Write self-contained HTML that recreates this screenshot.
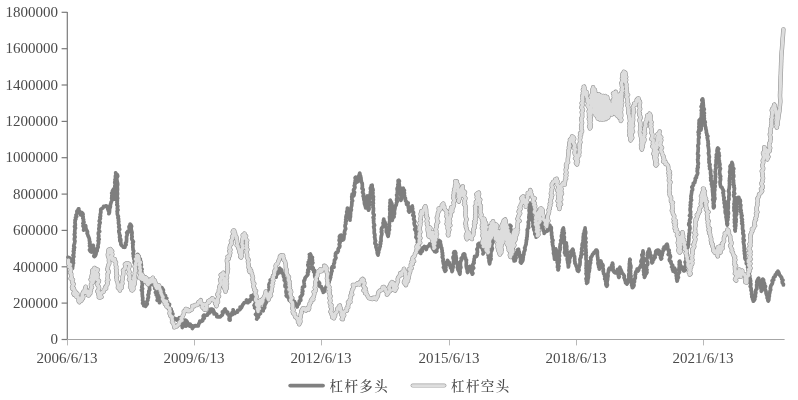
<!DOCTYPE html>
<html><head><meta charset="utf-8">
<style>
html,body{margin:0;padding:0;background:#fff;}
body{width:798px;height:400px;overflow:hidden;}
svg{display:block;will-change:transform;}
text{font-family:"Liberation Serif","Noto Serif CJK SC",serif;fill:#4a4a4a;}
.yl{font-size:15px;text-anchor:end;}
.xl{font-size:15px;text-anchor:middle;}
.lg{font-size:13.5px;letter-spacing:1.4px;font-weight:500;font-family:"Liberation Serif","Noto Serif CJK SC",serif;}
</style></head><body>
<svg width="798" height="400" viewBox="0 0 798 400">
<rect width="798" height="400" fill="#fff"/>
<!-- axes -->
<g stroke="#7a7a7a" stroke-width="1.2" fill="none">
<line x1="67.3" y1="12" x2="67.3" y2="339.5"/>
<g id="yt">
<line x1="61.6" y1="12.3" x2="67.3" y2="12.3"/>
<line x1="61.6" y1="48.7" x2="67.3" y2="48.7"/>
<line x1="61.6" y1="85" x2="67.3" y2="85"/>
<line x1="61.6" y1="121.4" x2="67.3" y2="121.4"/>
<line x1="61.6" y1="157.7" x2="67.3" y2="157.7"/>
<line x1="61.6" y1="194.1" x2="67.3" y2="194.1"/>
<line x1="61.6" y1="230.4" x2="67.3" y2="230.4"/>
<line x1="61.6" y1="266.8" x2="67.3" y2="266.8"/>
<line x1="61.6" y1="303.1" x2="67.3" y2="303.1"/>
<line x1="61.6" y1="339.5" x2="67.3" y2="339.5"/>
</g>
</g>
<g stroke="#a8a8a8" stroke-width="1" fill="none">
<line x1="67.3" y1="339.5" x2="784.6" y2="339.5" stroke="#a6a6a6" stroke-width="1.1"/>
<line x1="67.5" y1="340" x2="67.5" y2="345.4" stroke="#b8b8b8"/>
<line x1="194.5" y1="340" x2="194.5" y2="345.4" stroke="#b8b8b8"/>
<line x1="321.5" y1="340" x2="321.5" y2="345.4" stroke="#b8b8b8"/>
<line x1="449.5" y1="340" x2="449.5" y2="345.4" stroke="#b8b8b8"/>
<line x1="576.5" y1="340" x2="576.5" y2="345.4" stroke="#b8b8b8"/>
<line x1="703.5" y1="340" x2="703.5" y2="345.4" stroke="#b8b8b8"/>
</g>
<g class="yl">
<text x="58" y="17">1800000</text>
<text x="58" y="53.4">1600000</text>
<text x="58" y="89.7">1400000</text>
<text x="58" y="126.1">1200000</text>
<text x="58" y="162.4">1000000</text>
<text x="58" y="198.8">800000</text>
<text x="58" y="235.1">600000</text>
<text x="58" y="271.5">400000</text>
<text x="58" y="307.8">200000</text>
<text x="58" y="344.2">0</text>
</g>
<g class="xl">
<text x="67" y="363.3">2006/6/13</text>
<text x="194" y="363.3">2009/6/13</text>
<text x="321" y="363.3">2012/6/13</text>
<text x="449" y="363.3">2015/6/13</text>
<text x="576" y="363.3">2018/6/13</text>
<text x="703" y="363.3">2021/6/13</text>
</g>
<!-- SERIES -->
<g fill="none" stroke-linejoin="round" stroke-linecap="round">
<path d="M68.0 257.3 L69.4 257.7 L69.7 259.0 L69.7 260.4 L70.2 261.6 L70.5 262.9 L71.0 264.1 L71.4 265.3 L72.0 266.5 L71.8 268.0 L72.5 268.4 L72.6 266.9 L72.9 265.6 L72.6 264.3 L73.5 263.1 L73.1 261.7 L73.4 260.4 L73.0 259.1 L73.2 257.8 L73.9 256.6 L73.0 255.2 L73.7 254.0 L73.9 252.7 L73.3 251.3 L74.2 250.1 L73.6 248.7 L74.6 247.5 L73.7 246.1 L74.0 244.8 L74.5 243.6 L74.7 242.3 L75.0 241.0 L74.4 239.7 L74.4 238.4 L75.1 237.1 L74.7 235.8 L74.3 234.5 L75.0 233.2 L74.7 231.9 L74.8 230.6 L74.9 229.3 L75.5 228.0 L74.5 226.6 L75.3 225.4 L75.3 224.1 L74.9 222.8 L75.2 221.5 L75.0 220.1 L75.9 219.0 L75.5 217.6 L76.7 216.5 L76.0 215.0 L77.0 214.0 L77.0 212.6 L76.9 211.1 L78.0 210.2 L78.4 208.9 L78.8 208.8 L78.9 210.2 L79.3 211.3 L80.0 212.4 L81.0 213.5 L80.7 215.0 L81.1 213.8 L81.6 212.4 L82.5 213.1 L83.1 214.3 L82.6 215.7 L83.2 216.9 L82.8 218.3 L83.6 219.5 L83.3 220.8 L84.0 222.1 L82.9 223.4 L83.9 224.7 L83.0 226.0 L83.8 227.3 L84.0 228.6 L83.6 230.1 L84.4 229.0 L84.4 227.6 L84.8 226.3 L85.7 225.8 L85.7 227.0 L85.9 228.3 L86.3 229.5 L86.9 230.7 L87.5 231.9 L87.1 233.3 L87.7 234.4 L88.0 235.7 L88.6 236.9 L89.1 238.1 L89.4 239.4 L89.4 240.7 L90.0 242.0 L89.5 243.3 L90.3 244.5 L89.5 245.9 L90.3 247.2 L90.4 248.5 L89.5 249.8 L90.2 251.2 L91.3 252.0 L91.7 250.7 L92.1 249.4 L92.5 248.2 L92.8 247.0 L93.2 245.4 L93.5 246.9 L93.8 248.2 L93.6 249.5 L93.9 250.8 L94.5 252.0 L94.3 253.4 L94.5 254.6 L93.8 256.0 L94.5 256.6 L95.3 255.7 L95.9 254.5 L96.1 253.2 L96.1 251.8 L97.2 250.8 L97.1 249.4 L97.5 248.2 L98.2 247.1 L97.9 245.7 L98.2 244.4 L98.6 243.2 L98.7 241.9 L98.1 240.6 L99.2 239.3 L98.3 238.0 L98.8 236.7 L98.8 235.4 L98.3 234.0 L98.4 232.7 L99.7 231.5 L99.1 230.2 L98.8 228.9 L99.2 227.6 L99.4 226.3 L99.1 225.0 L99.8 223.7 L100.2 222.5 L99.2 221.1 L99.7 219.8 L100.4 218.6 L99.8 217.2 L100.6 216.0 L100.2 214.6 L100.6 213.4 L100.9 212.1 L100.7 210.8 L100.8 209.3 L101.9 208.6 L102.9 208.0 L103.6 206.4 L105.1 206.3 L106.4 205.8 L107.0 206.3 L107.5 207.5 L107.7 208.8 L108.2 210.0 L108.6 211.2 L109.3 212.4 L108.9 213.7 L109.4 212.6 L109.5 211.3 L109.6 209.9 L109.6 208.6 L110.2 207.4 L110.4 206.2 L110.3 204.8 L110.8 203.6 L111.1 202.3 L111.6 201.1 L112.1 199.8 L111.6 198.4 L112.0 197.2 L111.8 195.8 L112.6 194.6 L111.7 193.2 L112.6 192.0 L112.5 190.6 L113.6 189.7 L113.5 189.1 L113.7 190.3 L113.7 191.7 L114.0 192.9 L114.2 194.2 L114.0 195.6 L114.7 196.8 L114.2 198.2 L114.5 199.2 L114.5 197.8 L114.9 196.5 L114.2 195.2 L115.0 193.9 L114.8 192.6 L115.5 191.3 L115.4 190.0 L114.9 188.7 L115.0 187.4 L114.8 186.1 L115.7 184.8 L115.0 183.5 L114.7 182.2 L115.3 180.9 L115.0 179.6 L115.9 178.3 L115.4 177.0 L115.5 175.7 L116.1 174.4 L115.7 172.9 L116.5 174.3 L117.4 174.9 L117.7 176.2 L117.0 177.5 L116.7 178.8 L117.0 180.1 L117.1 181.4 L117.5 182.7 L117.7 184.0 L117.6 185.3 L117.2 186.6 L117.4 187.9 L117.5 189.2 L117.4 190.5 L117.2 191.8 L117.5 193.1 L117.5 194.4 L117.1 195.7 L117.3 197.0 L117.7 198.3 L117.0 199.6 L117.4 200.9 L116.9 202.2 L117.4 203.5 L116.8 204.8 L117.8 206.1 L117.5 207.4 L117.3 208.7 L118.0 209.9 L117.1 211.3 L117.4 212.6 L117.3 213.9 L117.7 215.2 L118.4 216.4 L117.9 217.8 L118.6 219.0 L118.4 220.4 L118.8 221.6 L118.4 223.0 L118.8 224.2 L119.3 225.5 L118.7 226.9 L119.2 228.1 L119.7 229.4 L118.8 230.8 L118.9 232.1 L119.4 233.3 L119.5 234.6 L120.2 235.8 L119.5 237.2 L120.2 238.4 L119.8 239.8 L120.0 241.1 L120.3 241.5 L120.8 240.2 L120.8 239.4 L120.8 240.5 L120.6 241.9 L120.9 243.1 L120.9 244.5 L121.8 245.7 L123.0 246.3 L123.3 247.2 L124.6 246.8 L124.9 247.2 L125.1 245.7 L126.1 244.7 L125.5 243.2 L126.4 242.0 L126.5 240.7 L126.6 239.4 L126.6 238.1 L126.5 236.8 L126.9 235.6 L127.3 234.3 L126.7 232.7 L128.1 232.0 L127.9 231.3 L128.7 231.9 L129.0 230.7 L129.6 229.5 L129.2 228.1 L129.0 226.7 L129.9 225.6 L130.1 224.1 L131.0 225.1 L131.6 226.3 L130.9 227.7 L131.1 229.0 L131.4 230.3 L131.8 231.5 L132.1 232.8 L131.9 234.1 L131.7 235.5 L132.2 236.7 L131.7 238.1 L131.9 239.4 L132.6 240.6 L133.4 241.8 L132.5 243.2 L133.1 244.4 L132.8 245.8 L132.8 247.1 L133.0 248.3 L133.0 249.7 L133.7 250.9 L133.4 252.2 L133.0 253.6 L133.9 254.8 L133.3 256.2 L133.8 257.4 L133.8 258.7 L134.5 259.9 L134.3 261.3 L134.2 262.6 L134.6 263.0 L135.0 261.7 L135.3 260.5 L135.5 259.1 L135.6 257.8 L136.9 257.0 L137.1 255.6 L137.7 254.4 L138.1 255.7 L139.2 256.6 L139.0 258.0 L140.3 258.9 L140.1 260.4 L140.8 261.5 L141.1 262.7 L141.1 264.0 L141.4 265.3 L140.6 266.7 L140.7 268.0 L142.0 269.2 L140.8 270.6 L141.8 271.8 L141.2 273.1 L141.9 274.4 L141.4 275.7 L141.4 277.0 L141.2 278.3 L141.5 279.6 L141.8 280.9 L142.3 282.2 L142.2 283.5 L142.4 284.8 L142.0 286.1 L141.8 287.4 L142.6 288.7 L141.4 290.1 L142.3 291.3 L142.3 292.6 L142.2 293.9 L142.4 295.2 L142.4 296.5 L142.8 297.8 L142.7 299.1 L142.6 300.4 L143.3 301.6 L142.6 303.3 L143.6 304.2 L143.7 305.6 L145.2 305.8 L145.5 306.3 L146.4 305.2 L147.3 304.0 L146.9 302.6 L147.0 301.3 L147.9 300.2 L147.7 298.8 L148.4 297.6 L148.4 296.3 L148.0 294.9 L148.9 293.7 L148.8 292.4 L148.8 291.1 L149.7 289.9 L149.5 288.6 L149.5 287.2 L149.6 285.9 L150.0 284.8 L150.2 285.1 L149.7 283.7 L150.5 281.5 L152.0 282.8 L152.8 284.0 L154.2 284.0 L156.4 284.2 L154.2 286.1 L156.0 287.0 L154.8 288.6 L156.2 289.6 L156.7 290.8 L155.5 292.4 L158.0 293.2 L156.3 294.9 L157.9 295.9 L157.3 297.4 L158.4 298.4 L157.2 300.3 L159.2 300.6 L160.0 301.6 L159.5 302.7 L159.6 301.7 L160.4 300.5 L161.7 299.5 L161.2 298.1 L160.1 296.5 L159.4 295.1 L160.5 294.0 L161.9 292.9 L161.4 291.5 L161.4 290.1 L162.7 289.0 L161.8 287.6 L161.4 289.7 L163.4 290.1 L162.6 291.8 L163.7 292.8 L163.9 294.1 L163.2 295.7 L165.5 295.5 L165.2 298.2 L166.8 298.3 L165.8 300.0 L165.6 301.5 L167.6 302.1 L167.1 303.7 L169.5 304.2 L169.2 305.7 L167.5 307.7 L169.3 308.4 L171.1 309.0 L171.2 310.4 L172.0 311.5 L169.9 313.8 L172.9 313.9 L172.2 315.6 L171.7 317.3 L173.0 318.1 L173.2 319.2 L173.3 317.9 L174.4 318.8 L175.3 318.6 L176.6 320.0 L177.3 319.1 L178.6 318.9 L179.3 317.8 L179.9 319.3 L181.0 320.2 L180.9 321.7 L180.6 323.2 L181.9 324.0 L181.8 325.5 L183.2 326.3 L182.3 327.5 L182.8 324.9 L185.8 326.1 L185.8 324.8 L183.3 322.9 L184.2 321.8 L185.5 320.7 L185.3 320.1 L186.5 320.9 L187.3 322.0 L186.1 324.5 L188.7 323.8 L188.3 325.5 L189.6 325.0 L190.3 324.1 L189.6 326.1 L192.6 325.8 L193.4 326.8 L192.3 328.5 L192.2 325.9 L194.2 326.4 L195.3 325.6 L196.8 326.0 L198.2 326.0 L198.7 323.9 L199.5 322.8 L199.8 321.0 L201.7 321.4 L202.8 320.5 L202.9 318.8 L204.2 318.2 L203.2 316.1 L203.9 315.1 L206.2 315.5 L207.4 315.1 L208.0 313.4 L209.4 313.0 L209.4 311.9 L210.0 311.8 L211.0 311.2 L210.3 309.3 L211.6 309.0 L213.2 309.7 L212.4 311.7 L214.1 311.7 L214.1 313.9 L215.6 313.7 L216.7 314.5 L216.8 316.6 L218.2 316.9 L219.0 316.8 L220.3 316.8 L221.2 315.8 L222.3 315.0 L222.7 313.7 L222.4 311.9 L224.5 312.0 L224.2 310.0 L225.1 309.0 L225.7 310.3 L226.3 311.5 L227.7 312.1 L227.4 313.8 L228.8 314.5 L229.0 315.8 L229.7 317.0 L229.1 318.6 L229.2 319.9 L230.1 320.1 L230.0 318.8 L229.6 317.3 L230.5 316.2 L230.8 314.9 L232.8 314.4 L232.0 312.6 L233.6 311.9 L233.1 309.9 L233.4 311.6 L234.5 312.3 L235.1 313.4 L235.9 312.1 L237.5 312.1 L237.7 310.3 L239.2 310.0 L240.3 309.1 L240.1 307.2 L241.5 307.7 L242.2 305.9 L242.8 304.7 L243.6 303.6 L244.3 302.5 L246.1 302.4 L247.3 301.8 L246.5 299.9 L247.7 300.9 L247.9 302.3 L248.1 302.6 L248.0 300.9 L249.9 301.3 L249.8 299.8 L251.7 299.3 L251.3 297.6 L251.1 295.8 L253.7 296.2 L253.1 294.9 L252.5 297.0 L254.5 297.3 L254.3 298.8 L255.1 299.9 L255.3 301.2 L256.7 302.3 L254.9 303.9 L254.1 305.4 L255.8 306.4 L254.7 307.8 L256.3 309.0 L257.6 310.2 L256.9 311.5 L257.3 312.8 L255.5 314.3 L256.8 315.5 L256.9 316.7 L257.5 318.0 L256.7 319.1 L257.3 318.0 L258.4 317.1 L257.2 315.2 L259.2 314.5 L260.4 313.6 L258.1 311.4 L258.6 310.2 L259.7 309.0 L260.6 308.0 L261.2 308.2 L262.7 308.6 L262.5 310.4 L263.2 310.8 L263.0 309.7 L263.9 308.6 L264.7 307.6 L264.5 306.1 L265.0 304.9 L265.5 303.7 L266.2 302.6 L266.8 301.4 L266.3 299.8 L268.1 299.1 L268.2 297.8 L267.3 296.2 L268.1 295.0 L268.4 293.8 L269.3 292.6 L268.5 291.1 L269.0 289.9 L270.2 288.7 L268.9 287.3 L269.3 286.0 L268.9 284.7 L269.5 283.4 L270.3 282.2 L270.6 280.9 L270.2 279.9 L270.6 281.5 L271.8 282.2 L271.6 280.7 L273.2 279.8 L272.6 278.3 L272.4 276.8 L273.1 275.5 L274.3 274.9 L274.6 273.8 L275.0 275.4 L275.9 276.3 L276.2 277.2 L276.2 275.4 L276.9 274.3 L277.9 273.7 L278.7 272.5 L278.5 271.1 L279.5 270.1 L279.3 268.7 L279.8 268.1 L280.3 269.3 L281.6 270.0 L281.9 271.3 L281.8 272.9 L283.1 273.6 L283.4 274.9 L283.5 276.3 L284.0 277.5 L284.8 278.6 L284.2 280.1 L285.3 281.2 L285.4 282.5 L285.6 283.8 L285.0 285.3 L285.1 286.5 L286.4 287.6 L286.7 288.9 L286.2 290.3 L286.0 291.6 L286.2 292.9 L287.3 294.0 L286.2 295.5 L287.2 296.8 L288.7 297.4 L288.8 298.8 L289.2 300.2 L290.3 299.2 L291.0 298.1 L292.6 297.8 L292.5 299.8 L293.2 300.9 L294.5 301.6 L295.0 302.7 L295.7 303.8 L296.7 304.8 L296.9 306.2 L297.2 306.9 L296.8 305.6 L298.1 304.7 L298.9 303.6 L299.3 302.4 L299.3 300.9 L300.8 300.2 L300.5 298.7 L300.2 297.2 L301.3 296.2 L302.0 295.1 L302.6 293.9 L302.1 292.4 L302.9 291.3 L302.3 289.8 L302.5 288.5 L302.6 287.2 L304.5 286.3 L304.3 284.9 L304.2 283.6 L304.0 282.2 L303.9 280.9 L304.8 279.6 L305.0 278.1 L305.5 277.4 L306.4 276.3 L307.4 275.3 L308.0 274.1 L307.5 272.6 L308.6 271.5 L307.8 270.0 L309.1 268.9 L308.9 267.6 L308.3 266.2 L307.8 264.8 L309.0 263.6 L308.3 262.2 L310.0 261.2 L309.2 259.7 L310.2 258.6 L309.5 257.1 L310.6 256.0 L309.4 254.5 L310.3 254.0 L310.9 255.2 L311.1 256.4 L312.4 257.5 L312.0 258.9 L312.5 260.1 L311.8 261.6 L312.9 262.7 L311.9 264.2 L312.0 265.5 L312.2 266.8 L313.2 267.9 L312.6 269.3 L314.3 270.1 L313.7 271.8 L315.1 272.6 L314.8 274.1 L314.7 275.7 L314.9 277.0 L317.0 277.3 L317.2 278.7 L316.6 280.8 L317.7 281.5 L318.9 282.2 L319.6 283.3 L319.0 285.1 L319.7 286.4 L321.3 286.6 L321.5 288.1 L322.3 289.1 L322.5 290.5 L323.3 291.6 L323.3 292.4 L324.4 291.4 L324.8 290.0 L324.9 288.6 L325.9 287.6 L326.2 286.3 L327.7 286.1 L328.0 284.5 L328.0 283.1 L329.2 282.2 L329.1 280.7 L330.0 279.7 L330.1 278.4 L330.7 277.2 L330.2 275.8 L331.1 274.6 L331.3 273.4 L331.4 272.0 L332.1 270.9 L331.7 269.4 L331.6 268.1 L332.3 266.7 L334.0 267.2 L333.8 265.2 L333.7 263.8 L334.5 262.7 L334.4 261.3 L334.5 260.0 L335.5 258.9 L336.0 257.7 L335.3 256.2 L335.6 254.9 L335.5 253.6 L336.4 252.4 L337.5 252.3 L338.3 250.8 L338.1 249.3 L338.6 248.2 L339.6 247.0 L339.9 245.8 L339.2 244.4 L339.8 243.1 L340.2 241.9 L339.1 240.4 L339.5 239.2 L339.7 237.9 L339.4 236.6 L340.4 235.2 L341.4 235.0 L341.1 236.5 L342.1 237.6 L342.0 239.0 L342.8 240.1 L343.7 239.2 L343.9 237.8 L344.0 236.5 L343.9 235.2 L344.8 234.0 L344.4 232.6 L344.6 231.4 L345.0 230.1 L345.7 228.9 L345.4 227.5 L345.0 226.2 L345.2 224.9 L345.9 223.7 L345.5 222.3 L346.3 221.1 L345.7 219.7 L346.2 218.5 L345.9 217.1 L346.2 215.8 L346.6 214.6 L347.3 213.4 L346.7 212.0 L347.2 210.7 L347.4 209.4 L347.4 208.0 L347.8 209.2 L348.2 210.5 L348.6 211.7 L349.0 213.0 L349.1 214.3 L349.4 215.5 L349.4 216.8 L350.0 218.1 L349.9 219.4 L350.0 220.1 L349.7 218.7 L350.3 217.5 L350.5 216.2 L350.4 214.9 L350.6 213.6 L350.4 212.3 L350.9 211.0 L351.4 209.7 L350.9 208.4 L351.2 207.1 L351.7 205.9 L351.8 204.6 L351.9 203.3 L351.8 202.0 L352.6 200.7 L351.8 199.4 L352.0 198.1 L351.7 196.8 L352.1 195.5 L352.1 194.0 L353.2 194.8 L353.7 195.9 L354.1 194.8 L354.1 193.5 L354.6 192.3 L353.6 190.9 L353.6 189.6 L354.6 188.3 L355.0 187.1 L354.2 185.7 L355.0 184.5 L354.7 183.1 L355.2 181.9 L355.2 180.6 L355.8 179.3 L355.1 177.9 L355.7 177.1 L355.9 178.3 L356.4 179.5 L357.2 180.6 L357.1 182.1 L358.1 181.2 L359.1 180.0 L358.4 178.5 L358.8 177.3 L358.8 176.0 L359.3 174.7 L359.9 173.6 L359.7 173.2 L359.4 174.4 L360.4 175.5 L360.7 176.8 L361.0 178.1 L361.0 179.4 L361.3 180.7 L361.3 182.0 L362.2 183.1 L362.3 184.4 L362.3 185.8 L362.4 187.1 L362.0 188.4 L363.2 189.6 L363.0 190.9 L362.5 192.3 L363.4 193.5 L363.5 194.8 L363.1 196.2 L363.9 197.3 L363.7 198.7 L364.0 200.0 L364.5 201.2 L364.4 202.5 L364.5 203.8 L365.0 205.1 L365.3 206.3 L365.7 207.6 L365.7 208.0 L365.5 206.8 L366.1 205.5 L366.2 204.2 L366.4 203.0 L366.4 201.7 L366.7 200.4 L366.9 199.1 L367.5 197.9 L367.6 196.6 L367.1 196.0 L367.1 197.4 L366.9 198.7 L367.7 199.9 L367.5 201.3 L367.5 202.6 L367.9 203.9 L368.3 205.1 L368.0 206.5 L368.8 207.7 L368.2 209.1 L368.5 210.2 L369.1 208.9 L369.0 207.6 L368.8 206.2 L369.4 205.0 L368.7 203.6 L369.7 202.4 L369.1 201.0 L369.1 199.7 L369.9 198.5 L369.4 197.1 L369.6 195.9 L370.0 194.6 L370.8 193.4 L370.4 192.0 L371.2 190.8 L370.6 189.4 L370.4 188.1 L371.2 186.9 L371.3 185.5 L372.1 185.2 L372.2 186.4 L372.0 187.7 L372.8 188.9 L373.1 190.2 L372.4 191.6 L373.0 192.8 L372.8 194.1 L372.7 195.4 L373.5 196.7 L372.9 198.0 L373.4 199.3 L373.2 200.6 L373.0 201.9 L373.4 203.2 L372.8 204.5 L373.2 205.8 L372.9 207.1 L373.5 208.4 L373.4 209.7 L373.4 211.0 L373.1 212.3 L373.2 213.6 L374.2 214.9 L373.9 216.2 L373.1 217.5 L373.9 218.8 L373.5 220.1 L373.7 221.4 L373.6 222.7 L374.0 224.0 L374.6 225.3 L373.6 226.6 L373.9 227.9 L374.3 229.2 L374.3 230.5 L374.2 231.8 L374.2 233.1 L374.8 234.4 L374.9 235.7 L374.5 237.0 L375.0 238.2 L375.0 239.6 L375.6 240.8 L375.0 242.2 L374.9 243.5 L376.3 244.6 L375.9 246.0 L376.0 247.3 L376.7 248.5 L376.7 249.8 L377.4 251.0 L377.2 252.4 L377.4 253.7 L378.1 255.1 L378.1 253.7 L378.7 252.5 L378.4 251.1 L379.0 250.0 L379.5 248.8 L379.6 247.4 L380.3 246.3 L380.0 244.8 L380.7 243.7 L380.4 242.3 L381.1 241.1 L381.0 239.7 L381.0 238.4 L381.1 237.2 L381.3 235.9 L381.8 234.6 L381.9 233.3 L381.3 231.9 L381.9 230.7 L381.3 229.3 L381.7 228.0 L382.7 226.9 L383.2 225.7 L383.4 224.4 L383.0 223.0 L383.9 221.9 L383.8 220.5 L383.8 219.1 L383.5 220.6 L384.7 221.6 L385.1 222.8 L385.5 224.1 L385.4 225.4 L385.8 226.7 L386.2 227.9 L386.5 229.2 L386.3 230.5 L386.3 231.9 L387.1 233.0 L387.4 234.3 L387.7 235.6 L388.2 236.3 L388.3 234.9 L388.7 233.7 L388.7 232.3 L388.5 231.0 L389.5 229.8 L389.1 228.4 L389.3 227.2 L389.6 225.9 L389.1 224.6 L389.4 223.3 L389.5 222.0 L389.8 220.7 L389.7 219.4 L389.6 218.1 L389.5 216.8 L390.3 215.5 L389.9 214.2 L389.9 212.9 L390.4 211.6 L389.8 210.3 L389.7 209.0 L390.2 207.7 L389.7 206.4 L390.4 205.1 L390.1 203.8 L390.0 202.5 L390.5 201.2 L390.2 200.2 L390.8 201.3 L391.2 202.5 L391.9 203.7 L391.7 205.0 L390.9 206.4 L391.8 207.6 L391.0 209.0 L391.8 210.2 L391.3 211.6 L391.2 212.9 L392.0 214.1 L391.8 215.4 L392.1 216.7 L391.7 218.1 L392.4 219.3 L392.2 220.4 L392.5 218.9 L393.1 217.7 L394.1 216.8 L393.7 215.2 L394.5 214.0 L394.5 212.7 L394.3 211.4 L394.6 210.1 L394.9 208.8 L395.1 207.6 L394.8 205.9 L396.1 205.4 L396.4 204.1 L396.5 202.8 L397.2 201.5 L396.6 200.2 L396.7 198.9 L397.2 197.6 L397.0 196.3 L396.6 195.0 L397.7 193.8 L397.3 192.4 L397.6 191.1 L397.2 189.8 L397.1 188.5 L397.7 187.2 L398.3 186.0 L397.8 184.6 L398.5 183.4 L398.2 182.0 L398.1 180.7 L398.8 180.1 L399.4 181.2 L398.9 182.7 L399.2 183.9 L399.3 185.2 L399.4 186.5 L400.2 187.7 L399.5 189.1 L399.6 190.4 L400.4 191.6 L400.3 192.9 L400.3 194.2 L401.1 195.5 L401.0 196.8 L401.0 198.1 L400.4 199.4 L400.8 200.3 L401.5 198.9 L401.2 197.5 L401.6 196.3 L401.6 195.0 L402.1 193.7 L401.6 192.3 L402.5 191.2 L402.9 189.9 L402.8 188.5 L403.2 188.1 L403.5 189.3 L404.4 190.4 L403.7 192.0 L404.5 193.1 L404.0 194.5 L404.6 195.7 L404.5 197.1 L405.4 198.2 L405.4 199.6 L405.6 200.9 L406.7 201.9 L406.5 203.3 L406.6 204.3 L407.4 202.8 L408.2 203.1 L407.8 204.5 L408.1 205.8 L408.3 207.0 L408.5 208.3 L408.9 209.6 L408.5 210.9 L409.2 212.1 L409.7 210.9 L410.0 209.6 L410.4 208.4 L411.1 207.3 L412.4 206.7 L412.2 206.0 L412.2 207.4 L412.7 208.7 L412.4 210.0 L412.5 211.3 L413.5 212.5 L413.4 213.8 L412.8 215.3 L414.2 216.3 L414.0 217.7 L413.6 219.1 L414.3 220.3 L414.9 221.5 L414.1 222.9 L414.3 224.2 L414.7 225.5 L415.8 226.6 L415.7 227.9 L414.7 229.4 L415.6 230.6 L416.2 231.8 L416.0 233.2 L416.3 234.4 L416.3 235.7 L415.9 237.2 L416.9 238.3 L417.2 239.5 L418.0 240.7 L417.3 242.2 L418.2 243.3 L417.9 244.7 L418.7 245.9 L418.4 247.2 L418.1 248.6 L419.7 249.4 L419.1 251.2 L419.6 252.4 L420.7 253.4 L421.1 252.0 L422.4 251.2 L422.2 249.6 L422.4 248.1 L423.6 247.4 L424.4 246.4 L425.3 247.2 L425.7 248.6 L426.3 249.5 L426.7 248.1 L427.2 246.9 L428.4 246.1 L429.2 245.2 L429.8 243.9 L430.1 243.7 L430.3 245.4 L431.7 245.8 L432.0 247.2 L432.7 248.3 L433.2 249.4 L434.0 250.4 L434.8 251.6 L435.7 251.9 L436.9 251.1 L436.2 249.3 L437.3 248.4 L437.8 247.2 L437.8 245.8 L438.3 244.6 L438.6 243.4 L438.5 242.0 L439.1 240.5 L440.4 241.4 L440.3 242.9 L440.7 244.2 L441.0 245.5 L440.8 246.8 L441.8 247.9 L441.8 249.3 L442.2 250.5 L442.0 251.8 L442.6 253.1 L442.3 254.4 L442.9 255.7 L442.2 257.1 L442.9 258.3 L443.3 259.6 L442.9 260.9 L443.2 262.2 L443.4 263.5 L443.9 264.7 L444.3 265.9 L443.4 267.4 L444.3 268.5 L444.4 269.9 L445.0 271.0 L445.1 271.3 L446.0 270.2 L445.2 268.7 L445.9 267.5 L445.4 266.1 L446.5 265.0 L446.5 263.7 L446.5 262.4 L447.3 261.3 L447.6 260.5 L448.4 261.8 L449.3 262.6 L449.3 264.0 L449.5 265.3 L450.5 266.3 L450.5 267.7 L451.6 268.6 L451.8 270.0 L452.0 271.6 L452.6 270.1 L452.2 268.8 L453.0 267.6 L453.2 266.3 L452.3 264.8 L453.6 263.7 L453.4 262.4 L453.5 261.1 L454.0 259.8 L453.1 258.4 L453.0 257.1 L453.9 255.9 L454.6 254.6 L453.6 253.2 L454.1 251.8 L455.1 251.7 L455.8 253.1 L455.6 254.5 L455.8 255.8 L456.1 257.0 L456.4 258.3 L456.1 259.7 L456.1 261.0 L457.1 262.2 L457.0 263.5 L457.4 264.7 L457.7 266.0 L457.3 267.4 L457.8 268.6 L458.0 269.9 L458.6 270.9 L459.3 272.0 L459.5 273.5 L459.9 274.2 L460.0 272.6 L460.2 271.3 L459.9 270.0 L460.3 268.7 L460.9 267.4 L460.5 266.1 L460.4 264.8 L460.4 263.5 L460.4 262.1 L461.0 260.9 L461.5 259.7 L461.2 258.3 L462.4 257.2 L462.9 256.4 L463.0 254.8 L463.9 253.8 L464.5 254.0 L464.9 255.1 L464.4 256.6 L465.5 257.6 L465.3 258.9 L466.5 260.1 L466.2 261.4 L466.4 262.7 L466.2 264.1 L466.2 265.4 L466.3 266.7 L466.6 268.0 L467.0 269.2 L467.3 270.5 L467.3 271.8 L467.7 272.5 L467.4 271.2 L468.5 270.2 L469.1 269.0 L468.8 267.5 L469.6 266.4 L469.9 266.3 L469.8 267.7 L470.4 268.9 L471.2 270.0 L471.3 271.3 L471.6 272.6 L472.6 273.6 L472.4 274.2 L472.9 273.3 L472.0 271.8 L472.2 270.5 L472.6 269.3 L473.7 268.1 L473.0 266.7 L472.7 265.3 L473.0 264.1 L474.1 262.9 L473.7 261.6 L474.2 260.3 L474.1 259.0 L474.7 257.8 L474.6 256.3 L476.5 256.3 L477.3 254.7 L477.1 253.3 L477.5 252.1 L477.4 250.7 L476.9 249.3 L477.7 248.1 L478.1 246.9 L478.0 245.5 L477.9 244.2 L479.1 243.4 L480.2 243.2 L481.4 243.7 L482.0 245.0 L481.5 246.4 L481.7 247.7 L482.6 248.9 L482.7 250.2 L483.5 251.4 L483.4 252.7 L483.0 253.9 L483.7 252.7 L483.9 251.4 L482.8 249.8 L483.5 248.6 L483.7 247.3 L484.0 246.0 L484.7 244.9 L485.1 243.7 L486.1 242.6 L485.8 241.1 L487.0 242.2 L486.5 243.8 L487.8 244.7 L487.2 246.2 L487.8 247.5 L488.6 248.6 L487.9 250.1 L487.7 251.4 L488.8 252.6 L488.6 253.9 L488.1 255.3 L488.9 256.5 L488.4 257.8 L489.2 259.1 L489.0 260.4 L489.1 261.7 L489.5 263.0 L489.6 263.8 L489.9 262.6 L489.7 261.2 L490.6 260.1 L491.1 258.9 L489.9 257.3 L491.0 256.2 L490.9 254.8 L490.9 253.5 L490.8 252.2 L491.5 251.0 L492.0 249.8 L492.4 248.5 L491.7 247.1 L491.7 245.8 L491.9 244.5 L492.4 243.3 L493.1 242.1 L492.5 240.6 L492.1 239.2 L493.7 238.2 L492.5 236.7 L493.3 235.5 L494.0 234.5 L495.2 233.8 L495.4 235.4 L497.1 235.5 L497.0 237.5 L497.8 238.5 L498.9 239.0 L498.5 240.3 L499.5 241.6 L498.5 242.9 L499.2 244.2 L499.4 245.5 L498.8 246.8 L499.8 248.1 L499.3 249.4 L498.9 250.7 L499.1 250.9 L498.9 249.7 L499.7 248.6 L499.8 247.2 L500.0 246.0 L500.7 244.8 L501.1 243.6 L501.6 242.3 L500.7 240.7 L501.0 239.4 L502.0 238.5 L502.1 237.1 L502.4 235.8 L503.1 234.8 L504.2 235.8 L505.1 237.2 L505.7 235.9 L506.8 235.0 L506.2 233.1 L507.8 232.5 L508.5 231.4 L508.3 229.9 L508.5 228.6 L508.3 227.1 L509.4 226.2 L510.1 225.2 L511.0 226.2 L510.2 227.6 L510.7 228.9 L511.1 230.1 L510.2 231.6 L511.3 232.7 L511.9 234.0 L510.9 235.4 L511.9 236.6 L511.5 238.0 L512.5 239.2 L512.5 240.5 L512.0 241.8 L511.5 243.2 L512.3 244.4 L512.2 245.7 L512.2 247.0 L513.0 248.3 L513.3 249.5 L513.2 250.8 L512.7 252.2 L513.2 253.5 L513.5 254.7 L513.2 256.1 L513.7 257.3 L513.4 258.7 L514.1 259.9 L514.1 261.0 L515.3 260.5 L515.5 259.0 L516.1 257.8 L515.8 256.4 L515.9 255.1 L517.4 254.1 L516.4 252.6 L517.8 251.6 L517.4 250.0 L518.5 249.1 L518.6 250.4 L519.0 251.7 L519.4 252.9 L519.5 254.2 L520.4 255.3 L519.8 256.8 L520.6 257.9 L520.5 259.3 L520.7 260.6 L520.3 262.0 L521.2 263.1 L521.9 262.0 L522.6 260.9 L523.0 259.7 L523.0 258.2 L523.3 257.0 L523.0 255.6 L523.9 254.5 L523.9 253.1 L524.0 251.8 L524.7 250.7 L525.1 249.4 L524.6 247.9 L525.3 246.8 L525.5 245.5 L526.1 244.3 L526.1 243.0 L526.4 241.7 L526.3 240.4 L526.9 239.1 L526.7 237.8 L527.2 236.6 L527.1 235.2 L527.3 233.9 L527.3 232.6 L527.5 231.3 L527.2 230.0 L527.7 228.7 L528.7 227.6 L528.2 226.2 L528.5 224.9 L528.6 223.6 L528.2 222.2 L528.8 221.0 L529.4 219.8 L529.0 218.4 L528.8 217.1 L529.1 215.8 L529.1 214.5 L529.8 213.3 L529.4 212.0 L529.1 210.6 L529.2 209.3 L529.7 208.1 L529.4 206.8 L530.2 205.5 L529.8 204.2 L530.2 203.2 L530.8 204.3 L530.4 205.7 L530.9 206.9 L531.0 208.2 L531.6 209.4 L532.2 210.7 L532.3 212.0 L531.4 213.4 L532.1 214.6 L531.5 216.0 L532.4 217.2 L532.3 218.5 L532.5 219.8 L532.9 221.1 L532.9 222.4 L533.0 223.7 L533.3 224.9 L532.8 226.4 L534.1 227.4 L533.7 228.9 L534.0 230.1 L534.8 231.2 L535.0 232.5 L534.8 234.0 L535.6 235.1 L536.1 236.3 L536.2 237.2 L536.8 236.0 L536.8 234.6 L538.0 233.7 L538.2 232.3 L538.4 231.1 L537.7 229.6 L539.0 228.5 L539.2 227.2 L538.8 225.9 L539.4 224.7 L539.1 223.3 L539.4 222.0 L539.7 220.7 L539.4 219.4 L540.4 218.2 L540.2 216.9 L540.5 215.6 L541.1 214.4 L541.2 213.2 L541.5 214.4 L541.5 215.7 L542.0 216.9 L542.3 218.2 L542.7 219.5 L542.5 220.8 L542.5 222.1 L543.1 223.4 L542.5 224.7 L542.9 226.0 L542.6 227.4 L543.0 228.6 L543.2 229.9 L543.6 231.1 L544.3 232.3 L544.2 233.3 L545.1 231.9 L545.8 231.5 L547.5 231.0 L547.6 229.5 L547.8 228.2 L548.8 227.3 L549.1 225.9 L549.8 225.1 L550.1 226.4 L551.3 227.4 L551.3 228.7 L551.2 230.1 L551.2 231.4 L551.7 232.7 L551.6 234.0 L551.6 235.3 L552.1 236.6 L551.9 237.9 L552.2 239.2 L553.0 240.4 L552.1 241.8 L552.7 243.0 L552.5 244.4 L552.8 245.6 L553.2 246.9 L553.3 248.2 L553.3 249.5 L553.7 250.8 L553.7 252.1 L553.5 253.4 L554.0 254.7 L554.2 255.9 L554.4 257.2 L554.5 258.5 L554.6 259.1 L554.9 257.8 L554.7 256.5 L555.0 255.2 L555.0 253.9 L554.9 252.6 L555.4 251.3 L556.2 250.1 L555.8 249.0 L556.1 250.4 L556.7 251.6 L556.3 253.0 L556.7 254.2 L556.6 255.5 L556.5 256.9 L556.5 258.2 L556.5 259.5 L557.8 260.6 L557.1 262.0 L557.5 263.3 L557.9 264.5 L557.6 265.9 L557.5 267.2 L558.6 268.4 L558.0 269.8 L558.2 269.9 L558.4 268.8 L557.8 267.5 L559.0 266.3 L558.0 264.9 L558.5 263.6 L559.1 262.4 L559.0 261.1 L559.4 259.8 L559.1 258.5 L558.8 257.1 L559.6 255.9 L559.3 254.6 L559.0 253.2 L559.5 252.0 L559.6 250.7 L560.2 249.4 L560.0 248.1 L559.9 246.8 L560.2 245.5 L560.2 244.2 L560.8 243.2 L561.4 242.1 L560.7 240.5 L561.7 239.3 L562.0 238.0 L561.4 236.6 L561.5 235.3 L562.7 234.2 L562.0 232.7 L562.6 231.6 L562.4 230.2 L563.6 229.1 L563.3 228.0 L562.8 229.4 L563.8 230.6 L563.5 231.9 L564.3 233.1 L563.7 234.5 L563.7 235.8 L564.4 237.1 L564.2 238.4 L564.3 239.7 L564.2 241.0 L563.9 242.3 L564.4 243.6 L565.2 244.8 L564.7 246.2 L564.6 247.5 L564.8 248.8 L565.1 250.1 L564.8 251.4 L564.5 252.7 L565.3 253.9 L565.3 255.0 L565.3 253.8 L565.3 252.5 L565.1 251.2 L565.9 249.9 L565.3 248.6 L566.1 247.3 L565.8 246.0 L566.4 244.8 L565.6 243.4 L566.3 242.9 L566.3 244.4 L566.6 245.6 L566.8 246.9 L566.2 248.3 L566.9 249.5 L566.4 250.9 L567.5 252.1 L566.9 253.5 L567.8 254.7 L567.1 256.0 L567.5 257.3 L567.2 258.7 L567.3 260.0 L567.7 261.2 L567.7 262.5 L568.1 263.8 L568.2 265.1 L568.3 266.4 L568.3 267.0 L568.6 265.9 L568.6 264.5 L568.8 263.3 L569.5 262.1 L569.5 260.7 L569.2 259.3 L570.0 258.2 L570.3 256.9 L570.4 255.6 L571.0 254.4 L571.4 253.2 L570.7 251.7 L571.8 250.8 L572.4 249.6 L572.7 249.1 L573.2 250.3 L572.6 251.8 L573.7 252.9 L573.9 254.1 L573.6 255.5 L574.6 256.6 L574.6 258.0 L574.8 259.3 L574.6 260.6 L575.0 261.9 L574.9 263.3 L575.8 264.3 L576.0 265.7 L576.6 266.8 L577.1 268.0 L577.1 269.5 L577.5 270.7 L578.3 271.3 L579.1 270.0 L578.4 268.5 L579.1 267.3 L579.3 266.0 L579.9 264.8 L580.0 263.5 L580.1 262.2 L580.1 260.9 L579.9 259.5 L580.3 258.3 L581.1 257.1 L580.8 255.7 L581.8 254.6 L581.3 253.2 L581.5 251.9 L582.2 250.7 L581.6 249.3 L581.9 248.0 L582.6 246.8 L582.1 245.4 L582.2 244.2 L582.7 242.9 L583.3 241.7 L583.0 240.4 L583.3 239.1 L583.2 237.7 L583.3 236.4 L583.7 235.2 L583.5 233.8 L584.4 232.7 L584.3 231.3 L584.6 230.1 L585.1 228.8 L585.1 227.9 L585.1 229.3 L585.1 230.6 L585.7 231.9 L585.7 233.2 L585.3 234.5 L585.1 235.8 L585.3 237.1 L585.9 238.4 L585.2 239.7 L585.0 241.0 L586.1 242.3 L585.5 243.6 L585.4 244.9 L585.9 246.2 L585.4 247.5 L585.8 248.8 L586.0 250.1 L585.9 251.4 L586.2 252.7 L585.3 254.0 L586.3 255.3 L586.0 256.6 L586.0 257.9 L586.0 259.2 L586.4 260.5 L586.5 261.8 L586.2 263.1 L586.3 264.4 L586.1 265.7 L586.4 267.0 L586.0 268.3 L586.6 269.6 L586.2 270.9 L586.8 272.2 L586.0 273.5 L586.5 274.8 L586.8 276.1 L586.8 277.4 L586.0 278.7 L586.4 280.0 L586.4 281.3 L587.3 282.6 L586.7 283.3 L587.7 282.3 L587.8 280.9 L587.9 279.6 L588.2 278.3 L588.5 277.1 L588.4 275.7 L588.6 274.4 L588.5 273.1 L589.1 271.9 L589.4 270.6 L589.3 269.3 L589.8 268.0 L589.6 266.7 L589.9 265.4 L589.8 264.1 L590.6 262.9 L589.6 261.5 L590.8 260.3 L590.9 259.0 L590.5 257.6 L591.5 256.8 L592.1 255.7 L592.6 254.3 L593.7 253.5 L594.1 252.2 L595.4 251.6 L595.9 250.1 L596.7 250.0 L597.3 251.3 L597.4 252.6 L597.3 254.0 L597.4 255.2 L597.5 256.6 L597.8 257.8 L597.8 259.1 L598.0 260.4 L598.4 261.7 L597.9 263.1 L598.2 264.3 L598.7 265.6 L598.7 266.9 L599.5 268.1 L599.3 269.1 L599.7 267.9 L599.8 266.6 L599.7 265.2 L600.7 264.1 L600.0 262.6 L600.5 261.4 L600.8 261.0 L601.3 262.3 L601.4 263.7 L602.7 264.5 L603.1 265.8 L602.2 267.4 L603.1 268.5 L603.4 269.8 L603.1 271.2 L603.6 272.4 L603.6 273.8 L604.9 274.7 L604.6 276.2 L605.2 277.4 L604.7 278.9 L606.0 279.8 L605.6 281.3 L606.2 282.5 L605.8 283.9 L606.1 285.2 L606.8 286.3 L607.4 285.0 L607.1 283.6 L607.0 282.3 L607.2 281.0 L607.6 279.7 L607.6 278.4 L607.8 277.1 L608.1 275.9 L607.9 274.5 L608.0 273.2 L608.4 272.0 L608.5 270.6 L608.7 269.4 L609.4 268.1 L610.4 268.9 L610.8 269.2 L611.2 267.9 L612.0 266.8 L611.6 265.3 L612.5 264.2 L612.4 263.0 L612.9 264.3 L612.7 265.7 L613.1 267.0 L612.8 268.4 L613.3 269.6 L613.3 270.9 L614.2 272.1 L615.4 272.9 L615.8 271.9 L617.1 271.2 L617.7 270.0 L617.4 269.4 L617.4 270.5 L617.7 271.7 L617.8 273.0 L618.1 274.3 L618.5 275.5 L619.3 276.7 L618.8 277.4 L618.4 275.8 L619.1 274.6 L619.0 273.2 L620.0 272.1 L620.1 270.8 L620.3 269.5 L619.7 268.1 L620.0 267.2 L619.9 268.6 L620.8 269.6 L621.3 270.8 L621.8 272.0 L622.1 273.3 L623.1 274.0 L623.9 275.1 L624.4 276.3 L624.0 277.8 L624.8 278.8 L624.9 280.2 L625.5 281.4 L625.6 282.8 L626.6 283.6 L626.9 284.1 L627.6 282.9 L628.3 282.0 L628.3 280.7 L628.6 279.4 L628.9 278.1 L628.9 276.8 L628.9 275.5 L628.8 274.2 L629.5 272.9 L629.2 271.6 L628.9 270.3 L629.3 269.0 L629.2 267.7 L629.4 266.4 L629.5 265.1 L629.3 263.8 L629.8 262.5 L629.7 261.2 L630.2 259.9 L629.8 259.3 L630.0 260.6 L629.6 261.9 L630.2 263.2 L630.2 264.5 L630.8 265.7 L630.9 267.0 L630.7 268.4 L630.1 269.7 L630.7 271.0 L630.3 272.3 L630.7 273.6 L630.2 274.9 L631.1 276.1 L630.8 277.5 L630.7 278.8 L631.8 280.0 L631.5 281.3 L631.6 282.6 L632.0 283.8 L631.6 285.2 L632.2 286.4 L632.3 287.7 L633.4 286.8 L634.0 285.5 L633.9 284.2 L633.5 282.8 L634.5 281.7 L634.4 280.3 L634.6 279.0 L635.3 277.9 L635.3 276.5 L635.1 275.2 L635.7 274.0 L635.6 272.6 L636.2 271.4 L636.8 270.3 L637.1 269.1 L637.3 270.6 L638.0 271.0 L638.7 270.0 L638.7 268.5 L639.6 267.5 L640.4 266.5 L640.7 265.2 L641.7 264.2 L641.4 262.8 L640.9 261.4 L641.5 260.2 L642.1 258.9 L642.5 257.7 L642.2 256.3 L641.8 254.9 L642.7 253.8 L643.2 252.5 L643.0 250.9 L642.8 252.4 L643.6 253.6 L643.0 255.0 L642.4 256.3 L643.3 257.6 L643.6 258.8 L643.3 260.2 L643.5 261.5 L643.3 262.8 L643.4 264.1 L642.9 265.4 L644.1 266.6 L643.4 268.0 L644.9 269.2 L643.5 270.6 L643.7 271.9 L644.5 273.1 L643.7 274.5 L645.2 275.7 L644.4 277.3 L644.5 275.7 L644.7 274.4 L646.3 273.7 L647.0 272.3 L645.8 270.9 L647.0 269.7 L645.6 268.3 L646.6 267.1 L646.3 265.7 L647.7 264.6 L647.7 263.3 L647.5 261.9 L646.7 260.5 L646.8 259.2 L647.0 258.0 L648.3 256.8 L647.3 255.4 L648.3 254.3 L647.7 252.7 L648.1 251.5 L649.1 250.4 L649.0 249.1 L649.4 250.3 L649.7 251.6 L650.1 252.8 L649.8 254.2 L651.0 255.3 L650.0 256.8 L651.7 257.8 L651.3 259.2 L652.4 260.3 L651.6 261.8 L652.0 262.9 L652.7 262.0 L652.8 260.6 L653.7 259.6 L654.1 258.3 L655.2 257.4 L654.7 255.8 L655.3 254.6 L655.8 253.4 L655.7 251.6 L656.6 250.6 L658.1 250.1 L659.3 251.0 L659.2 252.4 L658.5 254.1 L660.0 254.8 L660.5 256.1 L661.2 257.2 L661.7 258.4 L661.1 259.1 L660.5 257.6 L661.2 256.4 L662.1 255.3 L662.2 254.0 L662.6 252.8 L662.7 251.4 L663.5 250.4 L663.3 248.9 L664.4 247.9 L664.1 247.1 L664.7 248.2 L665.7 248.7 L666.9 248.1 L666.7 246.7 L666.2 245.1 L667.1 244.1 L667.4 245.3 L667.7 246.6 L667.7 247.9 L667.8 249.2 L669.2 250.2 L668.7 251.7 L669.4 252.8 L668.2 254.5 L670.1 255.3 L670.5 256.6 L669.9 258.1 L669.3 259.7 L669.7 260.9 L671.1 261.7 L671.0 263.2 L671.8 264.3 L672.7 265.4 L671.6 267.0 L673.3 267.9 L672.5 269.4 L673.1 270.6 L673.1 271.2 L673.4 269.8 L674.6 269.0 L674.5 268.0 L675.0 269.3 L675.7 270.5 L674.9 272.1 L676.0 273.1 L676.5 274.3 L676.2 275.7 L676.7 276.9 L676.5 278.3 L676.9 279.6 L677.0 280.8 L677.1 281.1 L677.5 279.9 L677.6 278.6 L678.4 277.4 L677.3 275.9 L678.2 274.7 L678.4 273.5 L679.5 272.3 L679.3 270.9 L679.0 269.6 L679.0 268.3 L679.3 267.0 L679.4 265.7 L679.2 264.4 L679.5 263.1 L679.2 261.8 L679.7 261.1 L680.2 262.3 L679.9 263.7 L680.4 264.9 L680.3 266.3 L681.0 267.5 L680.2 269.0 L681.1 268.8 L681.7 267.9 L682.5 267.2 L683.3 268.2 L683.1 269.7 L683.7 270.8 L684.1 271.0 L685.3 270.1 L684.1 268.4 L684.9 267.3 L685.6 266.1 L685.8 264.8 L685.7 263.5 L685.1 262.1 L686.0 260.9 L686.2 259.6 L686.0 258.3 L686.5 257.1 L686.2 255.7 L686.4 254.4 L686.9 253.2 L686.5 251.8 L686.7 250.5 L686.5 249.2 L687.4 248.0 L688.1 246.8 L687.5 245.4 L688.7 244.3 L687.9 242.8 L688.7 241.6 L688.8 240.4 L688.9 239.1 L688.9 237.7 L688.7 236.4 L689.3 235.1 L689.0 233.8 L689.7 232.6 L689.5 231.2 L689.4 229.9 L690.0 228.7 L689.9 227.4 L689.7 226.0 L688.7 224.7 L688.9 223.4 L690.1 222.2 L689.5 220.8 L689.8 219.5 L690.5 218.3 L690.9 217.0 L689.5 215.6 L690.6 214.4 L690.4 213.1 L690.7 211.8 L690.1 210.4 L690.1 209.1 L690.3 207.9 L690.8 206.6 L690.2 205.2 L690.9 204.0 L690.4 202.6 L690.8 201.4 L691.6 200.1 L690.8 198.8 L691.2 197.5 L690.9 196.2 L691.3 194.9 L691.5 193.6 L691.7 192.3 L691.7 191.0 L692.6 189.8 L692.5 188.5 L691.8 187.1 L692.7 186.0 L693.5 185.0 L693.3 183.2 L694.8 182.6 L694.9 181.2 L695.4 180.0 L695.2 178.5 L696.4 177.6 L696.3 176.3 L697.0 175.1 L697.5 173.9 L697.7 172.6 L697.1 171.1 L697.6 169.9 L697.2 168.6 L698.2 167.3 L697.7 166.0 L698.1 164.7 L698.4 163.4 L697.8 162.1 L697.9 160.8 L697.6 159.5 L698.2 158.2 L697.9 156.9 L698.6 155.6 L697.6 154.3 L697.7 153.0 L698.1 151.7 L698.1 150.4 L698.2 149.1 L698.3 147.8 L697.9 146.5 L697.9 145.2 L698.7 143.9 L698.6 142.6 L698.5 141.3 L698.5 140.0 L698.5 138.7 L699.2 137.4 L698.8 136.1 L698.4 134.8 L699.3 133.5 L698.1 132.2 L698.7 130.9 L698.9 129.6 L699.2 128.3 L698.8 127.0 L699.3 125.7 L699.0 124.4 L699.0 123.1 L699.2 121.8 L699.1 120.4 L700.0 119.3 L700.6 120.6 L700.3 122.0 L699.8 123.4 L700.1 124.6 L700.9 125.9 L700.9 127.2 L701.0 128.4 L700.9 130.1 L701.2 128.7 L701.0 127.4 L701.5 126.1 L700.9 124.8 L701.6 123.5 L701.4 122.2 L700.9 120.9 L700.7 119.6 L700.9 118.3 L701.4 117.0 L701.4 115.7 L701.5 114.4 L701.4 113.1 L702.1 111.8 L701.2 110.5 L702.0 109.2 L702.0 107.9 L701.1 106.6 L702.0 105.3 L701.9 104.0 L702.7 102.8 L702.5 101.5 L701.8 100.1 L702.6 98.9 L703.0 100.2 L703.0 101.6 L703.2 102.8 L703.2 104.1 L703.4 105.4 L703.3 106.7 L703.6 108.0 L704.3 109.3 L703.3 110.7 L703.7 111.9 L704.4 113.2 L703.6 114.6 L704.3 115.8 L703.9 117.1 L704.4 118.4 L704.0 119.7 L704.6 121.0 L705.3 122.2 L704.6 123.6 L705.1 124.8 L705.2 126.1 L705.7 127.4 L705.8 128.7 L706.1 129.9 L706.4 131.1 L706.3 132.6 L706.9 133.7 L706.8 135.0 L707.9 136.2 L707.2 137.6 L707.6 138.8 L707.7 140.1 L708.2 141.4 L708.0 142.7 L708.4 144.0 L707.9 145.3 L708.3 146.6 L708.5 147.9 L708.7 149.2 L708.8 150.5 L708.9 151.8 L708.4 153.1 L708.8 154.4 L709.0 155.7 L709.4 156.9 L709.0 158.3 L708.9 159.6 L709.3 160.8 L708.9 162.2 L709.4 163.5 L710.1 164.7 L709.3 166.1 L710.0 167.3 L709.6 168.7 L710.6 169.8 L710.8 171.1 L710.5 172.5 L710.6 173.8 L710.8 175.1 L711.4 176.3 L710.6 177.7 L711.1 179.0 L710.7 180.3 L712.0 181.5 L711.7 182.8 L711.4 184.2 L712.2 185.4 L712.0 186.7 L712.8 187.9 L712.4 189.3 L712.5 190.6 L712.6 191.9 L712.8 193.2 L712.9 194.5 L712.9 195.8 L713.2 197.0 L713.2 198.3 L712.7 199.7 L713.3 200.9 L713.5 202.2 L713.2 203.6 L713.7 204.8 L713.3 206.1 L713.4 207.4 L713.6 207.9 L714.2 206.8 L714.2 205.4 L713.8 204.1 L713.7 202.8 L714.2 201.5 L714.1 200.2 L714.9 199.0 L714.8 197.7 L713.8 196.3 L714.6 195.0 L714.5 193.7 L714.3 192.4 L714.5 191.1 L714.9 189.8 L714.2 188.5 L715.0 187.2 L715.2 186.0 L714.3 184.6 L715.1 183.3 L715.6 182.1 L715.2 180.8 L715.3 179.5 L715.2 178.1 L715.7 176.9 L715.3 175.5 L715.7 174.3 L715.3 172.9 L715.1 171.6 L715.4 170.3 L715.6 169.1 L716.1 167.8 L715.7 166.5 L715.6 165.1 L716.2 163.9 L716.1 162.6 L716.1 161.3 L716.1 160.0 L716.7 158.7 L716.2 157.4 L716.7 156.1 L716.3 154.8 L717.4 153.6 L717.2 152.3 L717.0 150.9 L717.2 149.6 L717.5 148.3 L717.8 148.0 L718.7 149.1 L717.7 150.7 L718.1 151.9 L719.0 153.1 L718.8 154.4 L719.4 155.7 L718.6 157.0 L719.0 158.3 L718.8 159.6 L719.4 160.9 L719.2 162.2 L719.8 163.5 L720.0 164.7 L719.5 166.1 L719.8 167.4 L720.5 168.6 L719.9 170.0 L719.7 171.3 L719.6 172.6 L719.9 173.9 L720.0 175.2 L720.7 176.4 L720.0 177.8 L720.6 179.0 L720.4 180.4 L720.0 181.7 L720.1 183.0 L720.2 184.3 L720.5 185.6 L720.8 186.9 L722.0 187.5 L722.4 188.8 L723.1 190.0 L723.7 191.2 L722.9 192.7 L723.5 193.9 L723.4 195.3 L723.6 196.5 L724.2 197.8 L723.8 199.1 L724.0 200.4 L724.7 201.6 L724.1 203.0 L724.8 204.2 L724.9 205.5 L724.5 206.9 L725.2 208.1 L725.5 209.4 L725.2 210.7 L725.2 212.1 L725.4 213.3 L726.4 214.5 L726.1 215.9 L726.0 217.2 L726.4 218.5 L726.5 219.7 L726.7 221.0 L727.0 222.3 L726.8 223.7 L727.3 225.0 L727.6 223.7 L727.3 222.4 L727.1 221.1 L727.9 219.8 L727.4 218.5 L728.2 217.2 L727.5 215.9 L728.2 214.6 L728.5 213.3 L728.3 212.0 L727.7 210.7 L728.0 209.4 L728.3 208.1 L728.3 206.8 L728.3 205.5 L728.1 204.2 L728.4 202.9 L727.8 201.6 L728.6 200.3 L729.1 199.1 L728.8 197.7 L728.8 196.4 L729.1 195.2 L729.1 193.9 L729.1 192.6 L728.5 191.2 L728.8 189.9 L729.2 188.7 L729.3 187.4 L729.4 186.1 L729.6 184.8 L729.4 183.5 L729.7 182.2 L729.3 180.8 L729.6 179.6 L729.5 178.3 L729.9 177.0 L729.8 175.7 L730.5 174.4 L729.8 173.1 L729.6 171.7 L730.2 170.5 L730.1 169.2 L730.4 167.9 L730.0 166.4 L730.7 165.3 L731.7 164.3 L731.9 163.0 L731.9 162.4 L732.4 163.7 L732.7 165.0 L732.7 166.3 L732.8 167.6 L733.8 168.8 L732.7 170.2 L733.4 171.5 L733.3 172.8 L733.0 174.1 L733.7 175.3 L733.7 176.7 L733.1 178.0 L733.0 179.3 L733.6 180.6 L733.4 181.9 L733.7 183.2 L733.3 184.5 L734.2 185.7 L733.8 187.1 L734.5 188.3 L734.3 189.6 L734.1 190.9 L733.8 192.3 L734.7 193.5 L733.6 194.9 L733.8 196.2 L734.5 197.4 L734.6 198.7 L734.6 200.0 L734.3 201.3 L734.5 202.6 L733.9 204.0 L734.5 205.2 L734.0 206.6 L733.9 207.9 L734.2 209.2 L733.9 210.5 L734.6 211.7 L734.8 213.0 L734.5 214.3 L734.4 215.7 L734.7 216.9 L735.2 218.2 L734.3 219.6 L735.0 220.8 L734.4 222.2 L734.7 223.4 L735.2 224.7 L734.5 226.1 L735.4 227.3 L735.3 228.6 L734.9 229.9 L735.2 231.0 L734.8 229.7 L735.5 228.4 L735.1 227.1 L735.8 225.8 L735.7 224.5 L735.2 223.2 L736.1 221.9 L735.9 220.6 L736.2 219.3 L735.5 218.0 L735.8 216.7 L736.0 215.4 L736.7 214.2 L736.0 212.8 L736.7 211.6 L736.9 210.3 L736.5 208.9 L736.7 207.7 L736.9 206.4 L736.3 205.0 L737.3 203.8 L736.9 202.4 L737.3 201.2 L737.7 199.9 L737.3 198.6 L737.5 197.6 L738.9 197.4 L739.1 199.0 L740.2 200.1 L740.4 201.4 L739.9 202.8 L740.2 204.1 L740.9 205.3 L740.5 206.7 L740.6 208.0 L740.4 209.3 L741.2 210.5 L740.5 211.9 L741.5 213.1 L741.2 214.5 L742.1 215.6 L741.4 217.0 L741.6 218.3 L742.4 219.5 L741.7 220.9 L742.5 222.2 L741.7 223.6 L742.7 224.7 L742.6 226.1 L742.6 227.4 L742.5 228.7 L742.8 230.0 L743.4 231.2 L742.8 232.6 L743.0 233.9 L743.8 235.1 L743.8 236.4 L743.3 237.8 L743.2 239.1 L744.3 240.3 L743.3 241.7 L743.6 242.9 L743.8 244.2 L744.2 245.5 L744.1 246.8 L744.1 248.1 L744.5 249.4 L744.1 250.7 L745.0 252.0 L744.4 253.3 L744.7 254.6 L745.1 255.9 L744.8 257.2 L745.0 258.5 L745.6 259.6 L746.7 260.5 L746.5 262.1 L746.3 263.5 L747.5 264.5 L748.0 265.7 L747.6 267.2 L748.6 268.2 L748.1 269.7 L749.0 270.8 L749.0 272.1 L749.3 273.4 L749.2 274.7 L749.9 275.9 L749.4 277.3 L750.2 278.5 L750.3 279.8 L750.7 281.1 L749.8 282.5 L750.9 283.7 L750.8 285.0 L750.2 286.4 L750.9 287.6 L751.2 288.9 L751.0 290.2 L751.6 291.5 L751.8 292.7 L751.5 294.1 L752.1 295.3 L751.8 296.8 L752.6 297.9 L752.6 299.2 L753.2 300.4 L753.3 301.2 L754.2 300.2 L754.9 299.1 L754.6 297.7 L755.5 296.5 L755.2 295.2 L755.5 293.9 L755.9 292.6 L755.6 291.3 L755.8 290.0 L756.9 288.8 L756.7 287.5 L756.7 286.2 L756.6 284.9 L757.3 283.6 L756.7 282.3 L757.0 281.0 L757.6 279.8 L758.0 279.0 L758.7 278.1 L758.5 279.5 L759.2 280.7 L759.5 281.9 L759.2 283.3 L759.6 284.6 L760.6 285.7 L760.5 287.0 L760.9 288.3 L761.4 289.5 L761.8 290.7 L761.3 291.2 L761.3 289.9 L762.0 288.6 L761.7 287.3 L762.4 286.1 L762.0 284.7 L762.3 283.4 L762.3 282.1 L762.9 280.9 L762.4 279.5 L762.7 279.1 L763.6 280.1 L763.4 281.5 L764.1 282.7 L764.6 283.9 L764.3 285.3 L765.5 286.4 L764.9 287.8 L765.0 289.2 L765.6 290.3 L766.1 291.6 L766.0 292.9 L766.4 294.2 L766.8 295.4 L767.3 296.6 L767.1 298.0 L767.9 299.1 L767.9 300.5 L768.3 301.0 L768.8 300.0 L768.9 298.7 L768.9 297.3 L769.4 296.1 L769.1 294.7 L769.6 293.5 L769.9 292.2 L770.0 290.9 L770.7 289.8 L770.3 288.3 L770.6 287.0 L770.9 285.8 L771.6 284.6 L772.3 283.6 L772.6 282.3 L772.1 280.7 L773.7 279.9 L773.3 278.3 L773.9 277.1 L775.1 276.5 L775.3 274.8 L776.4 274.1 L776.7 272.7 L777.9 272.0 L777.9 271.1 L778.6 272.3 L779.1 273.4 L779.3 274.7 L780.3 275.7 L780.9 276.7 L781.7 277.7 L781.7 279.1 L783.0 280.2 L782.2 281.6 L782.4 282.9 L783.4 284.1 L783.4 285.0" stroke="#7e7e7e" stroke-width="3.7"/>
<path d="M68.5 260.2 L68.3 262.3 L68.5 263.8 L70.4 264.8 L68.9 266.7 L70.6 267.9 L70.9 269.3 L70.9 270.9 L70.0 272.6 L71.3 273.9 L71.1 275.5 L71.5 276.9 L70.6 278.6 L72.9 279.7 L72.1 281.4 L72.5 282.8 L73.7 284.1 L72.6 285.8 L72.0 287.5 L72.4 288.9 L73.3 289.4 L73.8 288.3 L74.3 290.2 L74.2 291.8 L73.4 293.4 L74.2 294.8 L74.4 294.6 L74.7 293.6 L75.7 292.3 L75.3 291.5 L75.7 292.8 L75.0 294.4 L75.9 295.8 L76.3 296.8 L76.2 295.3 L76.9 294.0 L77.3 293.5 L77.5 295.3 L78.0 296.7 L78.5 298.2 L78.5 299.7 L78.6 301.1 L79.4 302.2 L80.1 301.0 L80.3 299.3 L81.4 300.6 L81.1 300.8 L81.9 299.8 L81.4 298.1 L82.1 296.5 L82.9 298.4 L83.3 296.7 L82.1 295.0 L82.6 293.6 L83.1 292.2 L83.8 291.3 L84.8 292.4 L86.0 291.3 L84.9 289.5 L85.5 288.1 L85.7 286.6 L85.1 288.6 L85.4 290.0 L86.2 291.4 L86.6 292.9 L87.9 291.6 L87.6 290.9 L87.9 292.1 L88.8 293.5 L88.0 295.2 L88.6 295.5 L89.4 294.4 L90.0 293.0 L89.6 292.5 L90.3 293.5 L90.3 291.7 L91.0 290.2 L90.8 288.7 L92.0 287.3 L91.0 285.7 L91.0 284.2 L92.0 282.8 L92.3 281.4 L90.6 279.6 L92.5 278.4 L91.5 276.7 L91.8 275.2 L92.5 273.8 L92.1 272.2 L92.6 271.4 L93.4 272.7 L92.8 274.2 L93.1 275.7 L94.1 277.2 L92.1 278.8 L93.3 280.2 L92.3 281.8 L93.1 282.4 L93.3 281.0 L93.8 279.5 L93.6 278.0 L92.8 276.5 L94.2 275.1 L93.0 273.5 L93.8 272.0 L92.3 270.5 L93.6 269.8 L94.3 267.9 L94.8 268.4 L96.0 268.9 L97.8 269.8 L96.6 271.8 L96.6 273.3 L97.9 274.6 L97.2 276.2 L97.3 277.7 L96.6 279.3 L99.0 280.6 L98.6 282.1 L97.0 283.8 L97.6 285.2 L98.8 286.6 L99.1 288.1 L98.5 289.6 L97.3 291.3 L99.2 292.6 L98.2 294.2 L99.0 295.6 L98.8 297.4 L99.8 297.6 L101.5 296.9 L99.8 294.4 L101.2 293.5 L102.2 292.3 L103.6 291.7 L103.8 290.1 L105.1 289.0 L105.1 287.3 L106.1 288.6 L106.0 287.2 L106.3 285.7 L107.4 284.4 L107.7 283.0 L106.9 281.4 L108.4 280.0 L107.5 278.4 L107.8 276.9 L107.8 275.4 L107.6 273.9 L108.6 272.5 L108.5 271.0 L107.2 269.4 L107.7 267.9 L108.1 266.4 L108.4 264.9 L109.3 263.5 L109.1 262.0 L108.9 260.5 L109.1 259.0 L108.6 257.5 L108.0 255.9 L107.8 254.4 L108.7 252.9 L108.4 251.3 L108.6 249.8 L110.4 249.0 L111.2 250.0 L112.2 251.4 L111.2 253.0 L112.4 254.4 L111.4 256.0 L111.9 257.5 L112.5 258.9 L112.6 260.0 L113.9 259.1 L113.6 258.7 L114.9 259.3 L114.5 260.9 L116.0 262.2 L115.8 263.7 L115.7 265.3 L116.4 266.7 L115.9 268.3 L116.6 269.7 L116.1 271.3 L116.8 272.7 L116.4 274.3 L117.2 275.7 L116.2 277.2 L116.9 278.7 L116.7 280.2 L117.5 281.7 L117.8 283.2 L118.0 284.6 L118.2 286.0 L117.9 287.7 L119.1 288.7 L120.0 289.9 L119.9 290.5 L120.2 288.7 L121.7 287.9 L121.6 286.4 L120.8 284.8 L122.5 283.5 L121.9 281.9 L122.3 280.4 L122.7 279.0 L122.6 277.4 L122.5 276.5 L122.8 276.4 L123.2 275.0 L123.2 273.5 L123.4 272.1 L123.0 270.4 L124.1 269.3 L125.1 268.1 L125.5 266.6 L124.9 264.4 L126.4 263.4 L127.7 263.1 L129.2 264.1 L129.7 266.0 L129.1 267.6 L128.3 269.2 L129.0 270.7 L129.6 272.1 L128.6 273.7 L129.5 275.1 L129.9 276.6 L129.8 278.1 L129.0 279.7 L130.7 281.0 L130.6 282.5 L130.3 284.1 L130.8 285.5 L130.1 287.2 L131.4 288.4 L131.5 290.1 L132.4 290.4 L133.4 289.2 L133.3 287.6 L133.1 286.0 L134.3 284.7 L133.1 283.0 L133.6 281.5 L134.6 280.2 L133.4 278.5 L134.3 277.1 L134.6 276.1 L134.2 277.8 L135.3 279.3 L134.7 280.8 L134.0 282.3 L134.2 283.8 L134.6 284.2 L134.7 283.1 L134.5 281.5 L134.7 280.0 L133.9 278.5 L133.9 277.0 L134.5 275.5 L135.2 274.1 L134.7 272.5 L135.5 271.1 L135.4 269.6 L135.6 268.1 L134.6 266.5 L136.1 265.1 L135.6 263.5 L136.2 262.1 L136.6 260.7 L135.5 259.0 L137.1 257.9 L136.4 255.8 L137.7 255.4 L138.7 256.4 L138.7 258.0 L139.1 259.4 L138.7 261.0 L140.6 262.3 L139.4 263.9 L139.6 265.4 L140.1 266.8 L139.6 268.4 L140.4 269.8 L140.2 271.3 L139.7 272.9 L140.7 274.3 L140.0 275.9 L139.4 277.7 L141.0 278.6 L142.3 277.5 L141.5 275.8 L141.9 274.2 L143.0 275.6 L141.7 277.5 L141.7 279.1 L143.0 279.5 L143.3 277.9 L143.8 276.9 L144.7 278.2 L145.1 279.6 L144.8 281.7 L144.8 279.8 L145.0 278.3 L145.6 277.4 L146.6 278.2 L145.6 280.0 L146.2 281.4 L146.5 282.2 L146.9 281.1 L147.3 280.9 L148.0 282.0 L147.2 283.8 L148.1 284.6 L148.7 283.0 L148.6 281.4 L149.0 280.3 L150.1 281.2 L150.0 282.6 L150.1 281.0 L151.5 279.9 L151.0 278.9 L152.3 279.9 L152.6 281.4 L151.9 281.6 L152.1 280.4 L153.0 279.1 L152.8 277.7 L153.1 279.6 L153.3 281.1 L153.8 281.7 L153.7 280.2 L154.5 280.1 L155.1 281.5 L155.1 283.0 L154.9 284.5 L155.3 285.7 L156.2 284.4 L156.0 283.4 L155.9 284.7 L155.9 286.2 L156.3 287.7 L156.8 288.4 L157.3 287.4 L156.6 285.6 L157.5 285.4 L157.6 286.6 L157.8 288.1 L158.4 288.0 L159.5 287.0 L159.2 285.6 L158.4 287.5 L159.7 288.6 L160.3 290.0 L161.0 291.4 L160.9 293.0 L161.6 294.3 L162.1 295.8 L163.1 297.0 L162.5 298.8 L163.3 300.0 L163.8 301.5 L165.1 300.9 L166.6 301.6 L165.0 304.1 L167.5 304.5 L166.6 306.5 L168.0 307.4 L169.7 308.4 L169.6 310.0 L170.2 311.4 L169.5 313.3 L170.1 314.7 L170.5 316.1 L172.3 317.0 L171.9 318.8 L172.4 320.2 L172.0 321.9 L173.1 323.1 L173.7 324.5 L174.1 325.9 L174.3 327.4 L175.5 326.7 L176.8 326.3 L177.9 325.0 L179.1 324.0 L179.3 322.5 L180.3 321.3 L182.0 320.4 L181.1 318.2 L182.3 317.3 L182.7 315.8 L183.6 314.5 L184.0 313.1 L183.8 311.4 L185.4 310.9 L185.7 308.9 L187.3 309.1 L187.9 311.1 L189.5 311.0 L190.3 310.1 L191.9 309.4 L192.1 308.0 L192.3 305.9 L194.2 306.2 L195.1 304.9 L196.5 305.1 L197.0 304.9 L198.1 304.1 L198.4 302.2 L199.7 301.4 L200.8 300.2 L201.0 302.3 L201.5 303.7 L203.5 304.4 L201.9 306.7 L202.9 308.0 L204.9 308.6 L204.5 309.7 L206.2 309.8 L206.4 307.7 L206.4 306.2 L206.1 304.5 L207.3 303.3 L208.9 302.6 L208.3 301.0 L209.5 301.7 L209.8 300.2 L211.2 299.4 L212.2 298.3 L212.7 298.4 L212.6 299.9 L214.6 300.6 L215.5 301.7 L215.1 303.7 L216.5 304.6 L216.4 306.2 L216.8 304.8 L216.5 303.5 L218.0 302.2 L217.9 300.6 L217.5 299.1 L218.1 297.6 L219.0 296.2 L217.3 294.6 L218.1 293.1 L219.2 291.7 L218.8 290.2 L219.2 288.7 L219.3 287.2 L219.7 285.8 L220.9 284.4 L221.1 283.0 L220.6 281.4 L220.1 279.7 L221.0 278.4 L222.0 277.0 L220.7 275.1 L222.0 274.1 L223.1 273.3 L223.3 272.7 L223.6 274.6 L222.5 276.3 L223.4 277.7 L224.4 279.0 L223.8 280.6 L224.4 282.1 L224.2 283.6 L224.3 285.1 L223.6 286.7 L224.3 288.1 L224.9 289.6 L225.7 290.9 L225.5 291.6 L225.2 289.7 L226.7 288.5 L226.6 286.9 L225.9 285.3 L227.0 283.9 L226.7 282.4 L226.5 280.9 L225.6 279.3 L227.0 277.9 L226.9 276.4 L226.8 274.9 L227.2 273.4 L227.6 271.9 L227.2 270.4 L228.0 268.9 L227.1 267.4 L227.6 265.9 L227.5 264.4 L227.3 262.9 L226.9 261.4 L226.9 259.9 L228.7 258.8 L227.6 256.7 L229.8 255.7 L229.8 254.2 L230.3 252.8 L229.3 251.1 L230.5 249.8 L229.6 248.1 L229.9 246.7 L230.2 245.2 L231.3 244.1 L232.0 242.8 L230.9 240.9 L232.1 239.5 L232.9 238.2 L232.1 236.5 L233.1 235.2 L233.7 233.7 L232.7 232.0 L233.4 230.5 L234.1 230.4 L234.5 231.9 L235.1 233.3 L235.1 234.9 L236.0 236.2 L236.6 237.6 L236.6 239.1 L237.0 240.6 L237.0 242.1 L237.5 243.5 L236.7 245.3 L238.1 246.4 L238.2 248.0 L239.0 249.3 L239.2 250.8 L239.5 252.3 L240.1 253.6 L241.0 254.9 L240.3 256.8 L241.1 257.5 L241.7 256.1 L241.1 254.5 L241.7 253.1 L241.9 251.6 L241.5 250.1 L242.4 248.6 L242.7 247.1 L242.8 245.6 L241.8 244.1 L242.3 242.6 L242.1 241.1 L242.3 239.6 L242.8 238.1 L243.1 236.7 L242.7 235.1 L244.0 234.3 L244.5 233.5 L244.8 235.1 L246.1 236.0 L245.7 237.6 L245.8 239.1 L247.2 240.5 L246.3 242.1 L247.0 243.5 L246.2 245.1 L247.0 246.5 L245.9 248.1 L247.5 249.5 L246.7 251.1 L246.6 252.6 L247.1 254.1 L247.1 255.6 L247.0 257.1 L247.6 258.5 L248.8 259.9 L247.9 261.5 L248.2 263.0 L248.6 264.4 L248.8 265.9 L248.5 267.5 L250.1 268.7 L249.0 270.5 L249.7 271.9 L251.1 270.6 L250.8 272.2 L252.0 273.4 L252.0 275.0 L252.7 276.3 L253.0 277.9 L252.4 279.5 L253.1 280.9 L252.9 282.4 L254.3 283.7 L253.5 285.4 L253.5 287.0 L254.5 288.2 L254.2 289.9 L256.0 290.9 L255.0 292.7 L255.3 294.2 L256.3 295.5 L256.6 297.0 L255.7 298.7 L255.6 300.3 L257.5 301.4 L256.9 303.1 L256.5 304.6 L257.6 306.0 L258.6 307.3 L257.4 309.0 L258.1 310.4 L258.1 311.5 L257.8 310.0 L259.4 308.8 L258.5 307.0 L259.2 305.7 L258.5 303.9 L259.2 302.6 L260.4 301.3 L260.2 300.3 L261.7 301.3 L260.9 303.6 L261.8 303.4 L262.3 302.2 L262.9 300.8 L262.5 298.9 L263.7 297.9 L264.2 296.5 L265.0 295.1 L265.5 293.7 L265.6 292.2 L265.8 291.4 L265.9 293.1 L267.4 294.0 L267.5 295.6 L267.7 297.2 L268.0 298.6 L268.6 299.7 L269.0 298.1 L269.7 296.7 L271.0 295.6 L270.6 293.9 L270.4 292.2 L271.8 291.1 L271.7 289.6 L271.8 288.1 L272.3 286.6 L271.6 285.0 L273.0 283.7 L272.3 282.1 L273.4 280.7 L272.4 279.1 L273.4 277.7 L273.1 276.1 L274.3 274.9 L274.3 273.3 L274.2 271.7 L274.8 270.3 L276.0 269.1 L275.9 267.5 L275.6 265.9 L276.2 264.5 L277.5 263.7 L278.2 262.3 L278.5 260.7 L279.4 259.4 L279.7 257.9 L280.0 256.2 L281.2 255.2 L281.8 255.4 L283.2 255.4 L283.0 257.0 L283.7 258.4 L283.7 259.9 L285.0 261.2 L285.2 262.5 L285.7 263.9 L285.8 265.5 L285.8 267.1 L286.0 268.6 L286.7 269.9 L286.3 271.5 L286.5 273.0 L287.2 274.4 L287.8 275.8 L289.0 277.1 L288.7 278.7 L288.4 280.3 L289.6 281.6 L289.1 283.2 L289.8 284.6 L289.6 286.2 L290.0 287.6 L288.9 289.3 L290.8 290.5 L291.2 292.0 L289.9 293.7 L290.8 295.1 L290.9 296.6 L292.0 297.9 L290.5 299.7 L290.8 301.2 L292.4 302.4 L292.7 303.9 L292.7 305.4 L292.8 306.9 L292.2 308.5 L293.6 309.8 L292.7 311.8 L293.2 313.3 L295.0 313.8 L294.8 315.6 L295.3 317.0 L296.8 317.8 L297.5 319.2 L298.2 320.5 L298.0 322.2 L299.8 323.1 L299.2 324.3 L299.4 323.1 L300.4 321.8 L300.3 320.2 L299.4 318.5 L300.8 317.2 L300.6 315.7 L300.7 314.2 L301.6 313.0 L301.3 311.1 L302.0 309.8 L303.0 308.1 L304.3 308.4 L304.9 310.0 L305.9 310.5 L306.8 309.4 L307.3 308.2 L308.7 309.5 L309.2 308.2 L308.7 306.4 L309.7 305.2 L309.6 303.5 L311.1 302.5 L310.8 300.8 L311.6 299.5 L311.9 298.7 L313.3 299.5 L312.7 297.9 L313.8 296.6 L314.0 295.1 L314.4 293.6 L313.6 291.9 L315.6 290.8 L315.7 289.3 L314.7 287.6 L315.4 286.2 L315.7 284.7 L315.4 283.2 L315.4 281.6 L316.5 280.3 L315.9 278.6 L316.3 277.2 L317.4 275.9 L317.2 274.3 L318.1 273.0 L318.0 271.4 L319.3 270.9 L320.3 269.3 L320.5 271.4 L321.9 271.1 L321.9 269.7 L323.7 269.0 L324.3 267.6 L324.2 265.8 L324.7 265.8 L325.7 266.6 L326.5 267.9 L326.2 269.6 L326.5 271.1 L326.8 272.6 L327.8 273.9 L327.2 275.6 L327.2 277.1 L326.9 278.6 L327.8 280.0 L327.4 281.6 L328.1 283.0 L327.3 284.7 L328.8 285.9 L329.5 287.3 L328.4 289.0 L329.9 290.3 L328.7 292.0 L329.7 293.4 L329.7 294.9 L330.6 296.3 L329.3 298.0 L330.2 299.4 L330.5 300.8 L329.7 302.5 L330.1 303.9 L331.5 305.2 L330.6 306.9 L331.9 308.2 L331.6 309.8 L330.4 311.6 L331.6 312.8 L331.5 314.4 L332.8 315.6 L332.4 317.4 L334.1 317.8 L333.9 318.2 L334.3 317.1 L335.1 315.8 L334.5 314.0 L335.8 312.9 L336.8 311.8 L337.1 310.2 L337.3 308.6 L338.8 307.7 L339.0 306.0 L339.9 305.6 L340.0 307.1 L340.7 308.4 L340.5 310.0 L341.4 311.4 L342.1 312.7 L341.2 314.5 L341.9 315.8 L343.2 317.1 L341.8 319.0 L342.8 319.2 L342.2 317.8 L343.3 316.6 L344.2 315.3 L343.6 313.4 L344.2 312.1 L345.3 310.9 L347.0 310.5 L346.7 308.2 L348.2 307.3 L347.8 305.6 L348.6 304.3 L348.0 302.1 L350.5 302.0 L349.6 300.0 L350.5 298.7 L350.9 297.2 L350.5 295.6 L352.2 294.4 L351.2 292.7 L352.0 291.4 L352.1 289.8 L353.2 288.6 L353.5 287.3 L352.9 284.9 L355.3 284.9 L356.2 284.8 L357.4 283.3 L359.3 284.5 L359.7 282.2 L361.9 281.7 L361.5 279.8 L362.6 278.9 L363.6 279.9 L362.6 281.5 L364.4 282.8 L364.1 284.4 L363.3 286.0 L364.5 287.3 L365.6 288.7 L363.5 290.5 L366.1 291.7 L365.2 293.3 L366.8 294.0 L367.3 295.3 L368.0 296.8 L369.0 298.2 L370.7 298.7 L372.5 299.1 L372.6 298.0 L374.3 297.7 L374.5 298.7 L376.1 299.2 L376.7 297.3 L377.8 296.1 L378.0 294.6 L378.2 293.0 L378.8 291.7 L379.9 290.6 L381.4 290.1 L382.6 289.2 L382.7 287.1 L383.9 286.9 L384.7 288.3 L385.8 289.4 L385.7 291.0 L386.6 292.2 L387.9 293.3 L387.0 294.6 L388.1 293.5 L388.4 292.0 L390.2 291.0 L389.9 289.3 L388.8 287.4 L389.7 286.1 L390.2 284.7 L390.9 283.4 L392.0 282.0 L393.4 283.0 L393.9 284.7 L393.2 286.4 L394.0 287.8 L393.3 289.8 L395.1 290.6 L395.6 289.3 L396.5 288.0 L395.8 286.3 L396.4 284.9 L396.8 283.4 L397.6 282.1 L398.0 280.7 L397.7 279.0 L398.2 277.6 L399.1 276.3 L399.9 275.9 L400.2 273.3 L401.7 274.8 L401.9 272.9 L402.4 271.5 L404.4 270.9 L403.9 268.8 L404.0 270.5 L405.3 271.5 L405.8 272.9 L405.3 274.5 L405.5 276.0 L405.9 277.5 L405.3 279.0 L404.6 280.4 L403.9 282.3 L404.7 283.6 L405.9 284.8 L405.9 285.2 L406.3 283.5 L406.3 282.1 L408.0 281.1 L407.9 279.5 L408.7 278.2 L408.6 276.6 L409.1 275.2 L409.3 273.6 L410.0 272.3 L410.3 270.8 L409.0 269.0 L411.6 268.2 L410.8 266.3 L410.8 264.6 L412.8 264.0 L411.6 261.8 L414.1 261.2 L412.4 258.9 L412.8 257.5 L414.3 256.4 L414.9 255.0 L415.0 253.5 L416.3 252.3 L416.1 250.7 L417.3 249.5 L416.7 247.8 L416.6 246.4 L418.4 246.8 L418.2 248.4 L419.1 247.1 L417.3 245.3 L418.5 243.9 L420.2 242.7 L419.1 241.0 L419.3 239.5 L420.4 238.1 L418.8 236.5 L419.6 235.0 L419.3 233.5 L420.4 232.1 L419.9 230.5 L419.7 229.0 L419.4 227.5 L420.1 226.0 L420.4 224.6 L419.5 223.0 L421.1 221.7 L420.7 220.1 L420.4 218.5 L421.0 217.1 L421.0 215.6 L420.6 214.0 L421.3 212.6 L421.3 211.3 L422.5 212.4 L422.7 213.9 L422.4 211.9 L423.0 210.5 L424.5 209.4 L424.3 207.8 L425.3 206.2 L425.8 207.9 L426.1 209.4 L426.2 210.9 L426.2 212.4 L426.4 213.9 L426.9 215.3 L426.3 216.9 L427.7 218.3 L427.1 219.8 L426.6 221.3 L427.6 222.8 L426.9 224.3 L427.7 225.8 L428.0 227.2 L427.6 228.8 L427.7 230.3 L428.0 231.8 L428.5 233.2 L428.3 234.8 L429.3 236.1 L429.0 236.8 L428.3 235.4 L430.2 234.1 L429.3 232.5 L429.8 231.1 L429.8 229.5 L430.4 228.1 L430.0 227.6 L429.8 229.1 L429.8 230.6 L430.1 232.1 L431.1 233.4 L432.1 234.7 L432.1 236.3 L431.7 237.9 L431.9 239.1 L431.2 237.4 L432.6 236.1 L431.6 234.4 L432.8 233.1 L432.8 232.4 L432.4 234.0 L432.3 235.5 L433.6 236.9 L433.4 238.5 L433.7 240.0 L432.5 241.6 L434.2 242.9 L433.4 244.5 L433.8 246.0 L434.7 247.4 L433.8 248.3 L434.2 246.5 L433.5 245.0 L434.9 243.6 L433.8 242.0 L434.1 240.5 L435.3 239.1 L434.6 237.5 L434.8 236.0 L434.2 237.7 L434.6 239.1 L435.6 240.3 L435.1 238.4 L436.4 237.1 L435.8 235.5 L437.0 234.1 L435.7 232.5 L436.4 231.0 L435.5 229.4 L436.2 228.0 L436.8 226.6 L436.1 224.9 L436.8 223.5 L438.1 222.2 L437.2 220.6 L437.1 219.0 L436.8 217.5 L437.6 216.1 L437.8 214.6 L437.9 213.1 L438.6 211.7 L439.0 210.2 L438.7 208.4 L440.0 209.2 L440.3 209.5 L440.8 208.1 L441.9 207.0 L441.8 205.3 L442.6 204.2 L443.3 203.5 L443.0 205.2 L444.2 206.4 L444.4 207.9 L444.7 209.4 L445.9 210.5 L447.1 211.8 L446.6 213.4 L447.2 214.8 L446.4 216.4 L447.9 217.8 L447.2 219.4 L446.9 220.9 L447.6 222.3 L446.5 223.9 L447.5 225.4 L447.8 226.8 L447.6 228.4 L448.2 229.8 L448.1 231.3 L448.2 232.8 L448.1 234.3 L448.3 235.4 L447.8 234.0 L448.7 232.6 L448.5 231.1 L449.4 229.7 L448.3 228.0 L448.5 226.5 L450.3 225.3 L448.6 223.5 L449.7 222.2 L450.1 220.7 L449.0 219.1 L449.9 217.6 L450.6 216.2 L450.8 214.8 L450.9 213.3 L450.5 211.7 L450.7 210.2 L451.0 208.7 L451.3 207.2 L450.8 209.3 L451.3 210.7 L452.3 211.4 L452.0 210.0 L452.6 208.5 L453.2 207.1 L453.7 205.6 L454.0 204.2 L453.4 202.6 L454.3 201.2 L454.4 199.7 L453.2 198.0 L453.9 196.6 L453.4 195.1 L454.2 193.6 L453.8 192.1 L455.1 190.7 L454.1 189.1 L455.3 187.8 L455.0 186.2 L455.3 184.8 L455.8 183.3 L455.3 181.1 L456.9 181.5 L456.7 183.0 L457.8 184.4 L458.3 185.8 L457.6 187.4 L458.1 188.9 L458.6 190.3 L457.9 191.9 L458.3 193.4 L459.2 194.8 L458.3 196.4 L459.0 197.8 L459.3 199.3 L458.3 200.9 L458.9 201.6 L458.7 199.9 L459.8 198.6 L459.6 197.0 L460.7 195.7 L460.0 194.1 L461.7 192.9 L460.8 191.2 L461.7 189.8 L461.5 188.2 L462.4 186.9 L462.8 186.3 L462.7 188.1 L462.5 189.7 L463.6 190.9 L465.0 192.2 L464.5 193.8 L463.4 195.4 L464.5 196.8 L465.5 198.2 L465.0 199.8 L464.3 201.3 L465.1 202.8 L464.0 204.4 L465.5 205.7 L465.6 207.2 L465.5 208.8 L465.9 210.2 L465.4 211.8 L465.6 213.3 L465.2 214.8 L465.6 216.3 L465.9 217.7 L466.7 219.2 L466.0 220.7 L465.8 222.3 L465.3 223.8 L466.1 225.2 L465.8 226.8 L466.6 228.2 L466.8 229.7 L467.3 231.2 L467.1 232.7 L466.3 234.3 L465.9 235.8 L466.1 237.3 L466.7 238.7 L466.9 239.2 L467.4 238.1 L466.6 236.3 L468.7 235.3 L467.8 233.5 L468.5 232.3 L469.3 233.3 L469.6 234.8 L469.7 236.3 L470.1 237.9 L471.6 238.3 L471.9 239.1 L471.5 237.2 L472.4 236.0 L473.3 234.7 L473.3 233.1 L473.7 231.8 L473.2 230.2 L473.5 228.7 L474.8 227.4 L474.5 225.8 L474.0 224.3 L475.5 222.9 L474.3 221.3 L475.9 219.9 L475.0 218.3 L475.6 216.9 L475.1 215.3 L476.0 213.9 L475.3 212.3 L475.9 210.9 L475.2 209.3 L476.0 207.9 L475.0 206.3 L476.4 204.9 L476.0 203.4 L475.9 201.9 L477.4 200.5 L477.3 199.0 L476.7 197.4 L477.6 196.0 L476.3 194.3 L477.7 193.0 L478.8 192.6 L479.1 194.0 L478.5 195.5 L478.3 197.1 L479.1 198.5 L480.3 199.8 L479.2 201.5 L479.8 202.9 L479.2 204.5 L480.9 205.8 L480.5 207.4 L480.9 208.8 L480.4 210.4 L480.4 211.9 L480.6 213.4 L481.6 214.8 L480.3 216.7 L481.3 217.9 L482.7 218.9 L482.0 220.6 L482.8 222.1 L483.0 223.6 L481.9 225.2 L482.8 226.6 L481.9 228.2 L483.1 229.6 L482.8 231.1 L482.7 232.6 L483.2 234.1 L482.4 235.6 L483.1 237.1 L483.7 238.6 L482.9 240.1 L482.4 241.6 L482.2 243.2 L484.1 244.6 L483.4 246.1 L483.3 246.5 L484.1 245.1 L483.3 243.6 L483.8 242.1 L483.1 240.6 L484.3 239.1 L483.5 237.6 L484.0 236.1 L483.3 234.6 L483.2 233.1 L483.5 231.6 L483.6 230.1 L483.9 228.6 L483.9 227.1 L483.4 225.6 L484.0 224.1 L484.2 222.6 L483.7 221.1 L484.5 219.6 L484.1 218.8 L484.8 220.0 L484.7 221.5 L484.0 223.0 L484.8 224.5 L485.0 226.0 L484.4 227.5 L484.4 229.0 L484.7 230.5 L485.1 232.0 L483.7 233.6 L484.5 235.0 L485.4 236.5 L484.4 238.0 L485.7 239.5 L484.6 241.0 L484.9 242.6 L485.8 241.1 L484.9 239.6 L486.0 238.1 L485.4 236.6 L485.9 235.1 L485.5 233.6 L485.0 232.1 L485.6 230.6 L484.5 229.1 L485.8 227.6 L485.7 226.1 L485.5 224.6 L485.0 223.1 L485.7 222.6 L486.2 224.0 L484.8 225.6 L486.7 227.0 L485.5 228.5 L485.9 230.0 L485.1 231.6 L486.4 233.0 L485.1 234.6 L486.9 236.0 L486.2 237.5 L485.3 239.1 L486.8 240.5 L485.3 242.1 L485.9 243.5 L486.5 245.0 L485.7 246.6 L486.4 248.0 L485.9 249.5 L486.5 250.7 L487.5 249.2 L486.9 247.6 L486.8 246.1 L487.2 244.6 L487.3 243.1 L487.7 241.7 L485.9 240.1 L487.0 238.6 L486.9 237.1 L487.5 235.6 L486.5 234.1 L487.1 232.6 L487.9 234.0 L487.7 235.5 L487.3 237.1 L488.2 238.5 L487.7 240.0 L486.9 241.6 L487.1 243.1 L487.8 244.5 L487.4 246.1 L487.1 247.6 L487.9 249.0 L487.6 250.6 L488.4 252.0 L487.9 252.7 L487.9 251.1 L488.1 249.6 L487.6 248.1 L489.0 246.7 L488.4 245.1 L487.5 243.6 L489.1 242.2 L487.4 240.6 L488.6 239.1 L487.8 237.6 L488.6 236.1 L488.5 234.5 L488.1 236.1 L488.9 237.5 L488.3 239.1 L489.0 240.5 L488.4 242.1 L489.3 243.5 L489.6 245.0 L489.3 246.7 L489.1 245.1 L489.9 243.6 L489.2 242.1 L489.7 240.6 L489.4 239.1 L489.3 237.6 L490.2 236.1 L489.6 234.6 L489.5 233.1 L490.1 231.6 L489.9 230.1 L490.2 228.6 L490.2 227.1 L490.1 226.3 L490.4 228.0 L490.2 229.6 L489.7 231.1 L491.0 232.5 L490.6 234.0 L489.9 235.6 L490.6 237.0 L490.9 238.3 L491.5 237.1 L490.7 235.6 L490.7 234.1 L491.6 232.6 L491.2 231.1 L491.3 229.6 L490.6 228.0 L491.5 226.6 L492.5 225.2 L492.0 223.6 L491.7 222.8 L491.7 224.0 L491.3 225.6 L492.5 227.0 L492.0 228.5 L491.9 230.0 L493.0 231.5 L493.0 233.0 L492.5 234.6 L492.6 233.1 L492.5 231.6 L492.7 230.1 L493.1 228.6 L492.8 227.1 L493.1 225.6 L492.5 224.1 L493.1 222.6 L493.1 221.2 L493.2 223.0 L493.8 224.5 L492.6 226.1 L493.5 227.5 L494.4 228.9 L493.9 230.5 L494.8 231.9 L493.9 232.6 L493.9 231.1 L494.0 229.6 L494.6 228.1 L494.5 226.5 L494.8 228.0 L493.7 229.6 L494.5 231.1 L495.7 232.5 L494.0 234.1 L494.8 235.6 L495.6 237.0 L495.3 238.7 L495.9 237.1 L494.8 235.5 L494.9 234.0 L495.4 232.6 L495.7 231.1 L495.6 229.6 L496.4 228.1 L496.9 226.7 L495.5 225.1 L496.1 224.5 L497.1 226.0 L495.5 227.6 L495.4 229.1 L496.5 230.5 L496.6 232.0 L495.8 233.6 L497.0 235.0 L496.9 236.5 L497.1 238.0 L497.1 239.5 L496.9 240.6 L497.7 239.2 L497.2 237.6 L496.6 236.0 L498.0 234.7 L496.7 233.0 L497.7 231.6 L497.7 230.8 L497.8 232.1 L497.6 233.6 L498.3 235.0 L497.3 236.6 L498.7 238.0 L498.0 239.6 L499.1 241.0 L498.6 242.5 L497.4 244.1 L497.9 245.6 L497.5 247.1 L498.5 248.5 L498.1 250.1 L498.5 250.9 L498.0 249.1 L499.6 247.7 L498.6 246.1 L498.6 244.6 L499.2 243.1 L499.3 241.6 L499.2 240.1 L499.3 238.6 L498.2 237.1 L498.7 235.6 L499.1 234.8 L499.5 236.1 L498.7 237.6 L499.6 239.0 L498.6 240.6 L499.4 242.1 L499.0 243.6 L498.8 245.1 L499.4 246.6 L499.3 248.1 L500.2 249.5 L498.8 251.1 L499.4 252.6 L499.8 254.1 L499.9 254.6 L499.2 253.1 L499.2 251.6 L500.8 250.1 L500.3 248.6 L499.5 247.1 L499.6 245.6 L499.7 244.1 L500.2 242.6 L499.9 241.1 L500.1 239.6 L500.3 238.1 L500.8 236.6 L500.0 235.1 L500.7 233.6 L501.0 232.1 L500.5 231.5 L500.7 233.1 L501.6 234.5 L500.6 236.1 L500.8 237.6 L501.6 239.0 L500.9 240.6 L501.9 242.0 L500.7 243.6 L500.8 245.1 L501.1 246.5 L501.2 248.0 L501.0 249.6 L501.2 251.1 L501.3 252.7 L501.2 251.1 L501.8 249.6 L500.9 248.1 L500.7 246.6 L501.9 245.1 L501.4 243.6 L502.4 242.1 L501.1 240.6 L502.4 239.1 L502.0 237.6 L501.1 236.1 L501.8 234.6 L502.3 233.1 L502.1 231.6 L501.9 230.1 L502.3 228.6 L501.7 227.1 L501.7 225.6 L502.1 224.6 L502.9 226.0 L503.2 227.5 L501.8 229.1 L502.2 230.6 L503.4 232.0 L502.9 233.5 L503.2 235.0 L502.5 236.5 L503.0 238.0 L502.4 239.5 L502.9 241.0 L502.9 242.7 L503.2 241.1 L502.9 239.6 L503.0 238.1 L502.4 236.6 L503.7 235.1 L503.9 233.6 L503.1 232.1 L504.3 230.6 L503.4 229.1 L503.1 227.6 L503.6 226.1 L503.7 224.6 L502.8 223.1 L504.1 221.6 L503.7 220.6 L503.4 222.1 L504.1 223.5 L503.8 225.0 L504.2 226.5 L504.8 228.0 L504.8 229.5 L504.6 231.0 L503.6 232.6 L504.6 234.0 L504.5 234.6 L504.7 233.1 L505.0 231.6 L504.5 230.1 L505.5 228.6 L505.6 227.1 L504.1 225.5 L505.7 224.1 L505.5 222.6 L505.9 221.1 L505.1 219.4 L504.7 221.1 L505.5 222.5 L505.4 224.0 L505.7 225.5 L505.2 227.0 L505.6 228.5 L505.8 230.0 L505.7 231.5 L506.5 233.0 L506.7 234.5 L505.8 236.0 L506.0 237.5 L505.9 238.9 L506.8 237.1 L506.3 235.6 L506.4 234.1 L506.7 232.6 L506.3 231.1 L506.2 229.6 L506.8 228.1 L506.7 226.6 L506.3 225.1 L506.5 224.6 L506.6 226.0 L507.6 227.5 L506.2 229.1 L507.0 230.5 L505.9 232.1 L507.4 233.5 L506.5 235.1 L507.3 236.5 L507.2 238.0 L507.0 239.5 L507.4 241.0 L507.8 242.5 L507.3 244.0 L507.3 244.9 L506.5 243.0 L507.3 241.6 L506.6 240.0 L508.0 238.6 L507.2 237.1 L507.2 235.6 L508.0 234.1 L508.2 232.6 L508.0 231.1 L508.1 230.4 L507.6 232.1 L508.5 233.5 L507.8 235.1 L507.4 236.6 L507.6 238.1 L508.5 239.6 L509.2 241.0 L507.6 242.6 L509.3 244.0 L509.3 245.5 L508.7 247.1 L509.0 248.5 L508.7 250.1 L508.9 250.4 L509.2 249.1 L508.2 247.6 L509.6 246.1 L509.4 244.6 L509.4 243.1 L509.0 241.6 L509.5 240.1 L508.9 238.6 L510.3 237.2 L510.4 235.7 L509.7 234.4 L510.6 236.0 L509.5 237.6 L510.3 239.0 L510.2 240.6 L509.1 242.1 L510.3 243.6 L509.4 245.1 L509.4 246.6 L510.9 248.0 L510.0 249.6 L509.5 251.1 L511.0 252.5 L510.4 254.1 L510.6 255.6 L510.5 257.0 L509.8 255.1 L511.2 253.7 L510.5 252.1 L511.1 250.6 L511.0 249.1 L510.2 247.6 L511.4 246.2 L511.3 244.6 L511.0 243.1 L510.9 241.6 L511.4 240.1 L511.1 238.4 L511.6 240.1 L511.0 241.6 L512.3 243.0 L511.3 244.6 L512.2 246.0 L512.2 247.5 L512.1 249.0 L511.7 250.6 L511.5 252.1 L510.9 253.6 L511.9 254.3 L511.8 253.1 L512.9 251.7 L512.8 250.1 L512.2 248.6 L512.8 247.2 L512.2 245.6 L512.5 244.1 L512.6 242.6 L512.8 241.1 L512.2 239.6 L512.6 238.1 L512.3 236.6 L512.5 235.9 L512.4 237.1 L512.9 238.5 L512.3 240.1 L512.0 241.6 L512.9 243.1 L512.3 244.6 L514.0 246.0 L513.3 246.7 L514.4 245.2 L513.7 243.6 L512.9 242.1 L513.6 240.6 L513.8 239.1 L513.8 237.6 L513.8 236.1 L514.0 234.6 L513.4 233.1 L513.9 231.6 L514.1 230.8 L514.2 232.1 L513.5 233.6 L513.7 235.1 L514.7 236.5 L513.8 238.1 L515.0 239.5 L514.9 240.8 L515.7 239.1 L515.6 237.6 L515.2 236.1 L514.9 234.6 L515.9 233.1 L515.5 231.6 L515.1 230.1 L515.7 229.8 L515.7 231.1 L516.9 232.4 L516.5 234.0 L516.5 235.2 L516.8 234.1 L517.3 232.7 L516.9 231.1 L518.0 229.7 L517.7 228.2 L517.6 226.6 L517.6 225.1 L517.7 223.6 L517.8 222.1 L519.6 220.9 L517.3 219.0 L518.1 217.6 L518.3 216.1 L519.3 214.8 L520.2 213.4 L518.6 211.6 L519.4 210.2 L520.6 208.9 L519.6 207.2 L520.8 205.9 L520.8 204.4 L522.0 203.1 L522.0 201.5 L522.1 200.0 L521.2 198.4 L522.2 197.2 L523.2 196.3 L523.1 198.1 L523.7 199.4 L523.9 200.9 L524.6 202.3 L525.4 203.6 L526.2 204.9 L525.8 206.8 L526.2 205.1 L525.3 203.3 L527.3 202.2 L526.5 200.5 L527.0 199.1 L527.6 197.7 L527.1 196.0 L528.5 194.9 L527.8 193.1 L529.5 192.4 L530.9 191.7 L530.2 190.1 L531.0 191.7 L530.7 193.5 L531.8 194.7 L532.1 196.4 L532.5 197.3 L534.8 198.4 L533.1 200.2 L532.9 201.8 L534.6 203.0 L533.7 204.7 L535.2 206.0 L534.6 207.6 L535.4 209.0 L534.8 210.5 L534.3 212.1 L535.7 213.5 L536.9 214.9 L535.9 216.5 L535.6 218.0 L536.6 219.4 L535.4 221.0 L536.5 222.4 L535.4 224.1 L536.3 225.5 L536.9 226.9 L536.5 228.5 L537.2 229.9 L536.4 231.5 L538.3 232.8 L537.8 234.4 L537.3 235.8 L538.5 234.7 L537.7 233.0 L537.3 231.4 L539.0 230.2 L536.9 228.4 L538.5 227.1 L537.8 225.5 L537.6 224.0 L539.2 222.6 L540.1 221.2 L539.6 219.6 L540.0 218.2 L538.7 216.6 L540.0 215.2 L540.2 213.8 L538.6 211.9 L540.1 210.7 L539.9 209.1 L540.3 208.7 L541.0 208.2 L542.3 209.5 L542.8 211.0 L542.6 212.7 L542.8 214.2 L543.4 215.6 L543.2 217.2 L542.9 218.9 L544.2 220.1 L545.3 221.3 L545.7 222.7 L545.2 224.5 L546.5 225.6 L546.6 226.6 L546.9 225.0 L547.1 223.5 L547.2 222.0 L548.5 220.8 L547.2 219.0 L547.6 217.6 L547.7 216.1 L548.2 214.6 L548.7 213.2 L549.1 211.7 L548.5 210.1 L549.7 208.8 L549.5 207.0 L549.8 208.7 L549.5 206.9 L550.4 205.6 L549.7 203.9 L551.1 202.6 L550.6 201.0 L550.3 199.5 L551.6 198.2 L551.0 196.6 L552.2 195.2 L550.8 193.5 L551.4 192.1 L552.0 190.6 L551.6 189.1 L552.9 187.7 L551.8 186.1 L551.8 184.3 L552.7 183.0 L553.2 181.8 L555.1 181.1 L555.2 179.4 L556.9 179.4 L556.6 178.7 L555.7 180.2 L557.6 181.3 L557.2 182.9 L556.7 184.4 L558.3 185.8 L558.9 187.2 L558.0 188.8 L557.2 190.4 L559.4 191.7 L557.9 193.3 L558.0 194.8 L559.2 196.2 L558.1 197.8 L559.2 199.2 L557.6 200.9 L559.4 202.2 L558.9 203.8 L558.1 205.4 L559.4 206.8 L559.4 209.0 L559.7 207.0 L558.5 205.4 L561.0 204.2 L559.7 202.5 L558.9 200.9 L561.2 199.7 L560.7 198.1 L560.7 196.6 L560.8 195.1 L562.0 193.7 L561.4 192.1 L560.9 190.5 L561.6 189.1 L560.9 187.5 L561.1 185.8 L562.3 184.7 L563.0 183.3 L563.3 182.9 L564.6 183.2 L564.7 184.6 L564.6 182.9 L565.1 181.5 L565.0 180.0 L566.1 178.6 L565.6 177.0 L566.4 175.6 L565.4 174.0 L566.5 172.6 L565.9 171.0 L565.7 169.4 L566.6 168.1 L566.9 166.0 L566.1 166.5 L566.0 164.9 L566.5 163.5 L568.1 162.5 L567.8 160.7 L567.8 159.2 L568.0 157.7 L568.2 156.2 L568.3 154.8 L568.4 153.3 L568.6 151.8 L568.5 150.2 L569.3 148.8 L568.8 147.3 L570.0 146.0 L569.2 144.3 L569.3 142.8 L570.3 141.4 L569.9 139.8 L571.0 138.9 L571.7 137.5 L572.1 136.3 L573.4 137.2 L574.2 138.8 L573.4 140.4 L573.0 141.9 L573.5 143.4 L574.5 144.8 L574.5 146.3 L573.8 147.9 L575.4 149.2 L575.0 150.8 L574.5 152.4 L574.8 153.9 L575.8 155.2 L576.7 156.5 L575.1 158.4 L576.5 159.6 L576.8 161.1 L575.9 162.8 L576.7 164.2 L577.1 164.5 L577.2 163.0 L577.9 161.6 L577.1 159.9 L577.5 158.4 L577.7 157.0 L579.2 155.7 L578.8 154.1 L579.4 152.7 L579.3 151.2 L579.0 149.6 L579.5 148.2 L579.4 146.7 L579.8 145.2 L579.5 143.6 L580.5 142.2 L579.9 140.7 L579.9 139.2 L580.4 137.7 L579.9 136.2 L581.1 134.8 L580.1 133.1 L582.0 131.9 L582.0 130.4 L581.1 128.7 L581.6 127.3 L581.1 125.8 L581.6 124.3 L582.1 122.8 L581.7 121.3 L581.3 119.8 L581.2 118.3 L582.3 116.8 L582.1 115.3 L582.2 113.8 L581.7 112.3 L582.7 110.8 L583.0 109.3 L581.3 107.7 L581.8 106.3 L582.8 104.8 L581.6 103.2 L582.5 101.8 L583.0 100.3 L582.4 98.8 L582.8 97.3 L582.2 95.8 L583.6 94.3 L582.8 92.8 L583.9 91.5 L582.9 89.7 L584.0 88.4 L583.7 86.8 L584.1 86.6 L584.5 87.9 L584.3 89.5 L584.6 91.0 L586.5 91.9 L586.3 93.6 L586.4 95.2 L586.5 96.7 L587.3 98.0 L587.5 99.5 L587.1 101.2 L588.7 102.4 L588.1 103.9 L587.5 105.5 L588.4 106.9 L589.1 108.4 L589.8 109.8 L588.6 111.4 L589.1 112.9 L589.0 114.4 L589.0 115.9 L590.0 117.3 L588.8 118.9 L589.7 120.4 L589.9 121.9 L589.9 123.4 L589.8 124.9 L589.1 126.4 L590.0 127.9 L589.9 128.5 L590.7 127.1 L590.5 125.6 L590.9 124.1 L589.6 122.5 L590.5 121.1 L590.9 119.6 L590.7 118.1 L590.6 116.6 L589.6 115.0 L591.2 113.6 L590.7 112.1 L589.9 110.5 L591.0 109.1 L590.9 107.6 L591.2 106.1 L591.7 104.6 L590.9 103.1 L592.3 101.7 L590.6 100.0 L592.5 98.7 L590.7 97.0 L591.2 95.6 L592.0 94.1 L592.3 92.7 L592.7 91.3 L592.4 89.6 L593.1 88.3 L593.1 87.1 L593.0 89.0 L593.7 90.4 L593.3 92.0 L593.3 93.5 L593.0 95.0 L594.1 96.4 L593.6 98.0 L592.6 99.5 L593.6 101.0 L593.9 102.4 L593.4 104.0 L594.7 105.4 L594.7 106.9 L594.8 108.4 L593.6 110.0 L593.9 111.7 L593.0 110.0 L594.9 108.6 L594.3 107.0 L593.3 105.5 L594.6 104.0 L594.8 102.6 L595.2 101.1 L594.6 99.5 L594.1 98.0 L594.3 96.5 L595.3 95.1 L595.5 93.6 L595.1 92.1 L594.0 90.5 L594.7 89.5 L595.1 91.0 L594.3 92.5 L595.6 93.9 L595.4 95.4 L595.4 96.9 L595.5 98.4 L594.7 100.0 L594.7 101.5 L595.2 103.0 L595.7 104.4 L595.1 106.0 L594.9 107.5 L596.1 108.9 L595.2 110.5 L596.4 111.9 L594.7 113.5 L596.1 114.9 L595.7 115.4 L596.1 114.1 L595.7 112.5 L596.0 111.0 L595.6 109.5 L596.0 108.0 L596.7 106.6 L596.1 105.0 L596.3 103.5 L595.4 102.0 L597.4 100.6 L595.7 99.0 L597.3 97.6 L597.5 96.1 L596.7 94.4 L596.3 96.0 L596.4 97.5 L596.5 99.0 L597.1 100.5 L597.3 102.0 L596.2 103.5 L597.1 105.0 L597.0 106.5 L596.4 108.0 L597.3 109.5 L598.1 110.9 L597.3 112.5 L597.7 114.0 L598.6 115.4 L598.0 116.9 L597.7 118.6 L597.6 117.0 L597.1 115.5 L597.1 114.0 L598.9 112.6 L598.3 111.1 L597.9 109.5 L597.7 108.0 L597.9 106.5 L599.2 105.1 L598.2 103.5 L598.5 102.1 L597.5 100.5 L598.5 99.1 L598.5 97.6 L598.7 96.1 L598.7 94.1 L597.9 96.0 L599.8 97.4 L599.1 99.0 L599.1 100.5 L599.0 102.0 L598.7 103.5 L599.8 104.9 L599.4 106.5 L598.5 108.0 L599.8 109.4 L600.3 110.9 L599.4 112.5 L600.2 113.9 L599.0 115.5 L599.2 117.0 L600.7 118.4 L599.7 119.4 L600.1 118.1 L599.7 116.5 L600.5 115.1 L599.9 113.5 L599.7 112.0 L599.5 110.5 L600.8 109.1 L600.2 107.5 L599.7 106.0 L600.6 104.6 L601.3 103.1 L601.5 101.6 L600.9 100.1 L600.7 98.6 L600.8 97.1 L601.0 95.7 L601.9 96.9 L601.1 98.5 L601.5 100.0 L600.3 101.5 L601.1 103.0 L601.8 104.5 L600.4 106.0 L601.3 107.5 L602.0 108.9 L601.9 110.5 L600.9 112.0 L601.6 113.5 L602.3 114.9 L601.5 116.5 L602.3 117.9 L602.0 119.6 L601.8 118.0 L601.9 116.5 L602.4 115.1 L601.7 113.5 L602.7 112.1 L603.1 110.6 L602.6 109.1 L602.4 107.5 L603.3 106.1 L603.7 104.6 L602.8 103.1 L603.1 101.6 L602.9 100.1 L603.1 98.6 L602.9 97.1 L603.2 95.9 L603.6 97.4 L603.4 98.9 L602.9 100.4 L603.6 101.9 L603.9 103.4 L604.5 104.8 L604.2 106.3 L604.0 107.9 L603.6 109.4 L603.8 110.9 L604.0 112.4 L603.8 113.9 L604.3 115.4 L603.9 116.9 L603.9 118.4 L604.2 119.3 L604.5 118.1 L603.3 116.5 L604.3 115.0 L604.7 113.6 L603.6 112.0 L604.9 110.6 L604.7 109.1 L603.8 107.5 L605.4 106.1 L604.5 104.5 L604.8 103.1 L604.3 101.5 L604.8 100.1 L604.5 98.5 L605.6 97.1 L605.2 96.0 L605.7 97.4 L604.3 98.9 L605.8 100.4 L605.3 101.9 L605.5 103.4 L604.8 104.9 L605.9 106.4 L605.6 107.9 L605.0 109.4 L605.0 110.9 L605.8 112.4 L605.7 113.9 L606.6 115.3 L605.5 116.9 L606.2 118.9 L606.5 117.1 L607.0 115.6 L606.0 114.0 L606.3 112.5 L607.0 111.1 L606.1 109.5 L606.6 108.0 L606.7 106.6 L607.4 105.1 L606.1 103.5 L607.4 102.1 L608.0 100.6 L607.1 99.1 L607.2 97.6 L607.2 97.0 L607.5 98.6 L606.8 100.1 L607.1 101.6 L608.2 103.0 L608.0 104.5 L606.7 106.1 L607.9 107.6 L607.4 109.1 L608.0 110.6 L607.4 112.1 L608.6 113.5 L607.6 115.1 L607.7 116.6 L608.2 117.5 L608.7 116.1 L608.8 114.6 L608.2 113.0 L607.8 111.5 L608.5 110.0 L608.4 108.5 L609.0 107.1 L609.7 105.6 L609.1 104.1 L608.7 102.5 L609.0 101.2 L609.3 103.0 L609.4 104.5 L610.2 105.9 L608.4 107.6 L608.5 109.1 L609.7 110.5 L608.7 112.1 L610.0 113.5 L609.8 114.1 L610.0 112.5 L610.2 110.9 L610.8 109.6 L610.8 108.5 L611.1 110.0 L611.1 111.5 L612.0 112.9 L611.8 114.6 L611.6 113.0 L612.4 111.6 L611.8 110.0 L612.2 108.5 L612.9 107.1 L612.7 105.6 L612.0 104.0 L613.7 102.7 L612.8 101.1 L613.2 99.6 L614.5 98.3 L613.7 96.6 L614.7 95.3 L613.1 93.5 L614.2 92.7 L614.5 94.0 L613.8 95.5 L614.0 97.0 L614.7 98.5 L614.6 100.0 L614.8 101.5 L615.5 102.9 L615.0 104.5 L614.5 106.0 L615.1 107.4 L614.3 109.0 L614.8 110.5 L615.5 111.9 L615.0 113.8 L615.4 112.0 L614.3 110.5 L614.8 109.0 L614.8 107.5 L615.8 106.1 L615.7 104.6 L615.4 103.0 L615.2 101.5 L616.1 100.1 L615.8 98.6 L615.9 97.1 L615.4 95.5 L615.6 94.0 L615.9 92.6 L615.8 91.8 L616.1 93.0 L615.9 94.5 L615.2 96.0 L616.7 97.4 L616.3 99.0 L615.9 100.5 L616.1 102.0 L615.7 103.5 L616.3 105.0 L616.5 106.5 L615.6 108.0 L616.8 109.4 L615.8 111.0 L615.9 112.5 L617.5 113.9 L616.8 115.5 L616.8 114.0 L616.9 112.5 L616.6 111.0 L616.8 109.5 L617.5 108.1 L616.5 106.5 L616.8 105.0 L617.5 103.6 L617.6 102.1 L617.4 100.5 L617.9 99.1 L616.7 97.5 L618.2 96.1 L617.8 95.1 L617.7 96.6 L618.5 98.1 L618.0 99.6 L617.9 101.1 L617.9 102.6 L617.8 104.1 L618.6 105.6 L618.1 107.1 L618.2 108.6 L618.5 110.1 L618.7 111.6 L618.2 113.1 L618.8 114.6 L618.5 116.1 L618.8 117.4 L618.4 116.0 L619.9 114.6 L618.9 113.0 L619.1 111.5 L620.1 110.1 L619.2 108.5 L619.6 107.1 L619.2 105.5 L619.2 104.0 L619.6 102.6 L618.6 101.0 L619.2 99.5 L619.6 98.1 L619.8 96.6 L619.7 95.1 L619.8 94.4 L619.9 96.0 L620.4 97.5 L620.5 99.0 L619.8 100.5 L620.0 102.0 L621.0 103.4 L619.8 105.0 L619.7 106.5 L619.9 108.0 L620.3 109.5 L620.4 111.0 L620.5 112.5 L620.0 114.0 L620.1 115.5 L620.9 117.0 L620.6 118.5 L621.4 119.9 L620.8 120.9 L620.8 119.0 L620.4 117.5 L621.3 116.1 L621.2 114.6 L621.0 113.1 L620.7 111.5 L621.3 110.1 L620.9 108.5 L621.2 107.1 L621.6 105.6 L620.9 104.0 L622.2 102.6 L621.5 101.1 L621.9 99.6 L621.6 98.1 L621.1 96.5 L621.9 95.1 L622.1 93.6 L621.4 92.1 L622.6 90.6 L621.8 89.1 L622.7 87.6 L621.8 86.0 L621.8 84.5 L621.3 83.0 L622.1 81.6 L623.4 80.2 L622.0 78.5 L623.1 77.2 L622.2 75.4 L622.5 74.0 L623.6 72.7 L623.8 71.8 L625.3 72.6 L625.6 74.1 L625.3 75.6 L626.2 77.0 L625.4 78.6 L626.2 80.0 L625.2 81.7 L625.9 83.1 L626.5 84.5 L626.0 86.1 L626.6 87.5 L626.6 89.0 L626.1 90.6 L627.0 92.0 L626.5 93.6 L628.0 94.9 L626.2 96.6 L627.2 98.0 L627.5 99.5 L627.6 101.0 L627.5 102.5 L628.3 103.9 L627.4 105.6 L628.3 107.0 L628.1 108.5 L628.5 110.0 L628.4 111.5 L628.3 113.0 L629.0 114.4 L629.3 115.9 L629.4 117.4 L629.7 118.9 L629.9 120.4 L630.2 121.9 L629.3 123.4 L630.0 124.9 L629.5 126.4 L629.8 127.9 L629.6 129.4 L629.4 130.9 L629.5 132.4 L629.9 133.9 L629.2 135.4 L630.8 136.7 L630.5 138.3 L630.4 139.9 L630.6 140.4 L631.4 139.1 L632.3 137.7 L631.5 136.1 L631.8 134.6 L631.4 133.1 L633.0 131.8 L632.3 130.2 L632.2 128.7 L631.8 127.1 L633.1 125.7 L632.6 124.2 L632.2 122.7 L632.9 121.2 L633.2 119.7 L632.9 118.2 L633.1 116.7 L633.0 115.2 L633.2 113.7 L633.8 112.2 L633.2 110.7 L633.7 109.2 L632.9 107.6 L633.3 106.1 L634.8 105.0 L634.2 103.5 L635.8 103.7 L635.8 104.4 L635.8 102.9 L636.7 101.6 L636.6 100.0 L637.7 98.7 L638.6 98.5 L638.4 100.0 L639.8 101.4 L640.1 102.8 L639.6 104.4 L639.4 105.9 L639.7 107.4 L640.2 108.9 L639.1 110.5 L638.9 112.0 L639.9 113.4 L639.3 115.0 L640.3 116.4 L640.7 117.9 L639.6 119.5 L639.5 121.0 L640.3 122.4 L640.5 123.9 L640.3 125.4 L640.1 126.9 L640.6 128.4 L640.5 129.9 L639.9 131.5 L640.0 133.0 L640.6 134.4 L640.6 135.9 L641.1 137.4 L641.3 138.8 L641.2 140.4 L641.5 141.8 L642.1 143.3 L641.0 144.9 L641.4 146.4 L641.1 147.9 L641.9 149.6 L642.2 148.0 L642.9 146.6 L642.6 145.0 L643.2 143.6 L643.1 142.1 L644.3 140.7 L644.5 139.2 L643.3 137.6 L644.2 136.2 L644.0 134.6 L645.1 133.3 L643.8 131.5 L644.9 130.2 L644.5 128.6 L644.8 127.1 L646.1 125.9 L645.3 124.2 L645.3 122.6 L646.7 121.4 L646.7 119.9 L646.8 118.3 L647.8 117.1 L647.4 115.3 L649.1 115.1 L649.7 113.9 L650.3 114.9 L650.7 116.4 L649.7 118.1 L650.5 119.6 L650.5 118.0 L650.2 116.5 L649.3 115.2 L649.6 113.6 L649.5 115.0 L650.0 116.4 L650.1 117.9 L649.9 119.5 L650.6 120.9 L651.6 122.3 L650.2 124.0 L651.4 125.3 L650.5 126.9 L651.4 128.4 L651.7 129.8 L651.8 131.3 L651.3 132.9 L652.4 134.3 L652.2 135.8 L652.2 137.3 L651.3 139.0 L653.3 140.2 L653.2 141.7 L652.8 143.3 L653.6 144.7 L652.3 146.4 L653.8 147.7 L654.1 149.1 L654.1 150.7 L654.1 152.2 L653.3 153.9 L655.3 155.0 L654.2 156.7 L654.5 158.2 L654.9 159.7 L655.3 161.1 L655.8 162.5 L655.1 164.2 L656.0 165.5 L657.1 164.2 L655.3 162.5 L656.5 161.1 L656.7 159.6 L655.7 158.0 L656.2 156.6 L656.7 155.1 L655.8 153.5 L657.7 152.2 L656.0 150.5 L656.0 149.0 L657.1 147.6 L656.3 146.0 L657.3 144.6 L656.4 143.0 L657.3 141.6 L657.2 140.1 L657.8 138.6 L657.7 137.1 L658.8 135.7 L657.5 134.1 L659.2 133.4 L659.7 131.5 L659.0 133.1 L659.0 134.6 L660.0 136.0 L661.2 137.4 L659.3 139.1 L661.3 140.4 L660.6 141.9 L660.3 143.5 L659.8 145.1 L661.0 146.4 L662.0 147.8 L660.7 149.5 L661.0 151.0 L661.9 152.4 L662.2 153.8 L662.6 155.3 L663.6 156.5 L663.3 158.2 L664.3 159.4 L663.2 161.5 L665.5 161.8 L665.4 164.0 L667.1 164.4 L668.0 165.8 L668.3 167.3 L668.2 168.9 L668.6 170.3 L669.9 171.7 L668.4 173.2 L670.0 174.7 L668.8 176.2 L669.7 177.7 L669.0 179.2 L668.9 180.7 L670.5 182.2 L669.8 183.7 L669.4 185.2 L669.6 186.7 L669.7 188.2 L669.5 189.7 L669.1 191.2 L669.9 192.7 L669.5 194.2 L669.9 195.7 L671.0 197.1 L671.1 198.3 L670.9 200.0 L671.0 201.5 L672.9 202.7 L671.9 204.4 L672.4 205.8 L672.3 207.3 L672.6 208.8 L671.8 210.5 L672.8 211.9 L672.8 213.4 L673.6 214.8 L674.3 216.1 L674.0 217.7 L673.6 219.2 L675.6 220.5 L673.8 222.2 L675.9 223.5 L674.5 225.2 L675.7 226.5 L674.7 228.2 L676.5 229.1 L675.5 231.1 L677.6 232.0 L677.1 233.8 L677.0 235.4 L677.9 236.7 L678.4 238.1 L678.2 239.7 L678.4 241.2 L677.7 242.8 L678.6 244.2 L678.3 245.7 L679.5 247.1 L678.8 248.7 L678.4 250.3 L678.8 251.7 L679.7 252.5 L680.9 251.1 L679.5 249.4 L680.4 248.0 L680.2 246.5 L680.5 245.0 L680.3 243.5 L679.7 241.9 L680.0 240.4 L680.0 238.9 L680.3 237.3 L682.0 236.2 L682.3 234.7 L682.1 233.1 L682.5 232.2 L682.6 233.9 L683.1 235.4 L683.1 236.9 L682.4 238.6 L684.0 239.8 L682.9 241.5 L684.9 242.6 L683.9 244.4 L684.6 245.8 L685.2 247.2 L684.5 248.9 L685.9 250.1 L686.9 251.3 L685.6 253.3 L686.6 254.5 L686.3 256.2 L687.4 257.4 L687.1 259.0 L687.5 260.5 L688.8 261.7 L687.9 263.4 L687.9 265.0 L688.3 266.4 L689.2 267.8 L690.0 269.1 L690.0 270.7 L688.9 272.4 L690.7 273.6 L689.7 274.6 L690.3 273.1 L689.6 271.4 L690.3 270.1 L690.0 268.4 L691.1 267.1 L690.8 265.6 L692.1 264.2 L692.4 262.8 L691.1 261.1 L692.5 259.8 L691.6 258.1 L692.2 256.7 L691.6 255.1 L692.7 253.8 L692.2 252.1 L692.7 250.7 L692.2 249.1 L693.7 247.9 L694.3 246.4 L693.3 244.7 L694.3 243.4 L694.4 241.9 L695.2 240.5 L695.4 239.0 L694.3 237.3 L694.8 235.9 L696.1 234.5 L694.3 232.9 L695.3 231.4 L695.1 229.9 L695.0 228.4 L695.2 226.9 L695.8 225.5 L695.6 223.9 L695.5 222.4 L695.5 220.9 L695.7 219.2 L696.5 219.8 L696.7 218.0 L697.5 216.7 L696.8 214.9 L698.5 214.0 L698.4 212.3 L700.0 211.4 L699.5 209.5 L699.7 208.0 L701.2 206.8 L701.5 205.4 L700.7 203.7 L701.5 202.3 L701.0 200.7 L701.4 199.2 L702.6 197.9 L701.0 196.1 L701.9 194.7 L702.1 193.3 L702.7 191.8 L703.6 190.7 L703.0 188.7 L703.8 188.6 L703.2 190.1 L704.8 191.3 L703.5 193.1 L704.7 194.4 L704.9 195.9 L705.3 197.4 L706.0 198.8 L704.3 200.6 L706.9 201.7 L705.5 203.4 L706.1 204.8 L705.8 206.4 L706.6 207.8 L705.9 209.5 L707.0 210.8 L708.5 212.0 L706.9 213.8 L707.2 215.3 L707.6 216.7 L707.1 218.4 L707.5 219.8 L708.8 221.1 L707.7 222.7 L708.2 224.2 L708.0 225.7 L708.5 227.2 L709.9 228.6 L708.6 230.2 L709.9 231.6 L709.1 233.1 L710.2 234.2 L710.2 235.9 L710.7 237.4 L711.3 238.8 L710.8 240.4 L711.6 241.8 L711.2 243.4 L712.8 244.4 L712.3 246.2 L713.1 247.5 L713.3 249.1 L713.3 250.7 L715.5 251.4 L714.6 252.5 L715.4 251.2 L716.2 250.6 L717.3 251.7 L717.6 253.2 L717.0 254.9 L717.8 256.3 L718.0 255.0 L717.7 253.4 L718.3 252.0 L718.1 250.4 L717.7 248.9 L717.8 247.3 L719.2 246.6 L719.1 248.0 L720.2 249.3 L720.3 250.8 L720.6 252.5 L720.5 250.7 L721.4 249.5 L722.6 248.4 L721.2 246.5 L722.8 245.3 L722.0 243.6 L723.3 242.4 L724.1 241.0 L723.9 239.4 L723.9 237.9 L724.4 236.4 L725.2 235.1 L724.8 233.4 L726.4 232.3 L727.0 231.7 L728.1 230.8 L727.5 229.4 L728.6 230.5 L729.0 232.1 L728.7 233.8 L729.4 235.1 L730.3 236.4 L730.2 238.0 L730.5 239.5 L730.2 241.0 L731.6 242.5 L731.4 244.0 L730.1 245.5 L730.7 247.0 L731.4 248.3 L732.1 249.6 L731.7 251.4 L732.9 252.6 L733.1 254.1 L733.6 255.5 L735.1 256.8 L734.3 258.4 L735.4 259.8 L734.4 261.4 L735.0 262.9 L734.3 264.5 L736.0 265.8 L734.9 267.4 L735.0 268.9 L735.1 270.4 L735.6 271.9 L734.9 273.5 L736.6 274.7 L736.7 276.2 L735.7 277.9 L735.0 279.5 L736.2 280.6 L735.3 278.8 L736.6 277.5 L737.9 276.3 L737.5 274.7 L737.9 273.2 L738.0 271.7 L739.5 270.8 L739.3 269.5 L738.7 271.2 L739.9 272.4 L739.4 274.1 L741.1 275.2 L740.7 276.8 L740.4 274.9 L740.7 273.4 L741.9 272.2 L742.3 270.6 L742.3 272.5 L742.8 273.3 L744.4 274.4 L744.9 275.8 L746.2 277.0 L745.0 278.9 L746.1 280.1 L745.2 282.1 L746.7 282.6 L746.9 281.1 L746.9 279.5 L746.7 278.0 L747.2 276.5 L748.7 275.3 L747.9 273.3 L748.3 272.5 L749.8 271.1 L748.5 269.5 L750.6 268.1 L749.6 266.6 L748.7 265.1 L750.5 263.6 L748.3 262.0 L748.3 260.5 L750.8 259.1 L749.5 257.6 L749.9 256.1 L750.5 254.6 L748.5 253.0 L750.6 251.6 L749.9 250.1 L748.6 248.5 L749.9 247.1 L750.6 245.6 L749.4 244.1 L750.7 242.6 L750.6 241.1 L750.8 239.7 L750.2 238.1 L750.7 236.7 L750.2 235.0 L751.3 233.7 L751.3 232.2 L752.4 231.1 L751.9 229.0 L753.6 228.3 L754.0 226.8 L755.1 225.6 L754.2 223.7 L754.6 222.3 L754.8 220.8 L756.0 219.6 L755.5 217.9 L756.5 216.6 L756.8 215.1 L756.0 213.5 L757.5 212.2 L756.6 210.5 L756.5 209.0 L756.6 207.5 L757.1 206.1 L757.5 204.6 L757.1 203.1 L757.8 201.6 L757.7 200.1 L757.4 198.5 L758.5 197.2 L758.9 195.9 L759.1 194.1 L760.4 193.3 L761.4 192.2 L762.2 190.9 L761.0 189.0 L762.7 187.6 L762.7 186.1 L761.7 184.6 L761.4 183.1 L762.6 181.6 L762.2 180.1 L763.1 178.6 L762.9 177.1 L762.2 175.6 L762.8 174.1 L762.3 172.6 L761.7 171.1 L763.0 169.6 L763.2 168.1 L762.6 166.6 L762.2 165.1 L762.9 163.6 L763.3 162.1 L762.7 160.6 L763.6 159.1 L764.0 157.7 L764.0 156.2 L763.5 154.6 L763.0 153.0 L764.0 151.7 L764.8 150.3 L764.2 148.7 L764.3 147.2 L765.0 149.0 L766.5 149.9 L766.3 151.4 L766.7 152.9 L767.0 154.4 L765.9 156.1 L766.9 157.4 L767.5 158.8 L767.3 159.4 L767.2 158.0 L768.5 156.8 L767.3 155.0 L767.9 153.5 L768.1 152.0 L769.8 151.0 L769.6 149.3 L770.2 148.0 L769.0 146.3 L769.4 144.8 L769.2 143.3 L770.3 141.9 L770.2 140.4 L770.8 138.9 L770.7 137.4 L770.1 135.9 L769.8 134.3 L770.7 132.9 L770.6 131.4 L770.6 129.9 L770.6 128.4 L771.4 126.9 L771.1 125.4 L771.9 124.0 L771.4 122.4 L771.9 120.9 L771.3 119.4 L772.3 118.0 L771.9 116.4 L772.2 114.9 L772.3 113.4 L772.7 112.0 L771.7 110.4 L772.2 108.9 L773.6 107.9 L773.8 106.2 L774.4 104.9 L774.3 104.6 L775.0 105.8 L774.7 107.5 L775.6 108.8 L775.5 110.3 L776.4 111.7 L775.9 113.3 L776.5 114.7 L777.2 116.2 L776.1 117.8 L776.8 119.2 L776.9 120.7 L776.1 122.3 L776.4 123.8 L777.3 125.2 L776.4 126.8 L776.9 127.7 L776.8 125.9 L777.7 124.6 L777.7 123.1 L777.3 121.5 L778.0 120.1 L778.3 118.6 L778.4 117.1 L778.6 115.6 L778.9 114.1 L779.1 112.7 L779.4 111.2 L779.5 109.7 L779.7 108.2 L779.8 106.7 L780.0 105.2 L780.1 103.7 L780.3 102.2 L780.3 100.7 L780.2 99.2 L780.1 97.7 L780.0 96.2 L780.0 94.7 L780.1 93.2 L780.1 91.7 L780.2 90.2 L780.2 88.7 L780.3 87.2 L780.3 85.7 L780.4 84.2 L780.4 82.7 L780.5 81.2 L780.5 79.8 L780.6 78.3 L780.6 76.8 L780.7 75.3 L780.8 73.8 L780.8 72.3 L780.9 70.8 L780.9 69.3 L781.0 67.8 L781.0 66.3 L781.1 64.8 L781.1 63.3 L781.2 61.8 L781.2 60.3 L781.3 58.8 L781.3 57.3 L781.4 55.8 L781.5 54.3 L781.6 52.8 L781.7 51.3 L781.9 49.8 L782.0 48.3 L782.1 46.8 L782.2 45.3 L782.3 43.8 L782.4 42.3 L782.5 40.8 L782.6 39.3 L782.7 37.8 L782.9 36.3 L783.0 34.8 L783.1 33.3 L783.2 31.8 L783.3 30.3 L783.4 29.4" stroke="#8e8e8e" stroke-width="4.4"/>
<path d="M68.5 260.2 L68.3 262.3 L68.5 263.8 L70.4 264.8 L68.9 266.7 L70.6 267.9 L70.9 269.3 L70.9 270.9 L70.0 272.6 L71.3 273.9 L71.1 275.5 L71.5 276.9 L70.6 278.6 L72.9 279.7 L72.1 281.4 L72.5 282.8 L73.7 284.1 L72.6 285.8 L72.0 287.5 L72.4 288.9 L73.3 289.4 L73.8 288.3 L74.3 290.2 L74.2 291.8 L73.4 293.4 L74.2 294.8 L74.4 294.6 L74.7 293.6 L75.7 292.3 L75.3 291.5 L75.7 292.8 L75.0 294.4 L75.9 295.8 L76.3 296.8 L76.2 295.3 L76.9 294.0 L77.3 293.5 L77.5 295.3 L78.0 296.7 L78.5 298.2 L78.5 299.7 L78.6 301.1 L79.4 302.2 L80.1 301.0 L80.3 299.3 L81.4 300.6 L81.1 300.8 L81.9 299.8 L81.4 298.1 L82.1 296.5 L82.9 298.4 L83.3 296.7 L82.1 295.0 L82.6 293.6 L83.1 292.2 L83.8 291.3 L84.8 292.4 L86.0 291.3 L84.9 289.5 L85.5 288.1 L85.7 286.6 L85.1 288.6 L85.4 290.0 L86.2 291.4 L86.6 292.9 L87.9 291.6 L87.6 290.9 L87.9 292.1 L88.8 293.5 L88.0 295.2 L88.6 295.5 L89.4 294.4 L90.0 293.0 L89.6 292.5 L90.3 293.5 L90.3 291.7 L91.0 290.2 L90.8 288.7 L92.0 287.3 L91.0 285.7 L91.0 284.2 L92.0 282.8 L92.3 281.4 L90.6 279.6 L92.5 278.4 L91.5 276.7 L91.8 275.2 L92.5 273.8 L92.1 272.2 L92.6 271.4 L93.4 272.7 L92.8 274.2 L93.1 275.7 L94.1 277.2 L92.1 278.8 L93.3 280.2 L92.3 281.8 L93.1 282.4 L93.3 281.0 L93.8 279.5 L93.6 278.0 L92.8 276.5 L94.2 275.1 L93.0 273.5 L93.8 272.0 L92.3 270.5 L93.6 269.8 L94.3 267.9 L94.8 268.4 L96.0 268.9 L97.8 269.8 L96.6 271.8 L96.6 273.3 L97.9 274.6 L97.2 276.2 L97.3 277.7 L96.6 279.3 L99.0 280.6 L98.6 282.1 L97.0 283.8 L97.6 285.2 L98.8 286.6 L99.1 288.1 L98.5 289.6 L97.3 291.3 L99.2 292.6 L98.2 294.2 L99.0 295.6 L98.8 297.4 L99.8 297.6 L101.5 296.9 L99.8 294.4 L101.2 293.5 L102.2 292.3 L103.6 291.7 L103.8 290.1 L105.1 289.0 L105.1 287.3 L106.1 288.6 L106.0 287.2 L106.3 285.7 L107.4 284.4 L107.7 283.0 L106.9 281.4 L108.4 280.0 L107.5 278.4 L107.8 276.9 L107.8 275.4 L107.6 273.9 L108.6 272.5 L108.5 271.0 L107.2 269.4 L107.7 267.9 L108.1 266.4 L108.4 264.9 L109.3 263.5 L109.1 262.0 L108.9 260.5 L109.1 259.0 L108.6 257.5 L108.0 255.9 L107.8 254.4 L108.7 252.9 L108.4 251.3 L108.6 249.8 L110.4 249.0 L111.2 250.0 L112.2 251.4 L111.2 253.0 L112.4 254.4 L111.4 256.0 L111.9 257.5 L112.5 258.9 L112.6 260.0 L113.9 259.1 L113.6 258.7 L114.9 259.3 L114.5 260.9 L116.0 262.2 L115.8 263.7 L115.7 265.3 L116.4 266.7 L115.9 268.3 L116.6 269.7 L116.1 271.3 L116.8 272.7 L116.4 274.3 L117.2 275.7 L116.2 277.2 L116.9 278.7 L116.7 280.2 L117.5 281.7 L117.8 283.2 L118.0 284.6 L118.2 286.0 L117.9 287.7 L119.1 288.7 L120.0 289.9 L119.9 290.5 L120.2 288.7 L121.7 287.9 L121.6 286.4 L120.8 284.8 L122.5 283.5 L121.9 281.9 L122.3 280.4 L122.7 279.0 L122.6 277.4 L122.5 276.5 L122.8 276.4 L123.2 275.0 L123.2 273.5 L123.4 272.1 L123.0 270.4 L124.1 269.3 L125.1 268.1 L125.5 266.6 L124.9 264.4 L126.4 263.4 L127.7 263.1 L129.2 264.1 L129.7 266.0 L129.1 267.6 L128.3 269.2 L129.0 270.7 L129.6 272.1 L128.6 273.7 L129.5 275.1 L129.9 276.6 L129.8 278.1 L129.0 279.7 L130.7 281.0 L130.6 282.5 L130.3 284.1 L130.8 285.5 L130.1 287.2 L131.4 288.4 L131.5 290.1 L132.4 290.4 L133.4 289.2 L133.3 287.6 L133.1 286.0 L134.3 284.7 L133.1 283.0 L133.6 281.5 L134.6 280.2 L133.4 278.5 L134.3 277.1 L134.6 276.1 L134.2 277.8 L135.3 279.3 L134.7 280.8 L134.0 282.3 L134.2 283.8 L134.6 284.2 L134.7 283.1 L134.5 281.5 L134.7 280.0 L133.9 278.5 L133.9 277.0 L134.5 275.5 L135.2 274.1 L134.7 272.5 L135.5 271.1 L135.4 269.6 L135.6 268.1 L134.6 266.5 L136.1 265.1 L135.6 263.5 L136.2 262.1 L136.6 260.7 L135.5 259.0 L137.1 257.9 L136.4 255.8 L137.7 255.4 L138.7 256.4 L138.7 258.0 L139.1 259.4 L138.7 261.0 L140.6 262.3 L139.4 263.9 L139.6 265.4 L140.1 266.8 L139.6 268.4 L140.4 269.8 L140.2 271.3 L139.7 272.9 L140.7 274.3 L140.0 275.9 L139.4 277.7 L141.0 278.6 L142.3 277.5 L141.5 275.8 L141.9 274.2 L143.0 275.6 L141.7 277.5 L141.7 279.1 L143.0 279.5 L143.3 277.9 L143.8 276.9 L144.7 278.2 L145.1 279.6 L144.8 281.7 L144.8 279.8 L145.0 278.3 L145.6 277.4 L146.6 278.2 L145.6 280.0 L146.2 281.4 L146.5 282.2 L146.9 281.1 L147.3 280.9 L148.0 282.0 L147.2 283.8 L148.1 284.6 L148.7 283.0 L148.6 281.4 L149.0 280.3 L150.1 281.2 L150.0 282.6 L150.1 281.0 L151.5 279.9 L151.0 278.9 L152.3 279.9 L152.6 281.4 L151.9 281.6 L152.1 280.4 L153.0 279.1 L152.8 277.7 L153.1 279.6 L153.3 281.1 L153.8 281.7 L153.7 280.2 L154.5 280.1 L155.1 281.5 L155.1 283.0 L154.9 284.5 L155.3 285.7 L156.2 284.4 L156.0 283.4 L155.9 284.7 L155.9 286.2 L156.3 287.7 L156.8 288.4 L157.3 287.4 L156.6 285.6 L157.5 285.4 L157.6 286.6 L157.8 288.1 L158.4 288.0 L159.5 287.0 L159.2 285.6 L158.4 287.5 L159.7 288.6 L160.3 290.0 L161.0 291.4 L160.9 293.0 L161.6 294.3 L162.1 295.8 L163.1 297.0 L162.5 298.8 L163.3 300.0 L163.8 301.5 L165.1 300.9 L166.6 301.6 L165.0 304.1 L167.5 304.5 L166.6 306.5 L168.0 307.4 L169.7 308.4 L169.6 310.0 L170.2 311.4 L169.5 313.3 L170.1 314.7 L170.5 316.1 L172.3 317.0 L171.9 318.8 L172.4 320.2 L172.0 321.9 L173.1 323.1 L173.7 324.5 L174.1 325.9 L174.3 327.4 L175.5 326.7 L176.8 326.3 L177.9 325.0 L179.1 324.0 L179.3 322.5 L180.3 321.3 L182.0 320.4 L181.1 318.2 L182.3 317.3 L182.7 315.8 L183.6 314.5 L184.0 313.1 L183.8 311.4 L185.4 310.9 L185.7 308.9 L187.3 309.1 L187.9 311.1 L189.5 311.0 L190.3 310.1 L191.9 309.4 L192.1 308.0 L192.3 305.9 L194.2 306.2 L195.1 304.9 L196.5 305.1 L197.0 304.9 L198.1 304.1 L198.4 302.2 L199.7 301.4 L200.8 300.2 L201.0 302.3 L201.5 303.7 L203.5 304.4 L201.9 306.7 L202.9 308.0 L204.9 308.6 L204.5 309.7 L206.2 309.8 L206.4 307.7 L206.4 306.2 L206.1 304.5 L207.3 303.3 L208.9 302.6 L208.3 301.0 L209.5 301.7 L209.8 300.2 L211.2 299.4 L212.2 298.3 L212.7 298.4 L212.6 299.9 L214.6 300.6 L215.5 301.7 L215.1 303.7 L216.5 304.6 L216.4 306.2 L216.8 304.8 L216.5 303.5 L218.0 302.2 L217.9 300.6 L217.5 299.1 L218.1 297.6 L219.0 296.2 L217.3 294.6 L218.1 293.1 L219.2 291.7 L218.8 290.2 L219.2 288.7 L219.3 287.2 L219.7 285.8 L220.9 284.4 L221.1 283.0 L220.6 281.4 L220.1 279.7 L221.0 278.4 L222.0 277.0 L220.7 275.1 L222.0 274.1 L223.1 273.3 L223.3 272.7 L223.6 274.6 L222.5 276.3 L223.4 277.7 L224.4 279.0 L223.8 280.6 L224.4 282.1 L224.2 283.6 L224.3 285.1 L223.6 286.7 L224.3 288.1 L224.9 289.6 L225.7 290.9 L225.5 291.6 L225.2 289.7 L226.7 288.5 L226.6 286.9 L225.9 285.3 L227.0 283.9 L226.7 282.4 L226.5 280.9 L225.6 279.3 L227.0 277.9 L226.9 276.4 L226.8 274.9 L227.2 273.4 L227.6 271.9 L227.2 270.4 L228.0 268.9 L227.1 267.4 L227.6 265.9 L227.5 264.4 L227.3 262.9 L226.9 261.4 L226.9 259.9 L228.7 258.8 L227.6 256.7 L229.8 255.7 L229.8 254.2 L230.3 252.8 L229.3 251.1 L230.5 249.8 L229.6 248.1 L229.9 246.7 L230.2 245.2 L231.3 244.1 L232.0 242.8 L230.9 240.9 L232.1 239.5 L232.9 238.2 L232.1 236.5 L233.1 235.2 L233.7 233.7 L232.7 232.0 L233.4 230.5 L234.1 230.4 L234.5 231.9 L235.1 233.3 L235.1 234.9 L236.0 236.2 L236.6 237.6 L236.6 239.1 L237.0 240.6 L237.0 242.1 L237.5 243.5 L236.7 245.3 L238.1 246.4 L238.2 248.0 L239.0 249.3 L239.2 250.8 L239.5 252.3 L240.1 253.6 L241.0 254.9 L240.3 256.8 L241.1 257.5 L241.7 256.1 L241.1 254.5 L241.7 253.1 L241.9 251.6 L241.5 250.1 L242.4 248.6 L242.7 247.1 L242.8 245.6 L241.8 244.1 L242.3 242.6 L242.1 241.1 L242.3 239.6 L242.8 238.1 L243.1 236.7 L242.7 235.1 L244.0 234.3 L244.5 233.5 L244.8 235.1 L246.1 236.0 L245.7 237.6 L245.8 239.1 L247.2 240.5 L246.3 242.1 L247.0 243.5 L246.2 245.1 L247.0 246.5 L245.9 248.1 L247.5 249.5 L246.7 251.1 L246.6 252.6 L247.1 254.1 L247.1 255.6 L247.0 257.1 L247.6 258.5 L248.8 259.9 L247.9 261.5 L248.2 263.0 L248.6 264.4 L248.8 265.9 L248.5 267.5 L250.1 268.7 L249.0 270.5 L249.7 271.9 L251.1 270.6 L250.8 272.2 L252.0 273.4 L252.0 275.0 L252.7 276.3 L253.0 277.9 L252.4 279.5 L253.1 280.9 L252.9 282.4 L254.3 283.7 L253.5 285.4 L253.5 287.0 L254.5 288.2 L254.2 289.9 L256.0 290.9 L255.0 292.7 L255.3 294.2 L256.3 295.5 L256.6 297.0 L255.7 298.7 L255.6 300.3 L257.5 301.4 L256.9 303.1 L256.5 304.6 L257.6 306.0 L258.6 307.3 L257.4 309.0 L258.1 310.4 L258.1 311.5 L257.8 310.0 L259.4 308.8 L258.5 307.0 L259.2 305.7 L258.5 303.9 L259.2 302.6 L260.4 301.3 L260.2 300.3 L261.7 301.3 L260.9 303.6 L261.8 303.4 L262.3 302.2 L262.9 300.8 L262.5 298.9 L263.7 297.9 L264.2 296.5 L265.0 295.1 L265.5 293.7 L265.6 292.2 L265.8 291.4 L265.9 293.1 L267.4 294.0 L267.5 295.6 L267.7 297.2 L268.0 298.6 L268.6 299.7 L269.0 298.1 L269.7 296.7 L271.0 295.6 L270.6 293.9 L270.4 292.2 L271.8 291.1 L271.7 289.6 L271.8 288.1 L272.3 286.6 L271.6 285.0 L273.0 283.7 L272.3 282.1 L273.4 280.7 L272.4 279.1 L273.4 277.7 L273.1 276.1 L274.3 274.9 L274.3 273.3 L274.2 271.7 L274.8 270.3 L276.0 269.1 L275.9 267.5 L275.6 265.9 L276.2 264.5 L277.5 263.7 L278.2 262.3 L278.5 260.7 L279.4 259.4 L279.7 257.9 L280.0 256.2 L281.2 255.2 L281.8 255.4 L283.2 255.4 L283.0 257.0 L283.7 258.4 L283.7 259.9 L285.0 261.2 L285.2 262.5 L285.7 263.9 L285.8 265.5 L285.8 267.1 L286.0 268.6 L286.7 269.9 L286.3 271.5 L286.5 273.0 L287.2 274.4 L287.8 275.8 L289.0 277.1 L288.7 278.7 L288.4 280.3 L289.6 281.6 L289.1 283.2 L289.8 284.6 L289.6 286.2 L290.0 287.6 L288.9 289.3 L290.8 290.5 L291.2 292.0 L289.9 293.7 L290.8 295.1 L290.9 296.6 L292.0 297.9 L290.5 299.7 L290.8 301.2 L292.4 302.4 L292.7 303.9 L292.7 305.4 L292.8 306.9 L292.2 308.5 L293.6 309.8 L292.7 311.8 L293.2 313.3 L295.0 313.8 L294.8 315.6 L295.3 317.0 L296.8 317.8 L297.5 319.2 L298.2 320.5 L298.0 322.2 L299.8 323.1 L299.2 324.3 L299.4 323.1 L300.4 321.8 L300.3 320.2 L299.4 318.5 L300.8 317.2 L300.6 315.7 L300.7 314.2 L301.6 313.0 L301.3 311.1 L302.0 309.8 L303.0 308.1 L304.3 308.4 L304.9 310.0 L305.9 310.5 L306.8 309.4 L307.3 308.2 L308.7 309.5 L309.2 308.2 L308.7 306.4 L309.7 305.2 L309.6 303.5 L311.1 302.5 L310.8 300.8 L311.6 299.5 L311.9 298.7 L313.3 299.5 L312.7 297.9 L313.8 296.6 L314.0 295.1 L314.4 293.6 L313.6 291.9 L315.6 290.8 L315.7 289.3 L314.7 287.6 L315.4 286.2 L315.7 284.7 L315.4 283.2 L315.4 281.6 L316.5 280.3 L315.9 278.6 L316.3 277.2 L317.4 275.9 L317.2 274.3 L318.1 273.0 L318.0 271.4 L319.3 270.9 L320.3 269.3 L320.5 271.4 L321.9 271.1 L321.9 269.7 L323.7 269.0 L324.3 267.6 L324.2 265.8 L324.7 265.8 L325.7 266.6 L326.5 267.9 L326.2 269.6 L326.5 271.1 L326.8 272.6 L327.8 273.9 L327.2 275.6 L327.2 277.1 L326.9 278.6 L327.8 280.0 L327.4 281.6 L328.1 283.0 L327.3 284.7 L328.8 285.9 L329.5 287.3 L328.4 289.0 L329.9 290.3 L328.7 292.0 L329.7 293.4 L329.7 294.9 L330.6 296.3 L329.3 298.0 L330.2 299.4 L330.5 300.8 L329.7 302.5 L330.1 303.9 L331.5 305.2 L330.6 306.9 L331.9 308.2 L331.6 309.8 L330.4 311.6 L331.6 312.8 L331.5 314.4 L332.8 315.6 L332.4 317.4 L334.1 317.8 L333.9 318.2 L334.3 317.1 L335.1 315.8 L334.5 314.0 L335.8 312.9 L336.8 311.8 L337.1 310.2 L337.3 308.6 L338.8 307.7 L339.0 306.0 L339.9 305.6 L340.0 307.1 L340.7 308.4 L340.5 310.0 L341.4 311.4 L342.1 312.7 L341.2 314.5 L341.9 315.8 L343.2 317.1 L341.8 319.0 L342.8 319.2 L342.2 317.8 L343.3 316.6 L344.2 315.3 L343.6 313.4 L344.2 312.1 L345.3 310.9 L347.0 310.5 L346.7 308.2 L348.2 307.3 L347.8 305.6 L348.6 304.3 L348.0 302.1 L350.5 302.0 L349.6 300.0 L350.5 298.7 L350.9 297.2 L350.5 295.6 L352.2 294.4 L351.2 292.7 L352.0 291.4 L352.1 289.8 L353.2 288.6 L353.5 287.3 L352.9 284.9 L355.3 284.9 L356.2 284.8 L357.4 283.3 L359.3 284.5 L359.7 282.2 L361.9 281.7 L361.5 279.8 L362.6 278.9 L363.6 279.9 L362.6 281.5 L364.4 282.8 L364.1 284.4 L363.3 286.0 L364.5 287.3 L365.6 288.7 L363.5 290.5 L366.1 291.7 L365.2 293.3 L366.8 294.0 L367.3 295.3 L368.0 296.8 L369.0 298.2 L370.7 298.7 L372.5 299.1 L372.6 298.0 L374.3 297.7 L374.5 298.7 L376.1 299.2 L376.7 297.3 L377.8 296.1 L378.0 294.6 L378.2 293.0 L378.8 291.7 L379.9 290.6 L381.4 290.1 L382.6 289.2 L382.7 287.1 L383.9 286.9 L384.7 288.3 L385.8 289.4 L385.7 291.0 L386.6 292.2 L387.9 293.3 L387.0 294.6 L388.1 293.5 L388.4 292.0 L390.2 291.0 L389.9 289.3 L388.8 287.4 L389.7 286.1 L390.2 284.7 L390.9 283.4 L392.0 282.0 L393.4 283.0 L393.9 284.7 L393.2 286.4 L394.0 287.8 L393.3 289.8 L395.1 290.6 L395.6 289.3 L396.5 288.0 L395.8 286.3 L396.4 284.9 L396.8 283.4 L397.6 282.1 L398.0 280.7 L397.7 279.0 L398.2 277.6 L399.1 276.3 L399.9 275.9 L400.2 273.3 L401.7 274.8 L401.9 272.9 L402.4 271.5 L404.4 270.9 L403.9 268.8 L404.0 270.5 L405.3 271.5 L405.8 272.9 L405.3 274.5 L405.5 276.0 L405.9 277.5 L405.3 279.0 L404.6 280.4 L403.9 282.3 L404.7 283.6 L405.9 284.8 L405.9 285.2 L406.3 283.5 L406.3 282.1 L408.0 281.1 L407.9 279.5 L408.7 278.2 L408.6 276.6 L409.1 275.2 L409.3 273.6 L410.0 272.3 L410.3 270.8 L409.0 269.0 L411.6 268.2 L410.8 266.3 L410.8 264.6 L412.8 264.0 L411.6 261.8 L414.1 261.2 L412.4 258.9 L412.8 257.5 L414.3 256.4 L414.9 255.0 L415.0 253.5 L416.3 252.3 L416.1 250.7 L417.3 249.5 L416.7 247.8 L416.6 246.4 L418.4 246.8 L418.2 248.4 L419.1 247.1 L417.3 245.3 L418.5 243.9 L420.2 242.7 L419.1 241.0 L419.3 239.5 L420.4 238.1 L418.8 236.5 L419.6 235.0 L419.3 233.5 L420.4 232.1 L419.9 230.5 L419.7 229.0 L419.4 227.5 L420.1 226.0 L420.4 224.6 L419.5 223.0 L421.1 221.7 L420.7 220.1 L420.4 218.5 L421.0 217.1 L421.0 215.6 L420.6 214.0 L421.3 212.6 L421.3 211.3 L422.5 212.4 L422.7 213.9 L422.4 211.9 L423.0 210.5 L424.5 209.4 L424.3 207.8 L425.3 206.2 L425.8 207.9 L426.1 209.4 L426.2 210.9 L426.2 212.4 L426.4 213.9 L426.9 215.3 L426.3 216.9 L427.7 218.3 L427.1 219.8 L426.6 221.3 L427.6 222.8 L426.9 224.3 L427.7 225.8 L428.0 227.2 L427.6 228.8 L427.7 230.3 L428.0 231.8 L428.5 233.2 L428.3 234.8 L429.3 236.1 L429.0 236.8 L428.3 235.4 L430.2 234.1 L429.3 232.5 L429.8 231.1 L429.8 229.5 L430.4 228.1 L430.0 227.6 L429.8 229.1 L429.8 230.6 L430.1 232.1 L431.1 233.4 L432.1 234.7 L432.1 236.3 L431.7 237.9 L431.9 239.1 L431.2 237.4 L432.6 236.1 L431.6 234.4 L432.8 233.1 L432.8 232.4 L432.4 234.0 L432.3 235.5 L433.6 236.9 L433.4 238.5 L433.7 240.0 L432.5 241.6 L434.2 242.9 L433.4 244.5 L433.8 246.0 L434.7 247.4 L433.8 248.3 L434.2 246.5 L433.5 245.0 L434.9 243.6 L433.8 242.0 L434.1 240.5 L435.3 239.1 L434.6 237.5 L434.8 236.0 L434.2 237.7 L434.6 239.1 L435.6 240.3 L435.1 238.4 L436.4 237.1 L435.8 235.5 L437.0 234.1 L435.7 232.5 L436.4 231.0 L435.5 229.4 L436.2 228.0 L436.8 226.6 L436.1 224.9 L436.8 223.5 L438.1 222.2 L437.2 220.6 L437.1 219.0 L436.8 217.5 L437.6 216.1 L437.8 214.6 L437.9 213.1 L438.6 211.7 L439.0 210.2 L438.7 208.4 L440.0 209.2 L440.3 209.5 L440.8 208.1 L441.9 207.0 L441.8 205.3 L442.6 204.2 L443.3 203.5 L443.0 205.2 L444.2 206.4 L444.4 207.9 L444.7 209.4 L445.9 210.5 L447.1 211.8 L446.6 213.4 L447.2 214.8 L446.4 216.4 L447.9 217.8 L447.2 219.4 L446.9 220.9 L447.6 222.3 L446.5 223.9 L447.5 225.4 L447.8 226.8 L447.6 228.4 L448.2 229.8 L448.1 231.3 L448.2 232.8 L448.1 234.3 L448.3 235.4 L447.8 234.0 L448.7 232.6 L448.5 231.1 L449.4 229.7 L448.3 228.0 L448.5 226.5 L450.3 225.3 L448.6 223.5 L449.7 222.2 L450.1 220.7 L449.0 219.1 L449.9 217.6 L450.6 216.2 L450.8 214.8 L450.9 213.3 L450.5 211.7 L450.7 210.2 L451.0 208.7 L451.3 207.2 L450.8 209.3 L451.3 210.7 L452.3 211.4 L452.0 210.0 L452.6 208.5 L453.2 207.1 L453.7 205.6 L454.0 204.2 L453.4 202.6 L454.3 201.2 L454.4 199.7 L453.2 198.0 L453.9 196.6 L453.4 195.1 L454.2 193.6 L453.8 192.1 L455.1 190.7 L454.1 189.1 L455.3 187.8 L455.0 186.2 L455.3 184.8 L455.8 183.3 L455.3 181.1 L456.9 181.5 L456.7 183.0 L457.8 184.4 L458.3 185.8 L457.6 187.4 L458.1 188.9 L458.6 190.3 L457.9 191.9 L458.3 193.4 L459.2 194.8 L458.3 196.4 L459.0 197.8 L459.3 199.3 L458.3 200.9 L458.9 201.6 L458.7 199.9 L459.8 198.6 L459.6 197.0 L460.7 195.7 L460.0 194.1 L461.7 192.9 L460.8 191.2 L461.7 189.8 L461.5 188.2 L462.4 186.9 L462.8 186.3 L462.7 188.1 L462.5 189.7 L463.6 190.9 L465.0 192.2 L464.5 193.8 L463.4 195.4 L464.5 196.8 L465.5 198.2 L465.0 199.8 L464.3 201.3 L465.1 202.8 L464.0 204.4 L465.5 205.7 L465.6 207.2 L465.5 208.8 L465.9 210.2 L465.4 211.8 L465.6 213.3 L465.2 214.8 L465.6 216.3 L465.9 217.7 L466.7 219.2 L466.0 220.7 L465.8 222.3 L465.3 223.8 L466.1 225.2 L465.8 226.8 L466.6 228.2 L466.8 229.7 L467.3 231.2 L467.1 232.7 L466.3 234.3 L465.9 235.8 L466.1 237.3 L466.7 238.7 L466.9 239.2 L467.4 238.1 L466.6 236.3 L468.7 235.3 L467.8 233.5 L468.5 232.3 L469.3 233.3 L469.6 234.8 L469.7 236.3 L470.1 237.9 L471.6 238.3 L471.9 239.1 L471.5 237.2 L472.4 236.0 L473.3 234.7 L473.3 233.1 L473.7 231.8 L473.2 230.2 L473.5 228.7 L474.8 227.4 L474.5 225.8 L474.0 224.3 L475.5 222.9 L474.3 221.3 L475.9 219.9 L475.0 218.3 L475.6 216.9 L475.1 215.3 L476.0 213.9 L475.3 212.3 L475.9 210.9 L475.2 209.3 L476.0 207.9 L475.0 206.3 L476.4 204.9 L476.0 203.4 L475.9 201.9 L477.4 200.5 L477.3 199.0 L476.7 197.4 L477.6 196.0 L476.3 194.3 L477.7 193.0 L478.8 192.6 L479.1 194.0 L478.5 195.5 L478.3 197.1 L479.1 198.5 L480.3 199.8 L479.2 201.5 L479.8 202.9 L479.2 204.5 L480.9 205.8 L480.5 207.4 L480.9 208.8 L480.4 210.4 L480.4 211.9 L480.6 213.4 L481.6 214.8 L480.3 216.7 L481.3 217.9 L482.7 218.9 L482.0 220.6 L482.8 222.1 L483.0 223.6 L481.9 225.2 L482.8 226.6 L481.9 228.2 L483.1 229.6 L482.8 231.1 L482.7 232.6 L483.2 234.1 L482.4 235.6 L483.1 237.1 L483.7 238.6 L482.9 240.1 L482.4 241.6 L482.2 243.2 L484.1 244.6 L483.4 246.1 L483.3 246.5 L484.1 245.1 L483.3 243.6 L483.8 242.1 L483.1 240.6 L484.3 239.1 L483.5 237.6 L484.0 236.1 L483.3 234.6 L483.2 233.1 L483.5 231.6 L483.6 230.1 L483.9 228.6 L483.9 227.1 L483.4 225.6 L484.0 224.1 L484.2 222.6 L483.7 221.1 L484.5 219.6 L484.1 218.8 L484.8 220.0 L484.7 221.5 L484.0 223.0 L484.8 224.5 L485.0 226.0 L484.4 227.5 L484.4 229.0 L484.7 230.5 L485.1 232.0 L483.7 233.6 L484.5 235.0 L485.4 236.5 L484.4 238.0 L485.7 239.5 L484.6 241.0 L484.9 242.6 L485.8 241.1 L484.9 239.6 L486.0 238.1 L485.4 236.6 L485.9 235.1 L485.5 233.6 L485.0 232.1 L485.6 230.6 L484.5 229.1 L485.8 227.6 L485.7 226.1 L485.5 224.6 L485.0 223.1 L485.7 222.6 L486.2 224.0 L484.8 225.6 L486.7 227.0 L485.5 228.5 L485.9 230.0 L485.1 231.6 L486.4 233.0 L485.1 234.6 L486.9 236.0 L486.2 237.5 L485.3 239.1 L486.8 240.5 L485.3 242.1 L485.9 243.5 L486.5 245.0 L485.7 246.6 L486.4 248.0 L485.9 249.5 L486.5 250.7 L487.5 249.2 L486.9 247.6 L486.8 246.1 L487.2 244.6 L487.3 243.1 L487.7 241.7 L485.9 240.1 L487.0 238.6 L486.9 237.1 L487.5 235.6 L486.5 234.1 L487.1 232.6 L487.9 234.0 L487.7 235.5 L487.3 237.1 L488.2 238.5 L487.7 240.0 L486.9 241.6 L487.1 243.1 L487.8 244.5 L487.4 246.1 L487.1 247.6 L487.9 249.0 L487.6 250.6 L488.4 252.0 L487.9 252.7 L487.9 251.1 L488.1 249.6 L487.6 248.1 L489.0 246.7 L488.4 245.1 L487.5 243.6 L489.1 242.2 L487.4 240.6 L488.6 239.1 L487.8 237.6 L488.6 236.1 L488.5 234.5 L488.1 236.1 L488.9 237.5 L488.3 239.1 L489.0 240.5 L488.4 242.1 L489.3 243.5 L489.6 245.0 L489.3 246.7 L489.1 245.1 L489.9 243.6 L489.2 242.1 L489.7 240.6 L489.4 239.1 L489.3 237.6 L490.2 236.1 L489.6 234.6 L489.5 233.1 L490.1 231.6 L489.9 230.1 L490.2 228.6 L490.2 227.1 L490.1 226.3 L490.4 228.0 L490.2 229.6 L489.7 231.1 L491.0 232.5 L490.6 234.0 L489.9 235.6 L490.6 237.0 L490.9 238.3 L491.5 237.1 L490.7 235.6 L490.7 234.1 L491.6 232.6 L491.2 231.1 L491.3 229.6 L490.6 228.0 L491.5 226.6 L492.5 225.2 L492.0 223.6 L491.7 222.8 L491.7 224.0 L491.3 225.6 L492.5 227.0 L492.0 228.5 L491.9 230.0 L493.0 231.5 L493.0 233.0 L492.5 234.6 L492.6 233.1 L492.5 231.6 L492.7 230.1 L493.1 228.6 L492.8 227.1 L493.1 225.6 L492.5 224.1 L493.1 222.6 L493.1 221.2 L493.2 223.0 L493.8 224.5 L492.6 226.1 L493.5 227.5 L494.4 228.9 L493.9 230.5 L494.8 231.9 L493.9 232.6 L493.9 231.1 L494.0 229.6 L494.6 228.1 L494.5 226.5 L494.8 228.0 L493.7 229.6 L494.5 231.1 L495.7 232.5 L494.0 234.1 L494.8 235.6 L495.6 237.0 L495.3 238.7 L495.9 237.1 L494.8 235.5 L494.9 234.0 L495.4 232.6 L495.7 231.1 L495.6 229.6 L496.4 228.1 L496.9 226.7 L495.5 225.1 L496.1 224.5 L497.1 226.0 L495.5 227.6 L495.4 229.1 L496.5 230.5 L496.6 232.0 L495.8 233.6 L497.0 235.0 L496.9 236.5 L497.1 238.0 L497.1 239.5 L496.9 240.6 L497.7 239.2 L497.2 237.6 L496.6 236.0 L498.0 234.7 L496.7 233.0 L497.7 231.6 L497.7 230.8 L497.8 232.1 L497.6 233.6 L498.3 235.0 L497.3 236.6 L498.7 238.0 L498.0 239.6 L499.1 241.0 L498.6 242.5 L497.4 244.1 L497.9 245.6 L497.5 247.1 L498.5 248.5 L498.1 250.1 L498.5 250.9 L498.0 249.1 L499.6 247.7 L498.6 246.1 L498.6 244.6 L499.2 243.1 L499.3 241.6 L499.2 240.1 L499.3 238.6 L498.2 237.1 L498.7 235.6 L499.1 234.8 L499.5 236.1 L498.7 237.6 L499.6 239.0 L498.6 240.6 L499.4 242.1 L499.0 243.6 L498.8 245.1 L499.4 246.6 L499.3 248.1 L500.2 249.5 L498.8 251.1 L499.4 252.6 L499.8 254.1 L499.9 254.6 L499.2 253.1 L499.2 251.6 L500.8 250.1 L500.3 248.6 L499.5 247.1 L499.6 245.6 L499.7 244.1 L500.2 242.6 L499.9 241.1 L500.1 239.6 L500.3 238.1 L500.8 236.6 L500.0 235.1 L500.7 233.6 L501.0 232.1 L500.5 231.5 L500.7 233.1 L501.6 234.5 L500.6 236.1 L500.8 237.6 L501.6 239.0 L500.9 240.6 L501.9 242.0 L500.7 243.6 L500.8 245.1 L501.1 246.5 L501.2 248.0 L501.0 249.6 L501.2 251.1 L501.3 252.7 L501.2 251.1 L501.8 249.6 L500.9 248.1 L500.7 246.6 L501.9 245.1 L501.4 243.6 L502.4 242.1 L501.1 240.6 L502.4 239.1 L502.0 237.6 L501.1 236.1 L501.8 234.6 L502.3 233.1 L502.1 231.6 L501.9 230.1 L502.3 228.6 L501.7 227.1 L501.7 225.6 L502.1 224.6 L502.9 226.0 L503.2 227.5 L501.8 229.1 L502.2 230.6 L503.4 232.0 L502.9 233.5 L503.2 235.0 L502.5 236.5 L503.0 238.0 L502.4 239.5 L502.9 241.0 L502.9 242.7 L503.2 241.1 L502.9 239.6 L503.0 238.1 L502.4 236.6 L503.7 235.1 L503.9 233.6 L503.1 232.1 L504.3 230.6 L503.4 229.1 L503.1 227.6 L503.6 226.1 L503.7 224.6 L502.8 223.1 L504.1 221.6 L503.7 220.6 L503.4 222.1 L504.1 223.5 L503.8 225.0 L504.2 226.5 L504.8 228.0 L504.8 229.5 L504.6 231.0 L503.6 232.6 L504.6 234.0 L504.5 234.6 L504.7 233.1 L505.0 231.6 L504.5 230.1 L505.5 228.6 L505.6 227.1 L504.1 225.5 L505.7 224.1 L505.5 222.6 L505.9 221.1 L505.1 219.4 L504.7 221.1 L505.5 222.5 L505.4 224.0 L505.7 225.5 L505.2 227.0 L505.6 228.5 L505.8 230.0 L505.7 231.5 L506.5 233.0 L506.7 234.5 L505.8 236.0 L506.0 237.5 L505.9 238.9 L506.8 237.1 L506.3 235.6 L506.4 234.1 L506.7 232.6 L506.3 231.1 L506.2 229.6 L506.8 228.1 L506.7 226.6 L506.3 225.1 L506.5 224.6 L506.6 226.0 L507.6 227.5 L506.2 229.1 L507.0 230.5 L505.9 232.1 L507.4 233.5 L506.5 235.1 L507.3 236.5 L507.2 238.0 L507.0 239.5 L507.4 241.0 L507.8 242.5 L507.3 244.0 L507.3 244.9 L506.5 243.0 L507.3 241.6 L506.6 240.0 L508.0 238.6 L507.2 237.1 L507.2 235.6 L508.0 234.1 L508.2 232.6 L508.0 231.1 L508.1 230.4 L507.6 232.1 L508.5 233.5 L507.8 235.1 L507.4 236.6 L507.6 238.1 L508.5 239.6 L509.2 241.0 L507.6 242.6 L509.3 244.0 L509.3 245.5 L508.7 247.1 L509.0 248.5 L508.7 250.1 L508.9 250.4 L509.2 249.1 L508.2 247.6 L509.6 246.1 L509.4 244.6 L509.4 243.1 L509.0 241.6 L509.5 240.1 L508.9 238.6 L510.3 237.2 L510.4 235.7 L509.7 234.4 L510.6 236.0 L509.5 237.6 L510.3 239.0 L510.2 240.6 L509.1 242.1 L510.3 243.6 L509.4 245.1 L509.4 246.6 L510.9 248.0 L510.0 249.6 L509.5 251.1 L511.0 252.5 L510.4 254.1 L510.6 255.6 L510.5 257.0 L509.8 255.1 L511.2 253.7 L510.5 252.1 L511.1 250.6 L511.0 249.1 L510.2 247.6 L511.4 246.2 L511.3 244.6 L511.0 243.1 L510.9 241.6 L511.4 240.1 L511.1 238.4 L511.6 240.1 L511.0 241.6 L512.3 243.0 L511.3 244.6 L512.2 246.0 L512.2 247.5 L512.1 249.0 L511.7 250.6 L511.5 252.1 L510.9 253.6 L511.9 254.3 L511.8 253.1 L512.9 251.7 L512.8 250.1 L512.2 248.6 L512.8 247.2 L512.2 245.6 L512.5 244.1 L512.6 242.6 L512.8 241.1 L512.2 239.6 L512.6 238.1 L512.3 236.6 L512.5 235.9 L512.4 237.1 L512.9 238.5 L512.3 240.1 L512.0 241.6 L512.9 243.1 L512.3 244.6 L514.0 246.0 L513.3 246.7 L514.4 245.2 L513.7 243.6 L512.9 242.1 L513.6 240.6 L513.8 239.1 L513.8 237.6 L513.8 236.1 L514.0 234.6 L513.4 233.1 L513.9 231.6 L514.1 230.8 L514.2 232.1 L513.5 233.6 L513.7 235.1 L514.7 236.5 L513.8 238.1 L515.0 239.5 L514.9 240.8 L515.7 239.1 L515.6 237.6 L515.2 236.1 L514.9 234.6 L515.9 233.1 L515.5 231.6 L515.1 230.1 L515.7 229.8 L515.7 231.1 L516.9 232.4 L516.5 234.0 L516.5 235.2 L516.8 234.1 L517.3 232.7 L516.9 231.1 L518.0 229.7 L517.7 228.2 L517.6 226.6 L517.6 225.1 L517.7 223.6 L517.8 222.1 L519.6 220.9 L517.3 219.0 L518.1 217.6 L518.3 216.1 L519.3 214.8 L520.2 213.4 L518.6 211.6 L519.4 210.2 L520.6 208.9 L519.6 207.2 L520.8 205.9 L520.8 204.4 L522.0 203.1 L522.0 201.5 L522.1 200.0 L521.2 198.4 L522.2 197.2 L523.2 196.3 L523.1 198.1 L523.7 199.4 L523.9 200.9 L524.6 202.3 L525.4 203.6 L526.2 204.9 L525.8 206.8 L526.2 205.1 L525.3 203.3 L527.3 202.2 L526.5 200.5 L527.0 199.1 L527.6 197.7 L527.1 196.0 L528.5 194.9 L527.8 193.1 L529.5 192.4 L530.9 191.7 L530.2 190.1 L531.0 191.7 L530.7 193.5 L531.8 194.7 L532.1 196.4 L532.5 197.3 L534.8 198.4 L533.1 200.2 L532.9 201.8 L534.6 203.0 L533.7 204.7 L535.2 206.0 L534.6 207.6 L535.4 209.0 L534.8 210.5 L534.3 212.1 L535.7 213.5 L536.9 214.9 L535.9 216.5 L535.6 218.0 L536.6 219.4 L535.4 221.0 L536.5 222.4 L535.4 224.1 L536.3 225.5 L536.9 226.9 L536.5 228.5 L537.2 229.9 L536.4 231.5 L538.3 232.8 L537.8 234.4 L537.3 235.8 L538.5 234.7 L537.7 233.0 L537.3 231.4 L539.0 230.2 L536.9 228.4 L538.5 227.1 L537.8 225.5 L537.6 224.0 L539.2 222.6 L540.1 221.2 L539.6 219.6 L540.0 218.2 L538.7 216.6 L540.0 215.2 L540.2 213.8 L538.6 211.9 L540.1 210.7 L539.9 209.1 L540.3 208.7 L541.0 208.2 L542.3 209.5 L542.8 211.0 L542.6 212.7 L542.8 214.2 L543.4 215.6 L543.2 217.2 L542.9 218.9 L544.2 220.1 L545.3 221.3 L545.7 222.7 L545.2 224.5 L546.5 225.6 L546.6 226.6 L546.9 225.0 L547.1 223.5 L547.2 222.0 L548.5 220.8 L547.2 219.0 L547.6 217.6 L547.7 216.1 L548.2 214.6 L548.7 213.2 L549.1 211.7 L548.5 210.1 L549.7 208.8 L549.5 207.0 L549.8 208.7 L549.5 206.9 L550.4 205.6 L549.7 203.9 L551.1 202.6 L550.6 201.0 L550.3 199.5 L551.6 198.2 L551.0 196.6 L552.2 195.2 L550.8 193.5 L551.4 192.1 L552.0 190.6 L551.6 189.1 L552.9 187.7 L551.8 186.1 L551.8 184.3 L552.7 183.0 L553.2 181.8 L555.1 181.1 L555.2 179.4 L556.9 179.4 L556.6 178.7 L555.7 180.2 L557.6 181.3 L557.2 182.9 L556.7 184.4 L558.3 185.8 L558.9 187.2 L558.0 188.8 L557.2 190.4 L559.4 191.7 L557.9 193.3 L558.0 194.8 L559.2 196.2 L558.1 197.8 L559.2 199.2 L557.6 200.9 L559.4 202.2 L558.9 203.8 L558.1 205.4 L559.4 206.8 L559.4 209.0 L559.7 207.0 L558.5 205.4 L561.0 204.2 L559.7 202.5 L558.9 200.9 L561.2 199.7 L560.7 198.1 L560.7 196.6 L560.8 195.1 L562.0 193.7 L561.4 192.1 L560.9 190.5 L561.6 189.1 L560.9 187.5 L561.1 185.8 L562.3 184.7 L563.0 183.3 L563.3 182.9 L564.6 183.2 L564.7 184.6 L564.6 182.9 L565.1 181.5 L565.0 180.0 L566.1 178.6 L565.6 177.0 L566.4 175.6 L565.4 174.0 L566.5 172.6 L565.9 171.0 L565.7 169.4 L566.6 168.1 L566.9 166.0 L566.1 166.5 L566.0 164.9 L566.5 163.5 L568.1 162.5 L567.8 160.7 L567.8 159.2 L568.0 157.7 L568.2 156.2 L568.3 154.8 L568.4 153.3 L568.6 151.8 L568.5 150.2 L569.3 148.8 L568.8 147.3 L570.0 146.0 L569.2 144.3 L569.3 142.8 L570.3 141.4 L569.9 139.8 L571.0 138.9 L571.7 137.5 L572.1 136.3 L573.4 137.2 L574.2 138.8 L573.4 140.4 L573.0 141.9 L573.5 143.4 L574.5 144.8 L574.5 146.3 L573.8 147.9 L575.4 149.2 L575.0 150.8 L574.5 152.4 L574.8 153.9 L575.8 155.2 L576.7 156.5 L575.1 158.4 L576.5 159.6 L576.8 161.1 L575.9 162.8 L576.7 164.2 L577.1 164.5 L577.2 163.0 L577.9 161.6 L577.1 159.9 L577.5 158.4 L577.7 157.0 L579.2 155.7 L578.8 154.1 L579.4 152.7 L579.3 151.2 L579.0 149.6 L579.5 148.2 L579.4 146.7 L579.8 145.2 L579.5 143.6 L580.5 142.2 L579.9 140.7 L579.9 139.2 L580.4 137.7 L579.9 136.2 L581.1 134.8 L580.1 133.1 L582.0 131.9 L582.0 130.4 L581.1 128.7 L581.6 127.3 L581.1 125.8 L581.6 124.3 L582.1 122.8 L581.7 121.3 L581.3 119.8 L581.2 118.3 L582.3 116.8 L582.1 115.3 L582.2 113.8 L581.7 112.3 L582.7 110.8 L583.0 109.3 L581.3 107.7 L581.8 106.3 L582.8 104.8 L581.6 103.2 L582.5 101.8 L583.0 100.3 L582.4 98.8 L582.8 97.3 L582.2 95.8 L583.6 94.3 L582.8 92.8 L583.9 91.5 L582.9 89.7 L584.0 88.4 L583.7 86.8 L584.1 86.6 L584.5 87.9 L584.3 89.5 L584.6 91.0 L586.5 91.9 L586.3 93.6 L586.4 95.2 L586.5 96.7 L587.3 98.0 L587.5 99.5 L587.1 101.2 L588.7 102.4 L588.1 103.9 L587.5 105.5 L588.4 106.9 L589.1 108.4 L589.8 109.8 L588.6 111.4 L589.1 112.9 L589.0 114.4 L589.0 115.9 L590.0 117.3 L588.8 118.9 L589.7 120.4 L589.9 121.9 L589.9 123.4 L589.8 124.9 L589.1 126.4 L590.0 127.9 L589.9 128.5 L590.7 127.1 L590.5 125.6 L590.9 124.1 L589.6 122.5 L590.5 121.1 L590.9 119.6 L590.7 118.1 L590.6 116.6 L589.6 115.0 L591.2 113.6 L590.7 112.1 L589.9 110.5 L591.0 109.1 L590.9 107.6 L591.2 106.1 L591.7 104.6 L590.9 103.1 L592.3 101.7 L590.6 100.0 L592.5 98.7 L590.7 97.0 L591.2 95.6 L592.0 94.1 L592.3 92.7 L592.7 91.3 L592.4 89.6 L593.1 88.3 L593.1 87.1 L593.0 89.0 L593.7 90.4 L593.3 92.0 L593.3 93.5 L593.0 95.0 L594.1 96.4 L593.6 98.0 L592.6 99.5 L593.6 101.0 L593.9 102.4 L593.4 104.0 L594.7 105.4 L594.7 106.9 L594.8 108.4 L593.6 110.0 L593.9 111.7 L593.0 110.0 L594.9 108.6 L594.3 107.0 L593.3 105.5 L594.6 104.0 L594.8 102.6 L595.2 101.1 L594.6 99.5 L594.1 98.0 L594.3 96.5 L595.3 95.1 L595.5 93.6 L595.1 92.1 L594.0 90.5 L594.7 89.5 L595.1 91.0 L594.3 92.5 L595.6 93.9 L595.4 95.4 L595.4 96.9 L595.5 98.4 L594.7 100.0 L594.7 101.5 L595.2 103.0 L595.7 104.4 L595.1 106.0 L594.9 107.5 L596.1 108.9 L595.2 110.5 L596.4 111.9 L594.7 113.5 L596.1 114.9 L595.7 115.4 L596.1 114.1 L595.7 112.5 L596.0 111.0 L595.6 109.5 L596.0 108.0 L596.7 106.6 L596.1 105.0 L596.3 103.5 L595.4 102.0 L597.4 100.6 L595.7 99.0 L597.3 97.6 L597.5 96.1 L596.7 94.4 L596.3 96.0 L596.4 97.5 L596.5 99.0 L597.1 100.5 L597.3 102.0 L596.2 103.5 L597.1 105.0 L597.0 106.5 L596.4 108.0 L597.3 109.5 L598.1 110.9 L597.3 112.5 L597.7 114.0 L598.6 115.4 L598.0 116.9 L597.7 118.6 L597.6 117.0 L597.1 115.5 L597.1 114.0 L598.9 112.6 L598.3 111.1 L597.9 109.5 L597.7 108.0 L597.9 106.5 L599.2 105.1 L598.2 103.5 L598.5 102.1 L597.5 100.5 L598.5 99.1 L598.5 97.6 L598.7 96.1 L598.7 94.1 L597.9 96.0 L599.8 97.4 L599.1 99.0 L599.1 100.5 L599.0 102.0 L598.7 103.5 L599.8 104.9 L599.4 106.5 L598.5 108.0 L599.8 109.4 L600.3 110.9 L599.4 112.5 L600.2 113.9 L599.0 115.5 L599.2 117.0 L600.7 118.4 L599.7 119.4 L600.1 118.1 L599.7 116.5 L600.5 115.1 L599.9 113.5 L599.7 112.0 L599.5 110.5 L600.8 109.1 L600.2 107.5 L599.7 106.0 L600.6 104.6 L601.3 103.1 L601.5 101.6 L600.9 100.1 L600.7 98.6 L600.8 97.1 L601.0 95.7 L601.9 96.9 L601.1 98.5 L601.5 100.0 L600.3 101.5 L601.1 103.0 L601.8 104.5 L600.4 106.0 L601.3 107.5 L602.0 108.9 L601.9 110.5 L600.9 112.0 L601.6 113.5 L602.3 114.9 L601.5 116.5 L602.3 117.9 L602.0 119.6 L601.8 118.0 L601.9 116.5 L602.4 115.1 L601.7 113.5 L602.7 112.1 L603.1 110.6 L602.6 109.1 L602.4 107.5 L603.3 106.1 L603.7 104.6 L602.8 103.1 L603.1 101.6 L602.9 100.1 L603.1 98.6 L602.9 97.1 L603.2 95.9 L603.6 97.4 L603.4 98.9 L602.9 100.4 L603.6 101.9 L603.9 103.4 L604.5 104.8 L604.2 106.3 L604.0 107.9 L603.6 109.4 L603.8 110.9 L604.0 112.4 L603.8 113.9 L604.3 115.4 L603.9 116.9 L603.9 118.4 L604.2 119.3 L604.5 118.1 L603.3 116.5 L604.3 115.0 L604.7 113.6 L603.6 112.0 L604.9 110.6 L604.7 109.1 L603.8 107.5 L605.4 106.1 L604.5 104.5 L604.8 103.1 L604.3 101.5 L604.8 100.1 L604.5 98.5 L605.6 97.1 L605.2 96.0 L605.7 97.4 L604.3 98.9 L605.8 100.4 L605.3 101.9 L605.5 103.4 L604.8 104.9 L605.9 106.4 L605.6 107.9 L605.0 109.4 L605.0 110.9 L605.8 112.4 L605.7 113.9 L606.6 115.3 L605.5 116.9 L606.2 118.9 L606.5 117.1 L607.0 115.6 L606.0 114.0 L606.3 112.5 L607.0 111.1 L606.1 109.5 L606.6 108.0 L606.7 106.6 L607.4 105.1 L606.1 103.5 L607.4 102.1 L608.0 100.6 L607.1 99.1 L607.2 97.6 L607.2 97.0 L607.5 98.6 L606.8 100.1 L607.1 101.6 L608.2 103.0 L608.0 104.5 L606.7 106.1 L607.9 107.6 L607.4 109.1 L608.0 110.6 L607.4 112.1 L608.6 113.5 L607.6 115.1 L607.7 116.6 L608.2 117.5 L608.7 116.1 L608.8 114.6 L608.2 113.0 L607.8 111.5 L608.5 110.0 L608.4 108.5 L609.0 107.1 L609.7 105.6 L609.1 104.1 L608.7 102.5 L609.0 101.2 L609.3 103.0 L609.4 104.5 L610.2 105.9 L608.4 107.6 L608.5 109.1 L609.7 110.5 L608.7 112.1 L610.0 113.5 L609.8 114.1 L610.0 112.5 L610.2 110.9 L610.8 109.6 L610.8 108.5 L611.1 110.0 L611.1 111.5 L612.0 112.9 L611.8 114.6 L611.6 113.0 L612.4 111.6 L611.8 110.0 L612.2 108.5 L612.9 107.1 L612.7 105.6 L612.0 104.0 L613.7 102.7 L612.8 101.1 L613.2 99.6 L614.5 98.3 L613.7 96.6 L614.7 95.3 L613.1 93.5 L614.2 92.7 L614.5 94.0 L613.8 95.5 L614.0 97.0 L614.7 98.5 L614.6 100.0 L614.8 101.5 L615.5 102.9 L615.0 104.5 L614.5 106.0 L615.1 107.4 L614.3 109.0 L614.8 110.5 L615.5 111.9 L615.0 113.8 L615.4 112.0 L614.3 110.5 L614.8 109.0 L614.8 107.5 L615.8 106.1 L615.7 104.6 L615.4 103.0 L615.2 101.5 L616.1 100.1 L615.8 98.6 L615.9 97.1 L615.4 95.5 L615.6 94.0 L615.9 92.6 L615.8 91.8 L616.1 93.0 L615.9 94.5 L615.2 96.0 L616.7 97.4 L616.3 99.0 L615.9 100.5 L616.1 102.0 L615.7 103.5 L616.3 105.0 L616.5 106.5 L615.6 108.0 L616.8 109.4 L615.8 111.0 L615.9 112.5 L617.5 113.9 L616.8 115.5 L616.8 114.0 L616.9 112.5 L616.6 111.0 L616.8 109.5 L617.5 108.1 L616.5 106.5 L616.8 105.0 L617.5 103.6 L617.6 102.1 L617.4 100.5 L617.9 99.1 L616.7 97.5 L618.2 96.1 L617.8 95.1 L617.7 96.6 L618.5 98.1 L618.0 99.6 L617.9 101.1 L617.9 102.6 L617.8 104.1 L618.6 105.6 L618.1 107.1 L618.2 108.6 L618.5 110.1 L618.7 111.6 L618.2 113.1 L618.8 114.6 L618.5 116.1 L618.8 117.4 L618.4 116.0 L619.9 114.6 L618.9 113.0 L619.1 111.5 L620.1 110.1 L619.2 108.5 L619.6 107.1 L619.2 105.5 L619.2 104.0 L619.6 102.6 L618.6 101.0 L619.2 99.5 L619.6 98.1 L619.8 96.6 L619.7 95.1 L619.8 94.4 L619.9 96.0 L620.4 97.5 L620.5 99.0 L619.8 100.5 L620.0 102.0 L621.0 103.4 L619.8 105.0 L619.7 106.5 L619.9 108.0 L620.3 109.5 L620.4 111.0 L620.5 112.5 L620.0 114.0 L620.1 115.5 L620.9 117.0 L620.6 118.5 L621.4 119.9 L620.8 120.9 L620.8 119.0 L620.4 117.5 L621.3 116.1 L621.2 114.6 L621.0 113.1 L620.7 111.5 L621.3 110.1 L620.9 108.5 L621.2 107.1 L621.6 105.6 L620.9 104.0 L622.2 102.6 L621.5 101.1 L621.9 99.6 L621.6 98.1 L621.1 96.5 L621.9 95.1 L622.1 93.6 L621.4 92.1 L622.6 90.6 L621.8 89.1 L622.7 87.6 L621.8 86.0 L621.8 84.5 L621.3 83.0 L622.1 81.6 L623.4 80.2 L622.0 78.5 L623.1 77.2 L622.2 75.4 L622.5 74.0 L623.6 72.7 L623.8 71.8 L625.3 72.6 L625.6 74.1 L625.3 75.6 L626.2 77.0 L625.4 78.6 L626.2 80.0 L625.2 81.7 L625.9 83.1 L626.5 84.5 L626.0 86.1 L626.6 87.5 L626.6 89.0 L626.1 90.6 L627.0 92.0 L626.5 93.6 L628.0 94.9 L626.2 96.6 L627.2 98.0 L627.5 99.5 L627.6 101.0 L627.5 102.5 L628.3 103.9 L627.4 105.6 L628.3 107.0 L628.1 108.5 L628.5 110.0 L628.4 111.5 L628.3 113.0 L629.0 114.4 L629.3 115.9 L629.4 117.4 L629.7 118.9 L629.9 120.4 L630.2 121.9 L629.3 123.4 L630.0 124.9 L629.5 126.4 L629.8 127.9 L629.6 129.4 L629.4 130.9 L629.5 132.4 L629.9 133.9 L629.2 135.4 L630.8 136.7 L630.5 138.3 L630.4 139.9 L630.6 140.4 L631.4 139.1 L632.3 137.7 L631.5 136.1 L631.8 134.6 L631.4 133.1 L633.0 131.8 L632.3 130.2 L632.2 128.7 L631.8 127.1 L633.1 125.7 L632.6 124.2 L632.2 122.7 L632.9 121.2 L633.2 119.7 L632.9 118.2 L633.1 116.7 L633.0 115.2 L633.2 113.7 L633.8 112.2 L633.2 110.7 L633.7 109.2 L632.9 107.6 L633.3 106.1 L634.8 105.0 L634.2 103.5 L635.8 103.7 L635.8 104.4 L635.8 102.9 L636.7 101.6 L636.6 100.0 L637.7 98.7 L638.6 98.5 L638.4 100.0 L639.8 101.4 L640.1 102.8 L639.6 104.4 L639.4 105.9 L639.7 107.4 L640.2 108.9 L639.1 110.5 L638.9 112.0 L639.9 113.4 L639.3 115.0 L640.3 116.4 L640.7 117.9 L639.6 119.5 L639.5 121.0 L640.3 122.4 L640.5 123.9 L640.3 125.4 L640.1 126.9 L640.6 128.4 L640.5 129.9 L639.9 131.5 L640.0 133.0 L640.6 134.4 L640.6 135.9 L641.1 137.4 L641.3 138.8 L641.2 140.4 L641.5 141.8 L642.1 143.3 L641.0 144.9 L641.4 146.4 L641.1 147.9 L641.9 149.6 L642.2 148.0 L642.9 146.6 L642.6 145.0 L643.2 143.6 L643.1 142.1 L644.3 140.7 L644.5 139.2 L643.3 137.6 L644.2 136.2 L644.0 134.6 L645.1 133.3 L643.8 131.5 L644.9 130.2 L644.5 128.6 L644.8 127.1 L646.1 125.9 L645.3 124.2 L645.3 122.6 L646.7 121.4 L646.7 119.9 L646.8 118.3 L647.8 117.1 L647.4 115.3 L649.1 115.1 L649.7 113.9 L650.3 114.9 L650.7 116.4 L649.7 118.1 L650.5 119.6 L650.5 118.0 L650.2 116.5 L649.3 115.2 L649.6 113.6 L649.5 115.0 L650.0 116.4 L650.1 117.9 L649.9 119.5 L650.6 120.9 L651.6 122.3 L650.2 124.0 L651.4 125.3 L650.5 126.9 L651.4 128.4 L651.7 129.8 L651.8 131.3 L651.3 132.9 L652.4 134.3 L652.2 135.8 L652.2 137.3 L651.3 139.0 L653.3 140.2 L653.2 141.7 L652.8 143.3 L653.6 144.7 L652.3 146.4 L653.8 147.7 L654.1 149.1 L654.1 150.7 L654.1 152.2 L653.3 153.9 L655.3 155.0 L654.2 156.7 L654.5 158.2 L654.9 159.7 L655.3 161.1 L655.8 162.5 L655.1 164.2 L656.0 165.5 L657.1 164.2 L655.3 162.5 L656.5 161.1 L656.7 159.6 L655.7 158.0 L656.2 156.6 L656.7 155.1 L655.8 153.5 L657.7 152.2 L656.0 150.5 L656.0 149.0 L657.1 147.6 L656.3 146.0 L657.3 144.6 L656.4 143.0 L657.3 141.6 L657.2 140.1 L657.8 138.6 L657.7 137.1 L658.8 135.7 L657.5 134.1 L659.2 133.4 L659.7 131.5 L659.0 133.1 L659.0 134.6 L660.0 136.0 L661.2 137.4 L659.3 139.1 L661.3 140.4 L660.6 141.9 L660.3 143.5 L659.8 145.1 L661.0 146.4 L662.0 147.8 L660.7 149.5 L661.0 151.0 L661.9 152.4 L662.2 153.8 L662.6 155.3 L663.6 156.5 L663.3 158.2 L664.3 159.4 L663.2 161.5 L665.5 161.8 L665.4 164.0 L667.1 164.4 L668.0 165.8 L668.3 167.3 L668.2 168.9 L668.6 170.3 L669.9 171.7 L668.4 173.2 L670.0 174.7 L668.8 176.2 L669.7 177.7 L669.0 179.2 L668.9 180.7 L670.5 182.2 L669.8 183.7 L669.4 185.2 L669.6 186.7 L669.7 188.2 L669.5 189.7 L669.1 191.2 L669.9 192.7 L669.5 194.2 L669.9 195.7 L671.0 197.1 L671.1 198.3 L670.9 200.0 L671.0 201.5 L672.9 202.7 L671.9 204.4 L672.4 205.8 L672.3 207.3 L672.6 208.8 L671.8 210.5 L672.8 211.9 L672.8 213.4 L673.6 214.8 L674.3 216.1 L674.0 217.7 L673.6 219.2 L675.6 220.5 L673.8 222.2 L675.9 223.5 L674.5 225.2 L675.7 226.5 L674.7 228.2 L676.5 229.1 L675.5 231.1 L677.6 232.0 L677.1 233.8 L677.0 235.4 L677.9 236.7 L678.4 238.1 L678.2 239.7 L678.4 241.2 L677.7 242.8 L678.6 244.2 L678.3 245.7 L679.5 247.1 L678.8 248.7 L678.4 250.3 L678.8 251.7 L679.7 252.5 L680.9 251.1 L679.5 249.4 L680.4 248.0 L680.2 246.5 L680.5 245.0 L680.3 243.5 L679.7 241.9 L680.0 240.4 L680.0 238.9 L680.3 237.3 L682.0 236.2 L682.3 234.7 L682.1 233.1 L682.5 232.2 L682.6 233.9 L683.1 235.4 L683.1 236.9 L682.4 238.6 L684.0 239.8 L682.9 241.5 L684.9 242.6 L683.9 244.4 L684.6 245.8 L685.2 247.2 L684.5 248.9 L685.9 250.1 L686.9 251.3 L685.6 253.3 L686.6 254.5 L686.3 256.2 L687.4 257.4 L687.1 259.0 L687.5 260.5 L688.8 261.7 L687.9 263.4 L687.9 265.0 L688.3 266.4 L689.2 267.8 L690.0 269.1 L690.0 270.7 L688.9 272.4 L690.7 273.6 L689.7 274.6 L690.3 273.1 L689.6 271.4 L690.3 270.1 L690.0 268.4 L691.1 267.1 L690.8 265.6 L692.1 264.2 L692.4 262.8 L691.1 261.1 L692.5 259.8 L691.6 258.1 L692.2 256.7 L691.6 255.1 L692.7 253.8 L692.2 252.1 L692.7 250.7 L692.2 249.1 L693.7 247.9 L694.3 246.4 L693.3 244.7 L694.3 243.4 L694.4 241.9 L695.2 240.5 L695.4 239.0 L694.3 237.3 L694.8 235.9 L696.1 234.5 L694.3 232.9 L695.3 231.4 L695.1 229.9 L695.0 228.4 L695.2 226.9 L695.8 225.5 L695.6 223.9 L695.5 222.4 L695.5 220.9 L695.7 219.2 L696.5 219.8 L696.7 218.0 L697.5 216.7 L696.8 214.9 L698.5 214.0 L698.4 212.3 L700.0 211.4 L699.5 209.5 L699.7 208.0 L701.2 206.8 L701.5 205.4 L700.7 203.7 L701.5 202.3 L701.0 200.7 L701.4 199.2 L702.6 197.9 L701.0 196.1 L701.9 194.7 L702.1 193.3 L702.7 191.8 L703.6 190.7 L703.0 188.7 L703.8 188.6 L703.2 190.1 L704.8 191.3 L703.5 193.1 L704.7 194.4 L704.9 195.9 L705.3 197.4 L706.0 198.8 L704.3 200.6 L706.9 201.7 L705.5 203.4 L706.1 204.8 L705.8 206.4 L706.6 207.8 L705.9 209.5 L707.0 210.8 L708.5 212.0 L706.9 213.8 L707.2 215.3 L707.6 216.7 L707.1 218.4 L707.5 219.8 L708.8 221.1 L707.7 222.7 L708.2 224.2 L708.0 225.7 L708.5 227.2 L709.9 228.6 L708.6 230.2 L709.9 231.6 L709.1 233.1 L710.2 234.2 L710.2 235.9 L710.7 237.4 L711.3 238.8 L710.8 240.4 L711.6 241.8 L711.2 243.4 L712.8 244.4 L712.3 246.2 L713.1 247.5 L713.3 249.1 L713.3 250.7 L715.5 251.4 L714.6 252.5 L715.4 251.2 L716.2 250.6 L717.3 251.7 L717.6 253.2 L717.0 254.9 L717.8 256.3 L718.0 255.0 L717.7 253.4 L718.3 252.0 L718.1 250.4 L717.7 248.9 L717.8 247.3 L719.2 246.6 L719.1 248.0 L720.2 249.3 L720.3 250.8 L720.6 252.5 L720.5 250.7 L721.4 249.5 L722.6 248.4 L721.2 246.5 L722.8 245.3 L722.0 243.6 L723.3 242.4 L724.1 241.0 L723.9 239.4 L723.9 237.9 L724.4 236.4 L725.2 235.1 L724.8 233.4 L726.4 232.3 L727.0 231.7 L728.1 230.8 L727.5 229.4 L728.6 230.5 L729.0 232.1 L728.7 233.8 L729.4 235.1 L730.3 236.4 L730.2 238.0 L730.5 239.5 L730.2 241.0 L731.6 242.5 L731.4 244.0 L730.1 245.5 L730.7 247.0 L731.4 248.3 L732.1 249.6 L731.7 251.4 L732.9 252.6 L733.1 254.1 L733.6 255.5 L735.1 256.8 L734.3 258.4 L735.4 259.8 L734.4 261.4 L735.0 262.9 L734.3 264.5 L736.0 265.8 L734.9 267.4 L735.0 268.9 L735.1 270.4 L735.6 271.9 L734.9 273.5 L736.6 274.7 L736.7 276.2 L735.7 277.9 L735.0 279.5 L736.2 280.6 L735.3 278.8 L736.6 277.5 L737.9 276.3 L737.5 274.7 L737.9 273.2 L738.0 271.7 L739.5 270.8 L739.3 269.5 L738.7 271.2 L739.9 272.4 L739.4 274.1 L741.1 275.2 L740.7 276.8 L740.4 274.9 L740.7 273.4 L741.9 272.2 L742.3 270.6 L742.3 272.5 L742.8 273.3 L744.4 274.4 L744.9 275.8 L746.2 277.0 L745.0 278.9 L746.1 280.1 L745.2 282.1 L746.7 282.6 L746.9 281.1 L746.9 279.5 L746.7 278.0 L747.2 276.5 L748.7 275.3 L747.9 273.3 L748.3 272.5 L749.8 271.1 L748.5 269.5 L750.6 268.1 L749.6 266.6 L748.7 265.1 L750.5 263.6 L748.3 262.0 L748.3 260.5 L750.8 259.1 L749.5 257.6 L749.9 256.1 L750.5 254.6 L748.5 253.0 L750.6 251.6 L749.9 250.1 L748.6 248.5 L749.9 247.1 L750.6 245.6 L749.4 244.1 L750.7 242.6 L750.6 241.1 L750.8 239.7 L750.2 238.1 L750.7 236.7 L750.2 235.0 L751.3 233.7 L751.3 232.2 L752.4 231.1 L751.9 229.0 L753.6 228.3 L754.0 226.8 L755.1 225.6 L754.2 223.7 L754.6 222.3 L754.8 220.8 L756.0 219.6 L755.5 217.9 L756.5 216.6 L756.8 215.1 L756.0 213.5 L757.5 212.2 L756.6 210.5 L756.5 209.0 L756.6 207.5 L757.1 206.1 L757.5 204.6 L757.1 203.1 L757.8 201.6 L757.7 200.1 L757.4 198.5 L758.5 197.2 L758.9 195.9 L759.1 194.1 L760.4 193.3 L761.4 192.2 L762.2 190.9 L761.0 189.0 L762.7 187.6 L762.7 186.1 L761.7 184.6 L761.4 183.1 L762.6 181.6 L762.2 180.1 L763.1 178.6 L762.9 177.1 L762.2 175.6 L762.8 174.1 L762.3 172.6 L761.7 171.1 L763.0 169.6 L763.2 168.1 L762.6 166.6 L762.2 165.1 L762.9 163.6 L763.3 162.1 L762.7 160.6 L763.6 159.1 L764.0 157.7 L764.0 156.2 L763.5 154.6 L763.0 153.0 L764.0 151.7 L764.8 150.3 L764.2 148.7 L764.3 147.2 L765.0 149.0 L766.5 149.9 L766.3 151.4 L766.7 152.9 L767.0 154.4 L765.9 156.1 L766.9 157.4 L767.5 158.8 L767.3 159.4 L767.2 158.0 L768.5 156.8 L767.3 155.0 L767.9 153.5 L768.1 152.0 L769.8 151.0 L769.6 149.3 L770.2 148.0 L769.0 146.3 L769.4 144.8 L769.2 143.3 L770.3 141.9 L770.2 140.4 L770.8 138.9 L770.7 137.4 L770.1 135.9 L769.8 134.3 L770.7 132.9 L770.6 131.4 L770.6 129.9 L770.6 128.4 L771.4 126.9 L771.1 125.4 L771.9 124.0 L771.4 122.4 L771.9 120.9 L771.3 119.4 L772.3 118.0 L771.9 116.4 L772.2 114.9 L772.3 113.4 L772.7 112.0 L771.7 110.4 L772.2 108.9 L773.6 107.9 L773.8 106.2 L774.4 104.9 L774.3 104.6 L775.0 105.8 L774.7 107.5 L775.6 108.8 L775.5 110.3 L776.4 111.7 L775.9 113.3 L776.5 114.7 L777.2 116.2 L776.1 117.8 L776.8 119.2 L776.9 120.7 L776.1 122.3 L776.4 123.8 L777.3 125.2 L776.4 126.8 L776.9 127.7 L776.8 125.9 L777.7 124.6 L777.7 123.1 L777.3 121.5 L778.0 120.1 L778.3 118.6 L778.4 117.1 L778.6 115.6 L778.9 114.1 L779.1 112.7 L779.4 111.2 L779.5 109.7 L779.7 108.2 L779.8 106.7 L780.0 105.2 L780.1 103.7 L780.3 102.2 L780.3 100.7 L780.2 99.2 L780.1 97.7 L780.0 96.2 L780.0 94.7 L780.1 93.2 L780.1 91.7 L780.2 90.2 L780.2 88.7 L780.3 87.2 L780.3 85.7 L780.4 84.2 L780.4 82.7 L780.5 81.2 L780.5 79.8 L780.6 78.3 L780.6 76.8 L780.7 75.3 L780.8 73.8 L780.8 72.3 L780.9 70.8 L780.9 69.3 L781.0 67.8 L781.0 66.3 L781.1 64.8 L781.1 63.3 L781.2 61.8 L781.2 60.3 L781.3 58.8 L781.3 57.3 L781.4 55.8 L781.5 54.3 L781.6 52.8 L781.7 51.3 L781.9 49.8 L782.0 48.3 L782.1 46.8 L782.2 45.3 L782.3 43.8 L782.4 42.3 L782.5 40.8 L782.6 39.3 L782.7 37.8 L782.9 36.3 L783.0 34.8 L783.1 33.3 L783.2 31.8 L783.3 30.3 L783.4 29.4" stroke="#dddddd" stroke-width="3.3"/>
</g>
<!-- /SERIES -->
<!-- legend -->
<line x1="290.2" y1="385.6" x2="323" y2="385.6" stroke="#808080" stroke-width="3.8" stroke-linecap="round"/>
<text class="lg" x="329.5" y="390.8">杠杆多头</text>
<line x1="412.6" y1="385.6" x2="444.4" y2="385.6" stroke="#a0a0a0" stroke-width="4" stroke-linecap="round"/>
<line x1="412.6" y1="385.6" x2="444.4" y2="385.6" stroke="#dedede" stroke-width="2.8" stroke-linecap="round"/>
<text class="lg" x="451" y="390.8">杠杆空头</text>
</svg>
</body></html>
